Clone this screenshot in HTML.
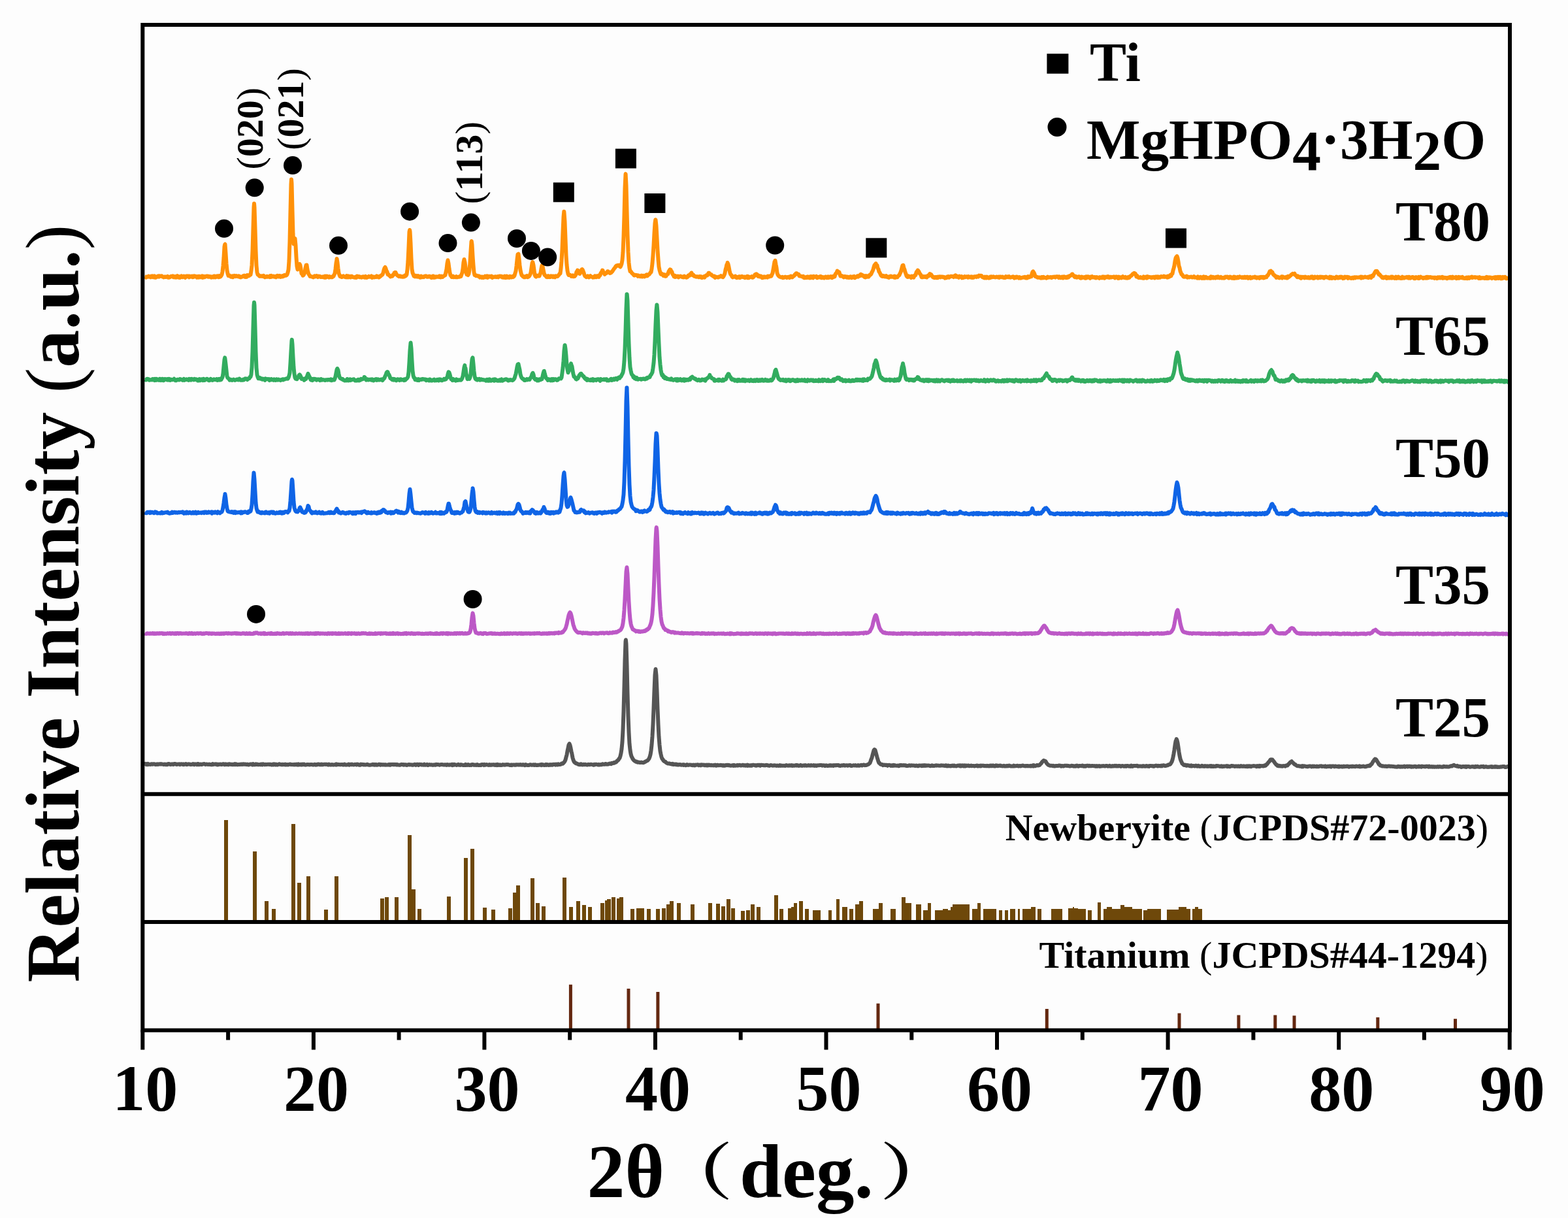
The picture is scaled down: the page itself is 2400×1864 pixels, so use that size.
<!DOCTYPE html><html><head><meta charset="utf-8"><title>XRD</title><style>
html,body{margin:0;padding:0;background:#fdfdfd;}svg{display:block;}
text{font-family:"Liberation Serif","Noto Serif CJK SC",serif;font-weight:bold;fill:#000;}
</style></head><body>
<svg width="2400" height="1864" viewBox="0 0 2400 1864">
<rect width="2400" height="1864" fill="#fdfdfd"/>
<g fill="#6E480A">
<rect x="343" y="1255" width="6" height="154"/>
<rect x="387" y="1303" width="6" height="106"/>
<rect x="405" y="1379" width="6" height="30"/>
<rect x="416" y="1391" width="6" height="18"/>
<rect x="446" y="1261" width="6" height="148"/>
<rect x="455" y="1351" width="6" height="58"/>
<rect x="469" y="1341" width="6" height="68"/>
<rect x="496" y="1392" width="6" height="17"/>
<rect x="512" y="1341" width="6" height="68"/>
<rect x="582" y="1375" width="6" height="34"/>
<rect x="589" y="1373" width="6" height="36"/>
<rect x="604" y="1373" width="6" height="36"/>
<rect x="624" y="1278" width="6" height="131"/>
<rect x="630" y="1361" width="6" height="48"/>
<rect x="639" y="1391" width="6" height="18"/>
<rect x="684" y="1372" width="6" height="37"/>
<rect x="710" y="1313" width="6" height="96"/>
<rect x="720" y="1299" width="6" height="110"/>
<rect x="739" y="1389" width="6" height="20"/>
<rect x="752" y="1392" width="6" height="17"/>
<rect x="778" y="1390" width="6" height="19"/>
<rect x="785" y="1366" width="6" height="43"/>
<rect x="790" y="1355" width="6" height="54"/>
<rect x="812" y="1344" width="6" height="65"/>
<rect x="820" y="1382" width="6" height="27"/>
<rect x="829" y="1387" width="6" height="22"/>
<rect x="861" y="1343" width="6" height="66"/>
<rect x="871" y="1388" width="6" height="21"/>
<rect x="882" y="1379" width="6" height="30"/>
<rect x="891" y="1385" width="6" height="24"/>
<rect x="900" y="1388" width="6" height="21"/>
<rect x="919" y="1382" width="6" height="27"/>
<rect x="926" y="1378" width="6" height="31"/>
<rect x="929" y="1376" width="6" height="33"/>
<rect x="936" y="1373" width="6" height="36"/>
<rect x="944" y="1375" width="6" height="34"/>
<rect x="948" y="1373" width="6" height="36"/>
<rect x="965" y="1391" width="6" height="18"/>
<rect x="974" y="1390" width="6" height="19"/>
<rect x="980" y="1390" width="6" height="19"/>
<rect x="990" y="1391" width="6" height="18"/>
<rect x="1004" y="1391" width="6" height="18"/>
<rect x="1013" y="1390" width="6" height="19"/>
<rect x="1020" y="1384" width="6" height="25"/>
<rect x="1025" y="1379" width="6" height="30"/>
<rect x="1036" y="1382" width="6" height="27"/>
<rect x="1057" y="1384" width="6" height="25"/>
<rect x="1084" y="1382" width="6" height="27"/>
<rect x="1096" y="1383" width="6" height="26"/>
<rect x="1104" y="1387" width="6" height="22"/>
<rect x="1112" y="1376" width="6" height="33"/>
<rect x="1119" y="1390" width="6" height="19"/>
<rect x="1134" y="1394" width="6" height="15"/>
<rect x="1142" y="1393" width="6" height="16"/>
<rect x="1149" y="1384" width="6" height="25"/>
<rect x="1158" y="1388" width="6" height="21"/>
<rect x="1185" y="1370" width="6" height="40"/>
<rect x="1193" y="1391" width="6" height="18"/>
<rect x="1194" y="1393" width="5" height="16"/>
<rect x="1206" y="1390" width="5" height="19"/>
<rect x="1211" y="1388" width="4" height="21"/>
<rect x="1215" y="1382" width="5" height="27"/>
<rect x="1223" y="1379" width="6" height="30"/>
<rect x="1232" y="1391" width="6" height="18"/>
<rect x="1244" y="1393" width="12" height="16"/>
<rect x="1268" y="1393" width="5" height="16"/>
<rect x="1280" y="1376" width="5" height="33"/>
<rect x="1289" y="1388" width="8" height="21"/>
<rect x="1300" y="1391" width="6" height="18"/>
<rect x="1309" y="1384" width="6" height="25"/>
<rect x="1315" y="1379" width="6" height="30"/>
<rect x="1336" y="1391" width="9" height="18"/>
<rect x="1345" y="1382" width="6" height="27"/>
<rect x="1363" y="1391" width="8" height="18"/>
<rect x="1380" y="1373" width="6" height="36"/>
<rect x="1386" y="1382" width="9" height="27"/>
<rect x="1402" y="1384" width="8" height="25"/>
<rect x="1413" y="1393" width="7" height="16"/>
<rect x="1420" y="1382" width="5" height="27"/>
<rect x="1431" y="1393" width="12" height="16"/>
<rect x="1443" y="1391" width="8" height="18"/>
<rect x="1451" y="1393" width="4" height="16"/>
<rect x="1455" y="1388" width="3" height="21"/>
<rect x="1458" y="1384" width="26" height="25"/>
<rect x="1488" y="1391" width="8" height="18"/>
<rect x="1496" y="1382" width="5" height="27"/>
<rect x="1505" y="1391" width="20" height="18"/>
<rect x="1529" y="1393" width="5" height="16"/>
<rect x="1538" y="1393" width="5" height="16"/>
<rect x="1546" y="1391" width="8" height="18"/>
<rect x="1558" y="1391" width="3" height="18"/>
<rect x="1565" y="1391" width="13" height="18"/>
<rect x="1578" y="1388" width="7" height="21"/>
<rect x="1580" y="1388" width="5" height="21"/>
<rect x="1588" y="1391" width="6" height="18"/>
<rect x="1609" y="1391" width="17" height="18"/>
<rect x="1635" y="1390" width="7" height="19"/>
<rect x="1642" y="1388" width="2" height="21"/>
<rect x="1644" y="1390" width="6" height="19"/>
<rect x="1650" y="1391" width="12" height="18"/>
<rect x="1665" y="1393" width="6" height="16"/>
<rect x="1680" y="1381" width="5" height="28"/>
<rect x="1689" y="1391" width="5" height="18"/>
<rect x="1694" y="1388" width="8" height="21"/>
<rect x="1702" y="1391" width="13" height="18"/>
<rect x="1715" y="1385" width="6" height="24"/>
<rect x="1721" y="1388" width="12" height="21"/>
<rect x="1733" y="1391" width="15" height="18"/>
<rect x="1750" y="1393" width="6" height="16"/>
<rect x="1756" y="1391" width="21" height="18"/>
<rect x="1786" y="1392" width="18" height="17"/>
<rect x="1804" y="1388" width="12" height="21"/>
<rect x="1816" y="1391" width="6" height="18"/>
<rect x="1825" y="1391" width="4" height="18"/>
<rect x="1829" y="1388" width="5" height="21"/>
<rect x="1834" y="1391" width="6" height="18"/>
</g>
<g fill="#642810">
<rect x="870.9" y="1506.8" width="5" height="67.7"/>
<rect x="959.5" y="1513.0" width="5" height="61.5"/>
<rect x="1004.4" y="1518.0" width="5" height="56.5"/>
<rect x="1341.5" y="1535.7" width="5" height="38.8"/>
<rect x="1599.8" y="1544.0" width="5" height="30.5"/>
<rect x="1802.5" y="1550.6" width="5" height="23.9"/>
<rect x="1893.4" y="1553.5" width="5" height="21.0"/>
<rect x="1949.3" y="1553.5" width="5" height="21.0"/>
<rect x="1978.5" y="1554.3" width="5" height="20.2"/>
<rect x="2106.3" y="1556.9" width="5" height="17.6"/>
<rect x="2225.0" y="1559.2" width="5" height="15.3"/>
</g>
<g fill="none" stroke-width="6" stroke-linejoin="round" stroke-linecap="butt">
<path stroke="#FF9108" d="M221.5,423.4 222.5,423.7 223.5,424.6 224.5,423.4 225.5,423.5 226.5,423.7 227.5,422.7 228.5,423.5 229.5,423.8 230.5,424.3 231.5,422.5 232.5,423.0 233.5,422.4 234.5,424.3 235.5,424.0 236.5,422.3 237.5,424.8 238.5,424.7 239.5,423.9 240.5,423.8 241.5,422.6 242.5,422.3 243.5,423.6 244.5,422.4 245.5,422.7 246.5,422.8 247.5,422.3 248.5,423.4 249.5,423.4 250.5,424.4 251.5,423.6 252.5,423.9 253.5,423.5 254.5,423.9 255.5,423.4 256.5,422.9 257.5,424.8 258.5,424.8 259.5,424.4 260.5,424.1 261.5,423.0 262.5,422.8 263.5,423.0 264.5,422.4 265.5,424.2 266.5,423.3 267.5,424.4 268.5,423.2 269.5,424.7 270.5,424.4 271.5,422.2 272.5,422.8 273.5,424.6 274.5,423.5 275.5,424.8 276.5,423.3 277.5,422.4 278.5,423.9 279.5,424.3 280.5,422.9 281.5,422.5 282.5,423.1 283.5,424.8 284.5,424.2 285.5,422.6 286.5,422.9 287.5,422.5 288.5,422.4 289.5,424.3 290.5,422.7 291.5,423.7 292.5,423.4 293.5,422.7 294.5,424.2 295.5,422.6 296.5,423.9 297.5,422.5 298.5,423.3 299.5,422.8 300.5,422.9 301.5,424.7 302.5,424.3 303.5,423.0 304.5,424.5 305.5,422.8 306.5,423.2 307.5,424.4 308.5,423.9 309.5,422.5 310.5,424.8 311.5,422.8 312.5,422.9 313.5,424.2 314.5,423.1 315.5,423.0 316.5,422.4 317.5,422.4 318.5,423.7 319.5,422.8 320.5,423.7 321.5,423.1 322.5,423.3 323.5,424.6 324.5,423.4 325.5,423.6 326.5,424.3 327.5,422.5 328.5,422.4 329.5,424.4 330.5,424.1 331.5,422.6 332.5,422.3 333.5,423.7 334.5,424.1 335.5,422.0 336.5,423.8 337.5,423.3 338.5,422.1 339.5,420.3 340.5,415.9 341.5,407.1 342.5,394.8 343.5,377.3 344.2,374.1 344.5,373.8 345.5,387.7 346.5,403.3 347.5,413.6 348.5,418.6 349.5,421.9 350.5,421.0 351.5,421.7 352.5,422.8 353.5,423.7 354.5,423.2 355.5,422.4 356.5,424.2 357.5,422.4 358.5,421.9 359.5,422.6 360.5,423.1 361.5,422.1 362.5,422.4 363.5,422.9 364.5,423.4 365.5,422.3 366.5,422.9 367.5,424.2 368.5,424.4 369.5,423.6 370.5,423.6 371.5,423.3 372.5,422.1 373.5,421.8 374.5,421.7 375.5,423.9 376.5,423.2 377.5,423.8 378.5,421.1 379.5,422.5 380.5,421.8 381.5,421.9 382.5,420.1 383.5,420.5 384.5,414.6 385.5,406.0 386.5,384.4 387.5,349.7 388.5,317.0 389.0,311.6 389.5,317.2 390.5,349.7 391.5,383.4 392.5,406.4 393.5,416.7 394.5,420.2 395.5,420.4 396.5,422.1 397.5,422.8 398.5,422.3 399.5,422.7 400.5,422.2 401.5,422.9 402.5,423.1 403.5,421.8 404.5,423.3 405.5,424.3 406.5,424.0 407.5,423.7 408.5,422.8 409.5,423.8 410.5,423.4 411.5,423.0 412.5,424.1 413.5,422.1 414.5,423.8 415.5,422.0 416.5,423.5 417.5,423.1 418.5,422.5 419.5,423.7 420.5,423.2 421.5,423.4 422.5,424.2 423.5,422.4 424.5,421.8 425.5,422.5 426.5,423.4 427.5,422.1 428.5,422.0 429.5,423.8 430.5,423.1 431.5,422.4 432.5,423.4 433.5,421.8 434.5,422.5 435.5,421.0 436.5,421.2 437.5,421.7 438.5,421.3 439.5,420.2 440.5,417.0 441.5,412.8 442.5,399.0 443.5,369.3 444.5,323.8 445.5,281.8 446.0,274.4 446.5,280.4 447.5,320.7 448.5,358.0 449.5,373.2 450.5,369.7 451.5,364.9 452.5,375.3 453.5,393.6 454.5,407.5 455.5,412.5 456.5,410.9 457.5,407.9 458.5,405.5 458.6,404.1 459.5,405.9 460.5,411.6 461.5,418.6 462.5,419.0 463.5,421.6 464.5,421.2 465.5,419.3 466.5,417.4 467.5,410.2 468.5,405.8 469.0,405.8 469.5,405.6 470.5,412.6 471.5,416.4 472.5,419.6 473.5,420.8 474.5,422.9 475.5,422.7 476.5,423.3 477.5,423.5 478.5,423.9 479.5,424.4 480.5,423.7 481.5,422.5 482.5,423.3 483.5,422.5 484.5,422.1 485.5,423.3 486.5,424.0 487.5,422.6 488.5,422.8 489.5,423.0 490.5,424.0 491.5,423.5 492.5,423.8 493.5,424.1 494.5,423.3 495.5,424.3 496.5,424.6 497.5,422.5 498.5,424.7 499.5,424.1 500.5,422.6 501.5,423.4 502.5,423.8 503.5,424.5 504.5,423.1 505.5,423.6 506.5,424.3 507.5,424.0 508.5,424.2 509.5,422.8 510.5,422.8 511.5,420.3 512.5,418.3 513.5,411.9 514.5,402.5 515.5,397.3 515.6,396.0 516.5,401.6 517.5,410.6 518.5,417.9 519.5,420.8 520.5,423.0 521.5,422.4 522.5,424.1 523.5,424.1 524.5,422.9 525.5,422.3 526.5,423.3 527.5,423.6 528.5,424.2 529.5,423.5 530.5,422.3 531.5,424.4 532.5,422.5 533.5,424.4 534.5,422.8 535.5,423.2 536.5,424.4 537.5,422.7 538.5,422.7 539.5,423.7 540.5,424.2 541.5,424.5 542.5,424.2 543.5,424.8 544.5,423.7 545.5,424.8 546.5,422.6 547.5,423.0 548.5,423.7 549.5,423.1 550.5,424.3 551.5,424.0 552.5,423.7 553.5,424.6 554.5,423.8 555.5,423.2 556.5,423.4 557.5,424.6 558.5,424.7 559.5,422.9 560.5,424.6 561.5,424.9 562.5,423.7 563.5,423.9 564.5,422.9 565.5,423.8 566.5,423.7 567.5,423.9 568.5,422.4 569.5,424.9 570.5,423.7 571.5,423.4 572.5,424.4 573.5,423.8 574.5,423.6 575.5,424.1 576.5,422.4 577.5,423.6 578.5,423.2 579.5,424.5 580.5,424.4 581.5,422.5 582.5,422.7 583.5,421.3 584.5,421.0 585.5,420.1 586.5,417.7 587.5,413.5 588.5,410.3 589.5,408.9 590.5,411.1 591.5,414.6 592.5,415.7 593.5,420.0 594.5,419.8 595.5,421.3 596.5,421.9 597.5,423.4 598.5,422.5 599.5,422.4 600.5,422.7 601.5,420.5 602.5,420.7 603.5,417.6 604.5,417.5 604.8,416.8 605.5,417.0 606.5,419.2 607.5,420.6 608.5,421.6 609.5,422.4 610.5,423.1 611.5,422.2 612.5,422.4 613.5,423.5 614.5,423.4 615.5,423.1 616.5,423.8 617.5,423.0 618.5,423.5 619.5,421.6 620.5,422.5 621.5,421.8 622.5,420.0 623.5,412.7 624.5,399.3 625.5,378.7 626.5,354.9 627.1,352.0 627.5,354.0 628.5,371.7 629.5,395.3 630.5,411.8 631.5,417.6 632.5,419.7 633.5,422.6 634.5,422.1 635.5,423.3 636.5,421.8 637.5,422.7 638.5,423.6 639.5,422.0 640.5,422.5 641.5,423.8 642.5,424.5 643.5,424.7 644.5,422.5 645.5,423.5 646.5,424.2 647.5,423.6 648.5,424.1 649.5,422.8 650.5,422.5 651.5,422.6 652.5,422.4 653.5,423.8 654.5,423.7 655.5,423.8 656.5,422.7 657.5,422.8 658.5,422.9 659.5,424.6 660.5,425.0 661.5,424.8 662.5,422.6 663.5,422.5 664.5,424.8 665.5,423.6 666.5,424.4 667.5,423.2 668.5,423.6 669.5,423.7 670.5,423.4 671.5,423.9 672.5,422.3 673.5,424.1 674.5,424.4 675.5,422.6 676.5,423.3 677.5,423.9 678.5,422.9 679.5,422.2 680.5,421.6 681.5,421.1 682.5,416.3 683.5,411.8 684.5,403.0 685.5,398.3 686.5,403.1 687.5,411.1 688.5,417.2 689.5,421.3 690.5,422.4 691.5,424.1 692.5,423.9 693.5,422.6 694.5,424.3 695.5,423.9 696.5,424.1 697.5,424.2 698.5,423.1 699.5,424.3 700.5,424.3 701.5,423.7 702.5,423.8 703.5,423.7 704.5,422.5 705.5,422.9 706.5,419.9 707.5,417.3 708.5,411.2 709.5,401.4 710.5,397.0 710.6,397.7 711.5,401.2 712.5,408.5 713.5,417.3 714.5,420.2 715.5,420.5 716.5,421.0 717.5,418.9 718.5,413.2 719.5,400.7 720.5,384.5 721.5,369.9 721.8,369.1 722.5,374.2 723.5,392.0 724.5,405.7 725.5,416.7 726.5,421.0 727.5,421.2 728.5,422.1 729.5,421.5 730.5,422.2 731.5,422.8 732.5,422.2 733.5,422.7 734.5,424.5 735.5,423.6 736.5,423.5 737.5,424.8 738.5,423.8 739.5,424.9 740.5,424.0 741.5,424.5 742.5,422.6 743.5,423.9 744.5,424.4 745.5,422.5 746.5,424.8 747.5,422.8 748.5,423.7 749.5,422.9 750.5,423.7 751.5,424.0 752.5,422.6 753.5,424.9 754.5,423.6 755.5,423.8 756.5,424.0 757.5,423.4 758.5,423.2 759.5,424.2 760.5,423.9 761.5,423.2 762.5,424.3 763.5,423.2 764.5,422.5 765.5,423.1 766.5,422.6 767.5,422.9 768.5,424.4 769.5,423.4 770.5,424.8 771.5,424.4 772.5,422.6 773.5,425.0 774.5,424.9 775.5,422.6 776.5,424.7 777.5,423.4 778.5,423.5 779.5,424.8 780.5,422.8 781.5,423.5 782.5,424.5 783.5,423.8 784.5,423.0 785.5,424.0 786.5,423.2 787.5,421.6 788.5,418.1 789.5,414.9 790.5,407.1 791.5,397.2 792.5,389.2 793.1,388.9 793.5,388.6 794.5,396.0 795.5,405.9 796.5,413.2 797.5,417.8 798.5,421.2 799.5,421.9 800.5,423.4 801.5,423.0 802.5,424.3 803.5,424.2 804.5,423.7 805.5,422.5 806.5,422.1 807.5,424.1 808.5,423.7 809.5,423.1 810.5,421.8 811.5,419.9 812.5,417.1 813.5,410.0 814.5,402.9 815.2,401.0 815.5,401.7 816.5,405.9 817.5,413.5 818.5,420.5 819.5,422.8 820.5,423.5 821.5,421.6 822.5,421.8 823.5,422.3 824.5,422.6 825.5,422.6 826.5,419.8 827.5,417.6 828.5,411.1 829.5,406.3 830.0,407.1 830.5,407.5 831.5,412.6 832.5,417.2 833.5,420.9 834.5,421.6 835.5,422.5 836.5,423.8 837.5,424.1 838.5,422.2 839.5,422.3 840.5,424.1 841.5,423.6 842.5,424.0 843.5,422.5 844.5,423.1 845.5,422.6 846.5,424.0 847.5,422.7 848.5,423.4 849.5,424.2 850.5,422.3 851.5,422.7 852.5,423.0 853.5,423.1 854.5,421.4 855.5,420.7 856.5,418.9 857.5,418.5 858.5,411.0 859.5,399.7 860.5,381.6 861.5,355.5 862.5,332.3 863.3,323.7 863.5,325.5 864.5,339.0 865.5,365.5 866.5,390.6 867.5,405.1 868.5,414.2 869.5,419.2 870.5,420.9 871.5,420.6 872.5,420.8 873.5,421.7 874.5,422.9 875.5,422.1 876.5,421.5 877.5,423.1 878.5,422.5 879.5,422.9 880.5,421.8 881.5,419.8 882.5,416.1 883.5,415.2 884.0,413.6 884.5,413.9 885.5,415.6 886.5,418.6 887.5,419.0 888.5,416.2 889.5,414.2 890.5,412.3 891.0,412.0 891.5,412.5 892.5,414.8 893.5,417.3 894.5,420.7 895.5,422.8 896.5,422.9 897.5,424.1 898.5,423.4 899.5,422.5 900.5,424.0 901.5,424.4 902.5,422.9 903.5,422.2 904.5,423.5 905.5,423.6 906.5,423.7 907.5,424.7 908.5,423.9 909.5,424.3 910.5,422.3 911.5,423.5 912.5,424.1 913.5,422.2 914.5,422.2 915.5,423.7 916.5,423.9 917.5,421.1 918.5,421.3 919.5,418.0 920.5,417.1 921.5,414.9 922.0,413.6 922.5,413.7 923.5,416.8 924.5,418.1 925.5,419.9 926.5,418.9 927.5,417.8 928.5,417.9 929.5,415.9 930.0,415.2 930.5,415.2 931.5,416.2 932.5,417.0 933.5,418.1 934.5,416.8 935.5,417.3 936.5,415.9 937.5,415.0 938.5,413.3 939.5,411.8 940.5,410.5 941.5,409.4 942.5,407.5 943.5,406.5 944.0,406.8 944.5,406.9 945.5,405.9 946.5,406.1 947.5,405.8 948.5,407.7 949.5,408.5 950.5,406.4 951.5,403.7 952.5,398.2 953.5,386.3 954.5,362.7 955.5,329.4 956.5,287.8 957.5,266.8 957.6,266.1 958.5,283.4 959.5,322.6 960.5,358.8 961.5,385.4 962.5,402.0 963.5,410.4 964.5,415.3 965.5,415.3 966.5,417.0 967.5,418.2 968.5,419.1 969.5,419.7 970.5,421.4 971.5,421.4 972.5,420.8 973.5,420.9 974.5,421.3 975.5,421.2 976.5,422.8 977.5,421.7 978.5,422.4 979.5,423.2 980.5,422.3 981.5,421.7 982.5,423.4 983.5,423.4 984.5,421.9 985.5,422.3 986.5,423.3 987.5,421.9 988.5,421.1 989.5,420.4 990.5,422.4 991.5,421.7 992.5,420.2 993.5,419.9 994.5,419.0 995.5,417.0 996.5,416.6 997.5,411.5 998.5,403.2 999.5,391.1 1000.5,376.1 1001.5,356.8 1002.5,341.6 1003.3,336.3 1003.5,336.4 1004.5,345.6 1005.5,364.0 1006.5,382.7 1007.5,397.0 1008.5,408.3 1009.5,413.2 1010.5,416.8 1011.5,419.6 1012.5,418.8 1013.5,420.3 1014.5,419.8 1015.5,421.9 1016.5,420.2 1017.5,422.5 1018.5,422.8 1019.5,422.6 1020.5,420.2 1021.5,419.7 1022.5,419.2 1023.5,415.4 1024.5,414.0 1025.5,412.4 1026.0,413.5 1026.5,412.8 1027.5,415.2 1028.5,416.2 1029.5,419.8 1030.5,420.7 1031.5,423.1 1032.5,421.7 1033.5,423.9 1034.5,422.5 1035.5,423.5 1036.5,423.5 1037.5,422.6 1038.5,424.4 1039.5,423.1 1040.5,423.1 1041.5,422.5 1042.5,423.2 1043.5,423.6 1044.5,424.2 1045.5,423.3 1046.5,424.2 1047.5,422.7 1048.5,423.4 1049.5,423.6 1050.5,424.8 1051.5,424.4 1052.5,423.7 1053.5,421.6 1054.5,421.9 1055.5,421.8 1056.5,419.5 1057.5,419.4 1058.4,418.8 1058.5,417.6 1059.5,420.7 1060.5,421.2 1061.5,420.8 1062.5,422.7 1063.5,422.5 1064.5,423.1 1065.5,423.7 1066.5,423.2 1067.5,423.3 1068.5,423.5 1069.5,424.2 1070.5,423.2 1071.5,423.0 1072.5,424.4 1073.5,423.4 1074.5,425.0 1075.5,424.0 1076.5,424.4 1077.5,423.3 1078.5,424.5 1079.5,422.3 1080.5,422.0 1081.5,421.1 1082.5,421.5 1083.5,420.2 1084.5,417.7 1085.5,417.8 1086.5,419.4 1087.5,419.9 1088.5,419.9 1089.5,421.4 1090.5,422.0 1091.5,422.4 1092.5,423.4 1093.5,422.6 1094.5,424.9 1095.5,423.6 1096.5,423.8 1097.5,424.2 1098.5,424.5 1099.5,424.6 1100.5,423.4 1101.5,423.3 1102.5,423.4 1103.5,422.3 1104.5,423.2 1105.5,423.8 1106.5,424.1 1107.5,422.8 1108.5,420.9 1109.5,418.2 1110.5,412.8 1111.5,409.0 1112.5,404.8 1113.5,403.5 1113.6,402.1 1114.5,404.2 1115.5,408.5 1116.5,413.9 1117.5,418.1 1118.5,420.4 1119.5,420.9 1120.5,423.4 1121.5,424.3 1122.5,423.6 1123.5,423.2 1124.5,423.7 1125.5,422.8 1126.5,424.3 1127.5,425.1 1128.5,423.9 1129.5,424.5 1130.5,424.8 1131.5,423.2 1132.5,425.1 1133.5,424.3 1134.5,423.2 1135.5,422.9 1136.5,423.3 1137.5,424.2 1138.5,424.5 1139.5,423.6 1140.5,425.1 1141.5,423.7 1142.5,423.9 1143.5,423.0 1144.5,425.2 1145.5,423.1 1146.5,425.0 1147.5,424.1 1148.5,424.1 1149.5,424.1 1150.5,423.2 1151.5,424.8 1152.5,424.7 1153.5,423.7 1154.5,422.4 1155.5,420.3 1156.5,421.3 1157.5,419.5 1157.6,421.1 1158.5,419.7 1159.5,421.3 1160.5,422.8 1161.5,421.9 1162.5,423.4 1163.5,422.5 1164.5,422.6 1165.5,423.0 1166.5,425.2 1167.5,425.1 1168.5,424.3 1169.5,423.4 1170.5,424.4 1171.5,424.5 1172.5,423.6 1173.5,424.1 1174.5,424.6 1175.5,422.5 1176.5,422.9 1177.5,423.5 1178.5,422.5 1179.5,422.8 1180.5,422.7 1181.5,420.2 1182.5,418.1 1183.5,412.5 1184.5,406.9 1185.5,400.7 1186.2,400.0 1186.5,398.7 1187.5,404.6 1188.5,409.7 1189.5,417.5 1190.5,420.4 1191.5,422.0 1192.5,422.7 1193.5,423.7 1194.5,424.0 1195.5,424.3 1196.5,424.4 1197.5,423.8 1198.5,425.1 1199.5,424.8 1200.5,424.8 1201.5,423.7 1202.5,423.8 1203.5,424.1 1204.5,425.0 1205.5,424.0 1206.5,424.0 1207.5,423.8 1208.5,425.0 1209.5,423.4 1210.5,422.6 1211.5,424.2 1212.5,424.4 1213.5,423.5 1214.5,422.6 1215.5,422.2 1216.5,420.2 1217.5,420.2 1218.5,418.2 1219.4,418.2 1219.5,419.0 1220.5,419.5 1221.5,419.8 1222.5,419.8 1223.5,422.3 1224.5,422.5 1225.5,422.4 1226.5,422.9 1227.5,423.4 1228.5,423.2 1229.5,422.8 1230.5,425.1 1231.5,425.3 1232.5,424.5 1233.5,425.0 1234.5,423.9 1235.5,424.9 1236.5,423.4 1237.5,424.8 1238.5,424.3 1239.5,425.2 1240.5,423.1 1241.5,424.9 1242.5,423.2 1243.5,424.2 1244.5,425.3 1245.5,422.8 1246.5,423.5 1247.5,423.6 1248.5,423.7 1249.5,423.0 1250.5,425.2 1251.5,425.0 1252.5,423.9 1253.5,423.8 1254.5,424.4 1255.5,423.0 1256.5,422.9 1257.5,425.2 1258.5,423.7 1259.5,424.1 1260.5,425.3 1261.5,425.4 1262.5,424.1 1263.5,423.4 1264.5,423.6 1265.5,425.2 1266.5,425.1 1267.5,423.3 1268.5,424.9 1269.5,423.7 1270.5,424.0 1271.5,423.1 1272.5,424.9 1273.5,425.2 1274.5,423.0 1275.5,423.9 1276.5,422.3 1277.5,423.3 1278.5,419.9 1279.5,418.2 1280.5,417.6 1281.5,414.7 1282.4,415.6 1282.5,415.6 1283.5,416.1 1284.5,416.5 1285.5,420.1 1286.5,422.5 1287.5,422.4 1288.5,422.1 1289.5,422.9 1290.5,423.3 1291.5,424.4 1292.5,423.1 1293.5,423.1 1294.5,423.3 1295.5,424.4 1296.5,424.8 1297.5,423.7 1298.5,424.5 1299.5,425.0 1300.5,424.3 1301.5,423.3 1302.5,423.5 1303.5,425.1 1304.5,424.5 1305.5,423.4 1306.5,424.4 1307.5,422.9 1308.5,425.2 1309.5,423.8 1310.5,423.9 1311.5,423.8 1312.5,422.4 1313.5,423.5 1314.5,422.1 1315.5,421.4 1316.5,422.1 1317.5,419.8 1317.9,420.3 1318.5,421.6 1319.5,420.7 1320.5,421.4 1321.5,422.7 1322.5,422.1 1323.5,424.2 1324.5,424.5 1325.5,422.0 1326.5,423.0 1327.5,423.6 1328.5,422.5 1329.5,423.6 1330.5,422.0 1331.5,420.5 1332.5,420.4 1333.5,419.3 1334.5,416.6 1335.5,415.0 1336.5,412.4 1337.5,408.7 1338.5,405.8 1339.5,404.7 1340.3,403.7 1340.5,403.3 1341.5,405.6 1342.5,406.0 1343.5,410.6 1344.5,412.0 1345.5,415.9 1346.5,417.1 1347.5,419.4 1348.5,421.5 1349.5,422.4 1350.5,423.0 1351.5,421.9 1352.5,422.9 1353.5,422.4 1354.5,423.5 1355.5,423.4 1356.5,422.3 1357.5,423.8 1358.5,424.2 1359.5,423.8 1360.5,424.7 1361.5,422.9 1362.5,422.9 1363.5,422.5 1364.5,423.8 1365.5,423.6 1366.5,423.7 1367.5,423.2 1368.5,424.6 1369.5,422.7 1370.5,424.8 1371.5,423.9 1372.5,423.7 1373.5,424.2 1374.5,422.5 1375.5,421.8 1376.5,421.2 1377.5,418.7 1378.5,416.6 1379.5,413.7 1380.5,409.6 1381.5,406.2 1382.0,406.7 1382.5,405.8 1383.5,410.3 1384.5,412.5 1385.5,416.4 1386.5,419.0 1387.5,422.2 1388.5,423.6 1389.5,424.0 1390.5,422.3 1391.5,423.4 1392.5,423.3 1393.5,423.0 1394.5,425.0 1395.5,422.5 1396.5,423.7 1397.5,424.2 1398.5,424.6 1399.5,421.8 1400.5,421.6 1401.5,420.8 1402.5,416.9 1403.5,415.3 1404.5,415.7 1404.9,413.6 1405.5,414.6 1406.5,415.9 1407.5,418.4 1408.5,419.4 1409.5,420.8 1410.5,424.2 1411.5,424.1 1412.5,424.3 1413.5,423.1 1414.5,423.2 1415.5,424.0 1416.5,423.1 1417.5,423.5 1418.5,424.4 1419.5,422.4 1420.5,421.5 1421.5,422.3 1422.5,420.7 1423.2,419.0 1423.5,420.0 1424.5,421.2 1425.5,420.5 1426.5,422.1 1427.5,423.7 1428.5,424.6 1429.5,424.1 1430.5,425.1 1431.5,424.0 1432.5,423.9 1433.5,425.1 1434.5,423.9 1435.5,425.0 1436.5,423.5 1437.5,423.8 1438.5,423.4 1439.5,424.4 1440.5,423.4 1441.5,423.5 1442.5,423.5 1443.5,424.2 1444.5,423.8 1445.5,424.1 1446.5,425.6 1447.5,424.7 1448.5,425.2 1449.5,423.5 1450.5,424.0 1451.5,423.1 1452.5,424.7 1453.5,423.8 1454.5,423.5 1455.5,422.7 1456.5,423.0 1457.5,422.9 1458.5,422.9 1459.5,424.0 1460.5,423.1 1461.5,421.8 1462.0,422.0 1462.5,421.5 1463.5,423.7 1464.5,422.5 1465.5,423.9 1466.5,424.1 1467.5,424.8 1468.5,422.7 1469.5,423.7 1470.5,423.9 1471.5,423.2 1472.5,425.3 1473.5,423.9 1474.5,425.0 1475.5,424.4 1476.5,423.2 1477.5,424.1 1478.5,423.7 1479.5,423.2 1480.5,423.4 1481.5,424.6 1482.5,423.1 1483.5,423.9 1484.5,424.1 1485.5,424.5 1486.5,423.4 1487.5,424.9 1488.5,423.7 1489.5,424.9 1490.5,424.6 1491.5,423.2 1492.5,423.2 1493.5,423.2 1494.5,424.0 1495.5,422.9 1496.5,422.5 1497.5,423.5 1498.5,421.7 1498.7,421.9 1499.5,422.1 1500.5,422.0 1501.5,421.8 1502.5,422.1 1503.5,424.0 1504.5,424.1 1505.5,424.9 1506.5,425.4 1507.5,423.7 1508.5,424.8 1509.5,425.4 1510.5,423.6 1511.5,424.9 1512.5,424.8 1513.5,425.6 1514.5,425.3 1515.5,423.7 1516.5,424.7 1517.5,423.3 1518.5,424.2 1519.5,424.1 1520.5,423.3 1521.5,424.1 1522.5,424.0 1523.5,424.4 1524.5,423.8 1525.5,423.5 1526.5,424.2 1527.5,424.4 1528.5,423.6 1529.5,424.9 1530.5,423.8 1531.5,423.4 1532.5,424.0 1533.5,424.2 1534.5,423.5 1535.5,424.6 1536.5,425.0 1537.5,424.6 1538.5,425.0 1539.5,423.2 1540.5,424.2 1541.5,424.1 1542.5,423.3 1543.5,424.2 1544.5,423.3 1545.5,424.4 1546.5,424.7 1547.5,424.4 1548.5,424.0 1549.5,423.8 1550.5,423.2 1551.5,424.0 1552.5,425.5 1553.5,424.6 1554.5,423.8 1555.5,424.9 1556.5,423.6 1557.5,424.4 1558.5,424.7 1559.5,425.6 1560.5,424.1 1561.5,424.6 1562.5,425.6 1563.5,425.1 1564.5,424.8 1565.5,424.7 1566.5,424.2 1567.5,424.2 1568.5,423.8 1569.5,425.3 1570.5,425.4 1571.5,424.1 1572.5,425.4 1573.5,423.1 1574.5,423.3 1575.5,424.2 1576.5,423.5 1577.5,423.1 1578.5,423.3 1579.5,418.8 1580.5,416.2 1581.3,415.4 1581.5,416.6 1582.5,417.3 1583.5,419.5 1584.5,422.9 1585.5,423.5 1586.5,423.4 1587.5,424.2 1588.5,424.7 1589.5,424.5 1590.5,424.7 1591.5,424.5 1592.5,425.3 1593.5,425.6 1594.5,424.0 1595.5,424.0 1596.5,425.4 1597.5,424.0 1598.5,425.0 1599.5,425.0 1600.5,424.9 1601.5,425.7 1602.5,425.3 1603.5,423.6 1604.5,424.8 1605.5,424.4 1606.5,424.6 1607.5,424.1 1608.5,423.9 1609.5,425.1 1610.5,424.6 1611.5,423.8 1612.5,423.8 1613.5,424.0 1614.5,423.6 1615.5,424.5 1616.5,423.5 1617.5,423.3 1618.5,423.3 1619.5,423.4 1620.5,425.0 1621.5,423.5 1622.5,424.3 1623.5,425.2 1624.5,424.4 1625.5,423.6 1626.5,425.4 1627.5,425.4 1628.5,423.3 1629.5,423.8 1630.5,424.4 1631.5,425.1 1632.5,424.0 1633.5,424.8 1634.5,423.4 1635.5,424.3 1636.5,422.7 1637.5,421.9 1638.5,421.9 1639.5,421.1 1640.5,420.4 1640.8,419.7 1641.5,419.5 1642.5,421.1 1643.5,422.0 1644.5,423.6 1645.5,424.2 1646.5,422.9 1647.5,423.8 1648.5,424.7 1649.5,423.7 1650.5,423.6 1651.5,423.2 1652.5,424.7 1653.5,425.6 1654.5,425.7 1655.5,423.5 1656.5,425.0 1657.5,424.3 1658.5,424.8 1659.5,424.2 1660.5,425.6 1661.5,425.8 1662.5,423.3 1663.5,425.1 1664.5,423.5 1665.5,423.3 1666.5,424.0 1667.5,425.1 1668.5,425.8 1669.5,423.5 1670.5,424.1 1671.5,423.3 1672.5,424.6 1673.5,424.5 1674.5,424.2 1675.5,424.0 1676.5,425.3 1677.5,425.4 1678.5,424.0 1679.5,424.3 1680.5,424.8 1681.5,425.2 1682.5,425.8 1683.5,424.2 1684.5,425.0 1685.5,424.7 1686.5,425.3 1687.5,423.6 1688.5,423.7 1689.5,423.5 1690.5,425.7 1691.5,423.9 1692.5,424.5 1693.5,423.6 1694.5,424.1 1695.5,423.3 1696.5,424.7 1697.5,423.6 1698.5,424.9 1699.5,424.0 1700.5,423.8 1701.5,424.5 1702.5,424.2 1703.5,423.9 1704.5,423.4 1705.5,423.4 1706.5,425.5 1707.5,424.0 1708.5,423.4 1709.5,423.7 1710.5,424.5 1711.5,425.8 1712.5,423.7 1713.5,425.5 1714.5,424.5 1715.5,424.3 1716.5,425.3 1717.5,424.2 1718.5,423.3 1719.5,424.6 1720.5,424.9 1721.5,424.8 1722.5,423.9 1723.5,425.6 1724.5,425.4 1725.5,425.7 1726.5,424.2 1727.5,425.2 1728.5,424.8 1729.5,423.2 1730.5,422.4 1731.5,422.1 1732.5,420.9 1733.5,419.5 1734.5,419.0 1735.5,419.2 1735.8,418.0 1736.5,418.8 1737.5,418.5 1738.5,420.4 1739.5,423.5 1740.5,422.0 1741.5,423.9 1742.5,424.9 1743.5,425.0 1744.5,424.9 1745.5,424.1 1746.5,425.2 1747.5,425.2 1748.5,425.1 1749.5,425.7 1750.5,423.4 1751.5,425.6 1752.5,424.2 1753.5,425.0 1754.5,423.8 1755.5,425.5 1756.5,423.2 1757.5,424.6 1758.5,423.7 1759.5,424.1 1760.5,424.1 1761.5,424.8 1762.5,425.2 1763.5,424.1 1764.5,424.8 1765.5,424.0 1766.5,423.8 1767.5,425.4 1768.5,423.9 1769.5,423.3 1770.5,423.9 1771.5,424.9 1772.5,423.5 1773.5,424.9 1774.5,424.4 1775.5,424.7 1776.5,423.3 1777.5,423.1 1778.5,423.2 1779.5,423.7 1780.5,423.8 1781.5,422.7 1782.5,423.9 1783.5,423.6 1784.5,423.3 1785.5,423.7 1786.5,424.6 1787.5,422.5 1788.5,424.1 1789.5,422.3 1790.5,423.1 1791.5,420.8 1792.5,422.2 1793.5,419.4 1794.5,418.8 1795.5,413.9 1796.5,410.5 1797.5,406.4 1798.5,399.7 1799.5,395.1 1800.5,393.0 1801.0,393.3 1801.5,392.1 1802.5,394.8 1803.5,400.2 1804.5,407.1 1805.5,409.8 1806.5,415.0 1807.5,417.3 1808.5,420.0 1809.5,420.2 1810.5,422.2 1811.5,423.5 1812.5,423.8 1813.5,423.5 1814.5,423.3 1815.5,423.7 1816.5,422.6 1817.5,424.6 1818.5,424.3 1819.5,423.8 1820.5,424.4 1821.5,423.8 1822.5,423.8 1823.5,423.5 1824.5,424.5 1825.5,424.4 1826.5,424.3 1827.5,423.1 1828.5,424.6 1829.5,424.2 1830.5,424.6 1831.5,424.6 1832.5,425.5 1833.5,423.5 1834.5,424.3 1835.5,425.7 1836.5,425.1 1837.5,424.0 1838.5,425.1 1839.5,425.8 1840.5,424.2 1841.5,425.5 1842.5,423.5 1843.5,425.8 1844.5,424.5 1845.5,423.8 1846.5,425.4 1847.5,424.9 1848.5,425.7 1849.5,425.4 1850.5,425.3 1851.5,424.6 1852.5,425.9 1853.5,423.4 1854.5,425.5 1855.5,425.1 1856.5,423.9 1857.5,425.4 1858.5,424.5 1859.5,424.7 1860.5,425.5 1861.5,423.8 1862.5,424.0 1863.5,425.0 1864.5,423.5 1865.5,424.8 1866.5,425.4 1867.5,424.6 1868.5,423.9 1869.5,425.4 1870.5,425.5 1871.5,425.3 1872.5,424.8 1873.5,425.7 1874.5,425.4 1875.5,423.7 1876.5,424.3 1877.5,423.6 1878.5,423.4 1879.5,424.2 1880.5,425.6 1881.5,425.5 1882.5,423.6 1883.5,423.8 1884.5,424.4 1885.5,425.6 1886.5,424.9 1887.5,425.7 1888.5,423.5 1889.5,425.9 1890.5,423.9 1891.5,425.0 1892.5,425.6 1893.5,425.2 1894.5,423.9 1895.5,425.1 1896.5,424.5 1897.5,423.4 1898.5,424.3 1899.5,424.2 1900.5,425.0 1901.5,424.1 1902.5,424.9 1903.5,425.2 1904.5,423.8 1905.5,423.7 1906.5,425.2 1907.5,424.6 1908.5,423.7 1909.5,423.7 1910.5,425.8 1911.5,425.0 1912.5,424.3 1913.5,423.9 1914.5,425.9 1915.5,425.2 1916.5,425.3 1917.5,424.3 1918.5,424.2 1919.5,424.4 1920.5,423.7 1921.5,425.0 1922.5,424.4 1923.5,425.5 1924.5,424.4 1925.5,424.5 1926.5,424.6 1927.5,425.7 1928.5,424.2 1929.5,425.1 1930.5,423.8 1931.5,424.7 1932.5,423.9 1933.5,425.4 1934.5,423.8 1935.5,425.1 1936.5,424.4 1937.5,423.5 1938.5,424.1 1939.5,421.9 1940.5,421.6 1941.5,419.8 1942.5,417.8 1943.5,415.3 1944.5,415.2 1945.2,414.6 1945.5,415.1 1946.5,417.1 1947.5,416.7 1948.5,419.4 1949.5,420.8 1950.5,421.0 1951.5,422.5 1952.5,422.4 1953.5,424.9 1954.5,423.4 1955.5,424.0 1956.5,423.9 1957.5,425.2 1958.5,425.4 1959.5,424.7 1960.5,424.6 1961.5,423.5 1962.5,425.5 1963.5,423.4 1964.5,424.2 1965.5,424.2 1966.5,425.1 1967.5,424.9 1968.5,424.0 1969.5,425.4 1970.5,425.4 1971.5,422.8 1972.5,424.1 1973.5,423.2 1974.5,422.3 1975.5,421.6 1976.5,420.2 1977.5,420.0 1978.5,418.9 1979.5,419.4 1979.8,419.4 1980.5,419.6 1981.5,418.7 1982.5,420.9 1983.5,421.5 1984.5,422.7 1985.5,424.2 1986.5,422.4 1987.5,423.9 1988.5,424.0 1989.5,424.8 1990.5,423.7 1991.5,425.8 1992.5,423.8 1993.5,424.3 1994.5,423.7 1995.5,424.4 1996.5,425.3 1997.5,423.6 1998.5,423.8 1999.5,425.1 2000.5,425.0 2001.5,425.3 2002.5,424.1 2003.5,425.5 2004.5,425.3 2005.5,425.4 2006.5,423.7 2007.5,424.7 2008.5,423.5 2009.5,425.7 2010.5,425.9 2011.5,425.8 2012.5,423.5 2013.5,424.4 2014.5,424.8 2015.5,424.8 2016.5,423.7 2017.5,425.5 2018.5,424.2 2019.5,424.8 2020.5,423.8 2021.5,424.9 2022.5,423.8 2023.5,423.7 2024.5,424.8 2025.5,424.2 2026.5,425.5 2027.5,424.1 2028.5,424.5 2029.5,423.6 2030.5,424.0 2031.5,424.6 2032.5,424.9 2033.5,424.7 2034.5,425.7 2035.5,423.7 2036.5,425.7 2037.5,423.9 2038.5,426.0 2039.5,424.8 2040.5,424.5 2041.5,425.1 2042.5,425.7 2043.5,426.0 2044.5,424.6 2045.5,423.5 2046.5,423.9 2047.5,425.6 2048.5,425.4 2049.5,425.3 2050.5,423.9 2051.5,424.9 2052.5,423.6 2053.5,423.8 2054.5,424.3 2055.5,426.0 2056.5,425.2 2057.5,425.7 2058.5,423.6 2059.5,424.6 2060.5,423.7 2061.5,424.2 2062.5,423.8 2063.5,425.9 2064.5,424.3 2065.5,424.8 2066.5,425.2 2067.5,425.8 2068.5,426.0 2069.5,425.0 2070.5,424.8 2071.5,425.8 2072.5,424.5 2073.5,424.3 2074.5,425.4 2075.5,424.2 2076.5,424.4 2077.5,424.6 2078.5,424.7 2079.5,424.4 2080.5,424.6 2081.5,424.6 2082.5,423.6 2083.5,425.6 2084.5,423.6 2085.5,424.8 2086.5,424.9 2087.5,424.5 2088.5,424.0 2089.5,423.6 2090.5,424.3 2091.5,424.2 2092.5,424.6 2093.5,423.9 2094.5,425.2 2095.5,424.4 2096.5,423.1 2097.5,424.0 2098.5,425.1 2099.5,422.1 2100.5,422.9 2101.5,422.8 2102.5,419.9 2103.5,418.8 2104.5,416.6 2105.5,415.1 2106.5,415.3 2106.7,415.2 2107.5,414.8 2108.5,416.4 2109.5,418.0 2110.5,420.2 2111.5,419.9 2112.5,421.2 2113.5,422.5 2114.5,423.1 2115.5,424.9 2116.5,424.1 2117.5,425.4 2118.5,424.3 2119.5,424.0 2120.5,425.1 2121.5,423.6 2122.5,425.9 2123.5,425.6 2124.5,424.3 2125.5,424.3 2126.5,425.6 2127.5,425.5 2128.5,425.1 2129.5,423.6 2130.5,425.5 2131.5,423.6 2132.5,425.1 2133.5,424.9 2134.5,425.9 2135.5,425.2 2136.5,423.6 2137.5,426.0 2138.5,425.5 2139.5,425.0 2140.5,423.6 2141.5,425.5 2142.5,424.6 2143.5,425.3 2144.5,426.1 2145.5,425.9 2146.5,423.7 2147.5,425.6 2148.5,424.7 2149.5,425.5 2150.5,424.5 2151.5,424.7 2152.5,424.7 2153.5,423.9 2154.5,424.4 2155.5,425.5 2156.5,423.8 2157.5,423.9 2158.5,425.7 2159.5,425.3 2160.5,425.0 2161.5,423.9 2162.5,423.9 2163.5,424.4 2164.5,426.1 2165.5,425.0 2166.5,426.0 2167.5,424.1 2168.5,424.7 2169.5,425.0 2170.5,425.8 2171.5,423.9 2172.5,425.9 2173.5,424.8 2174.5,423.7 2175.5,424.7 2176.5,424.6 2177.5,425.3 2178.5,426.0 2179.5,424.9 2180.5,425.4 2181.5,424.6 2182.5,425.6 2183.5,423.9 2184.5,425.5 2185.5,424.0 2186.5,425.1 2187.5,424.1 2188.5,424.5 2189.5,424.0 2190.5,424.5 2191.5,425.1 2192.5,425.0 2193.5,424.6 2194.5,425.1 2195.5,425.8 2196.5,424.5 2197.5,425.1 2198.5,424.9 2199.5,426.2 2200.5,424.5 2201.5,425.4 2202.5,424.2 2203.5,424.3 2204.5,425.5 2205.5,425.1 2206.5,424.3 2207.5,423.8 2208.5,425.8 2209.5,424.6 2210.5,425.5 2211.5,424.8 2212.5,425.2 2213.5,425.1 2214.5,426.2 2215.5,426.0 2216.5,424.8 2217.5,424.9 2218.5,424.2 2219.5,425.6 2220.5,423.9 2221.5,424.4 2222.5,425.8 2223.5,423.7 2224.5,425.5 2225.5,425.1 2226.5,425.1 2227.5,424.5 2228.5,424.0 2229.5,426.1 2230.5,425.6 2231.5,425.7 2232.5,423.9 2233.5,425.7 2234.5,424.2 2235.5,424.2 2236.5,425.0 2237.5,425.2 2238.5,424.0 2239.5,425.6 2240.5,425.2 2241.5,426.0 2242.5,426.1 2243.5,425.4 2244.5,424.6 2245.5,426.1 2246.5,425.5 2247.5,424.4 2248.5,425.9 2249.5,425.5 2250.5,424.3 2251.5,424.3 2252.5,423.7 2253.5,425.1 2254.5,424.3 2255.5,424.4 2256.5,424.3 2257.5,424.0 2258.5,424.9 2259.5,424.4 2260.5,424.4 2261.5,424.4 2262.5,425.0 2263.5,425.9 2264.5,424.1 2265.5,425.9 2266.5,425.9 2267.5,425.3 2268.5,425.1 2269.5,425.6 2270.5,425.1 2271.5,425.4 2272.5,426.1 2273.5,425.7 2274.5,424.4 2275.5,423.8 2276.5,426.1 2277.5,424.6 2278.5,425.7 2279.5,424.3 2280.5,424.9 2281.5,424.6 2282.5,425.6 2283.5,426.1 2284.5,425.0 2285.5,425.2 2286.5,424.6 2287.5,424.3 2288.5,426.2 2289.5,424.0 2290.5,426.1 2291.5,425.4 2292.5,423.9 2293.5,426.0 2294.5,424.0 2295.5,425.2 2296.5,424.0 2297.5,426.3 2298.5,424.5 2299.5,426.0 2300.5,423.9 2301.5,425.4 2302.5,423.9 2303.5,423.8 2304.5,425.2 2305.5,426.3 2306.5,425.5 2307.5,425.9 2308.5,425.7"/>
<path stroke="#32AC5F" d="M221.5,580.9 222.5,581.4 223.5,581.4 224.5,580.1 225.5,579.7 226.5,580.7 227.5,580.4 228.5,581.8 229.5,581.5 230.5,581.3 231.5,581.2 232.5,581.4 233.5,580.1 234.5,580.9 235.5,580.1 236.5,582.1 237.5,579.9 238.5,581.8 239.5,579.9 240.5,581.5 241.5,580.6 242.5,580.8 243.5,581.9 244.5,579.8 245.5,579.9 246.5,582.1 247.5,581.1 248.5,580.0 249.5,582.3 250.5,582.2 251.5,580.0 252.5,580.8 253.5,580.1 254.5,580.6 255.5,581.4 256.5,580.2 257.5,581.6 258.5,579.9 259.5,580.2 260.5,581.9 261.5,580.8 262.5,580.8 263.5,581.3 264.5,581.0 265.5,580.8 266.5,579.8 267.5,581.6 268.5,582.3 269.5,582.3 270.5,581.5 271.5,580.7 272.5,580.7 273.5,581.6 274.5,581.5 275.5,580.1 276.5,580.4 277.5,580.7 278.5,581.1 279.5,581.9 280.5,581.1 281.5,579.8 282.5,581.9 283.5,580.9 284.5,581.1 285.5,580.4 286.5,580.9 287.5,580.8 288.5,581.8 289.5,580.0 290.5,581.2 291.5,580.2 292.5,581.6 293.5,579.9 294.5,580.5 295.5,580.7 296.5,581.4 297.5,579.9 298.5,581.0 299.5,580.3 300.5,580.5 301.5,581.0 302.5,582.3 303.5,581.0 304.5,582.3 305.5,580.2 306.5,582.2 307.5,580.7 308.5,580.3 309.5,581.7 310.5,582.1 311.5,579.8 312.5,580.5 313.5,581.8 314.5,580.7 315.5,580.4 316.5,579.8 317.5,579.9 318.5,581.4 319.5,582.3 320.5,582.3 321.5,581.1 322.5,579.8 323.5,580.6 324.5,581.8 325.5,581.9 326.5,581.4 327.5,580.3 328.5,581.0 329.5,580.9 330.5,581.3 331.5,580.3 332.5,582.0 333.5,581.8 334.5,579.9 335.5,580.1 336.5,581.5 337.5,579.7 338.5,581.1 339.5,579.2 340.5,577.3 341.5,571.6 342.5,560.6 343.5,550.5 344.2,547.4 344.5,549.1 345.5,557.4 346.5,566.6 347.5,575.9 348.5,578.2 349.5,579.0 350.5,580.0 351.5,581.6 352.5,580.7 353.5,580.9 354.5,581.8 355.5,581.9 356.5,581.4 357.5,580.6 358.5,581.1 359.5,581.9 360.5,581.6 361.5,581.1 362.5,580.5 363.5,580.5 364.5,581.5 365.5,581.0 366.5,579.6 367.5,581.3 368.5,581.8 369.5,581.5 370.5,581.7 371.5,581.7 372.5,580.7 373.5,581.3 374.5,580.2 375.5,579.3 376.5,579.9 377.5,579.6 378.5,581.0 379.5,580.1 380.5,579.4 381.5,579.1 382.5,577.0 383.5,576.6 384.5,573.3 385.5,562.1 386.5,538.4 387.5,501.7 388.5,467.4 389.0,462.7 389.5,466.9 390.5,500.9 391.5,538.6 392.5,563.0 393.5,573.5 394.5,577.0 395.5,579.2 396.5,578.5 397.5,578.1 398.5,579.7 399.5,579.8 400.5,579.3 401.5,580.7 402.5,580.0 403.5,579.8 404.5,580.1 405.5,581.8 406.5,579.4 407.5,580.4 408.5,580.2 409.5,580.1 410.5,580.7 411.5,580.2 412.5,582.0 413.5,580.9 414.5,581.5 415.5,580.1 416.5,580.9 417.5,581.2 418.5,581.9 419.5,580.3 420.5,580.9 421.5,581.9 422.5,581.8 423.5,580.3 424.5,581.1 425.5,581.6 426.5,580.7 427.5,581.4 428.5,581.4 429.5,582.1 430.5,581.0 431.5,581.3 432.5,580.4 433.5,581.4 434.5,580.2 435.5,580.6 436.5,580.1 437.5,579.9 438.5,579.3 439.5,579.2 440.5,579.6 441.5,578.0 442.5,575.1 443.5,570.6 444.5,555.7 445.5,537.6 446.5,521.5 446.8,519.9 447.5,526.6 448.5,545.7 449.5,562.1 450.5,572.0 451.5,577.7 452.5,579.8 453.5,579.7 454.5,580.2 455.5,578.5 456.5,577.5 457.5,574.4 458.5,573.5 458.6,573.4 459.5,574.5 460.5,576.8 461.5,579.8 462.5,579.2 463.5,579.7 464.5,580.0 465.5,581.9 466.5,580.6 467.5,578.9 468.5,579.8 469.5,577.5 470.5,574.5 471.5,571.8 472.5,574.3 473.5,576.1 474.5,578.1 475.5,581.2 476.5,581.6 477.5,580.2 478.5,582.0 479.5,579.8 480.5,580.6 481.5,579.8 482.5,580.3 483.5,580.3 484.5,581.7 485.5,580.7 486.5,580.4 487.5,580.4 488.5,580.7 489.5,582.2 490.5,581.5 491.5,580.2 492.5,581.7 493.5,581.3 494.5,581.1 495.5,581.3 496.5,581.6 497.5,582.0 498.5,581.3 499.5,581.6 500.5,581.1 501.5,581.6 502.5,580.9 503.5,581.0 504.5,581.2 505.5,581.7 506.5,580.5 507.5,582.2 508.5,581.0 509.5,581.8 510.5,581.2 511.5,581.5 512.5,579.6 513.5,576.1 514.5,570.9 515.5,565.7 516.3,564.0 516.5,564.4 517.5,566.6 518.5,572.3 519.5,576.7 520.5,578.7 521.5,579.4 522.5,579.5 523.5,580.3 524.5,580.0 525.5,581.6 526.5,581.5 527.5,582.4 528.5,582.4 529.5,581.9 530.5,582.4 531.5,580.0 532.5,580.6 533.5,582.4 534.5,581.2 535.5,580.5 536.5,582.0 537.5,581.1 538.5,581.4 539.5,580.8 540.5,580.6 541.5,580.2 542.5,581.6 543.5,582.5 544.5,582.6 545.5,582.0 546.5,582.4 547.5,580.9 548.5,580.8 549.5,582.4 550.5,581.5 551.5,581.7 552.5,579.9 553.5,580.3 554.5,580.4 555.5,580.1 556.5,579.0 557.5,578.0 557.6,576.9 558.5,577.6 559.5,580.2 560.5,581.6 561.5,580.9 562.5,580.4 563.5,581.6 564.5,581.4 565.5,580.9 566.5,580.6 567.5,581.0 568.5,581.6 569.5,580.4 570.5,581.4 571.5,582.5 572.5,582.0 573.5,580.7 574.5,581.1 575.5,580.3 576.5,581.9 577.5,581.6 578.5,580.4 579.5,581.4 580.5,581.5 581.5,581.4 582.5,580.8 583.5,580.6 584.5,580.6 585.5,582.1 586.5,580.0 587.5,579.8 588.5,578.4 589.5,575.7 590.5,573.8 591.5,570.7 592.5,569.2 593.0,569.0 593.5,569.3 594.5,572.6 595.5,573.5 596.5,576.1 597.5,578.9 598.5,579.5 599.5,580.5 600.5,581.1 601.5,579.8 602.5,581.5 603.5,580.0 604.5,580.5 605.5,581.9 606.5,582.4 607.5,581.6 608.5,580.3 609.5,581.0 610.5,580.6 611.5,582.0 612.5,580.4 613.5,580.3 614.5,581.4 615.5,581.4 616.5,581.2 617.5,580.8 618.5,582.0 619.5,580.5 620.5,581.6 621.5,579.9 622.5,579.6 623.5,578.4 624.5,576.6 625.5,569.5 626.5,554.1 627.5,536.0 628.5,525.2 628.6,524.5 629.5,533.0 630.5,551.4 631.5,567.2 632.5,574.7 633.5,577.9 634.5,578.4 635.5,581.2 636.5,581.2 637.5,580.4 638.5,582.0 639.5,582.0 640.5,580.1 641.5,582.0 642.5,580.9 643.5,580.7 644.5,580.6 645.5,581.0 646.5,580.1 647.5,580.1 648.5,580.3 649.5,580.8 650.5,580.5 651.5,580.4 652.5,582.2 653.5,581.1 654.5,581.4 655.5,581.7 656.5,582.5 657.5,580.5 658.5,580.7 659.5,582.4 660.5,582.5 661.5,582.6 662.5,581.5 663.5,581.1 664.5,580.6 665.5,582.5 666.5,582.1 667.5,581.6 668.5,582.2 669.5,580.8 670.5,581.5 671.5,582.5 672.5,580.4 673.5,581.7 674.5,580.6 675.5,582.2 676.5,582.2 677.5,581.7 678.5,581.1 679.5,580.0 680.5,581.1 681.5,580.6 682.5,580.3 683.5,578.3 684.5,578.0 685.5,572.9 686.5,569.3 687.0,569.4 687.5,570.1 688.5,572.9 689.5,577.0 690.5,580.3 691.5,580.2 692.5,582.0 693.5,579.9 694.5,581.9 695.5,581.3 696.5,581.6 697.5,582.5 698.5,580.5 699.5,581.0 700.5,582.0 701.5,581.8 702.5,581.2 703.5,581.8 704.5,581.4 705.5,581.7 706.5,580.7 707.5,578.7 708.5,575.4 709.5,569.1 710.5,562.3 711.4,559.1 711.5,561.5 712.5,563.5 713.5,571.6 714.5,575.5 715.5,580.1 716.5,579.8 717.5,578.9 718.5,579.9 719.5,577.6 720.5,572.2 721.5,560.3 722.5,550.2 723.2,547.8 723.5,547.4 724.5,556.7 725.5,568.1 726.5,575.8 727.5,579.5 728.5,580.7 729.5,580.0 730.5,581.5 731.5,580.8 732.5,580.2 733.5,579.9 734.5,581.6 735.5,580.9 736.5,580.3 737.5,581.3 738.5,581.2 739.5,581.0 740.5,581.6 741.5,581.6 742.5,581.5 743.5,582.7 744.5,582.5 745.5,581.0 746.5,582.5 747.5,581.0 748.5,582.7 749.5,580.4 750.5,581.1 751.5,582.7 752.5,582.0 753.5,582.1 754.5,580.8 755.5,580.6 756.5,582.7 757.5,580.4 758.5,580.7 759.5,581.4 760.5,582.4 761.5,582.0 762.5,582.8 763.5,582.3 764.5,581.4 765.5,582.6 766.5,581.1 767.5,580.4 768.5,582.7 769.5,582.5 770.5,581.9 771.5,581.5 772.5,580.7 773.5,580.8 774.5,580.3 775.5,580.4 776.5,581.4 777.5,582.4 778.5,582.5 779.5,581.4 780.5,581.7 781.5,581.1 782.5,581.8 783.5,581.5 784.5,582.1 785.5,581.4 786.5,580.3 787.5,578.8 788.5,575.4 789.5,572.4 790.5,567.4 791.5,561.4 792.5,557.6 793.1,557.4 793.5,557.1 794.5,561.6 795.5,566.0 796.5,572.9 797.5,576.0 798.5,578.2 799.5,579.4 800.5,580.1 801.5,579.9 802.5,582.1 803.5,582.1 804.5,581.5 805.5,581.5 806.5,580.2 807.5,581.2 808.5,580.2 809.5,580.6 810.5,581.0 811.5,579.2 812.5,577.7 813.5,576.1 814.5,572.3 815.2,572.5 815.5,570.8 816.5,573.1 817.5,578.5 818.5,579.9 819.5,581.1 820.5,581.2 821.5,580.2 822.5,582.5 823.5,581.2 824.5,582.3 825.5,580.3 826.5,580.5 827.5,581.1 828.5,579.9 829.5,580.2 830.5,575.9 831.5,571.3 832.5,568.0 832.9,567.9 833.5,570.5 834.5,574.3 835.5,577.7 836.5,579.4 837.5,579.4 838.5,581.9 839.5,580.2 840.5,580.4 841.5,581.1 842.5,582.2 843.5,580.4 844.5,580.1 845.5,582.3 846.5,580.0 847.5,581.8 848.5,580.2 849.5,580.6 850.5,580.3 851.5,580.8 852.5,582.0 853.5,581.7 854.5,580.7 855.5,579.3 856.5,579.3 857.5,579.1 858.5,579.5 859.5,577.7 860.5,570.9 861.5,563.2 862.5,552.3 863.5,536.5 864.5,528.2 864.7,528.4 865.5,533.8 866.5,544.2 867.5,558.2 868.5,565.3 869.5,570.2 870.5,567.9 871.5,565.2 872.5,560.9 873.5,557.9 874.0,556.4 874.5,558.4 875.5,560.7 876.5,567.4 877.5,572.4 878.5,576.5 879.5,576.6 880.5,578.4 881.5,580.0 882.5,580.5 883.5,578.5 884.5,579.1 885.5,577.2 886.5,574.7 887.5,573.4 888.5,572.0 889.5,571.8 890.0,573.5 890.5,573.0 891.5,574.3 892.5,575.8 893.5,576.0 894.5,578.2 895.5,579.3 896.5,580.3 897.5,579.4 898.5,581.9 899.5,580.2 900.5,581.0 901.5,581.7 902.5,581.9 903.5,582.2 904.5,580.8 905.5,580.8 906.5,582.0 907.5,580.2 908.5,582.4 909.5,580.9 910.5,581.1 911.5,580.9 912.5,582.0 913.5,580.6 914.5,580.5 915.5,580.3 916.5,580.5 917.5,581.8 918.5,582.7 919.5,580.1 920.5,581.3 921.5,581.0 922.5,580.9 923.5,581.0 924.5,580.3 925.5,581.2 926.5,580.7 927.5,580.2 928.5,580.3 929.5,582.4 930.5,581.8 931.5,582.4 932.5,582.0 933.5,581.6 934.5,580.2 935.5,579.8 936.5,582.0 937.5,581.2 938.5,581.2 939.5,579.6 940.5,581.1 941.5,580.3 942.5,579.0 943.5,579.1 944.5,580.8 945.5,579.6 946.5,577.9 947.5,577.4 948.5,578.6 949.5,576.8 950.5,576.2 951.5,574.0 952.5,572.2 953.5,569.9 954.5,564.1 955.5,552.8 956.5,534.1 957.5,506.5 958.5,472.0 959.5,450.2 959.7,450.5 960.5,460.3 961.5,493.8 962.5,525.4 963.5,547.8 964.5,561.8 965.5,567.1 966.5,571.6 967.5,573.9 968.5,574.4 969.5,577.5 970.5,576.2 971.5,579.2 972.5,578.9 973.5,580.1 974.5,577.9 975.5,580.3 976.5,580.7 977.5,580.3 978.5,579.9 979.5,580.1 980.5,579.8 981.5,580.7 982.5,580.0 983.5,579.9 984.5,579.5 985.5,580.0 986.5,579.8 987.5,580.5 988.5,579.9 989.5,578.6 990.5,579.3 991.5,577.7 992.5,577.9 993.5,577.4 994.5,577.2 995.5,574.6 996.5,573.5 997.5,571.7 998.5,569.8 999.5,563.4 1000.5,555.7 1001.5,542.7 1002.5,521.7 1003.5,496.9 1004.5,475.4 1005.4,466.5 1005.5,466.6 1006.5,478.1 1007.5,503.1 1008.5,526.0 1009.5,546.3 1010.5,557.8 1011.5,566.2 1012.5,571.5 1013.5,574.4 1014.5,573.7 1015.5,577.3 1016.5,576.1 1017.5,579.0 1018.5,579.1 1019.5,578.2 1020.5,579.9 1021.5,579.8 1022.5,579.8 1023.5,580.4 1024.5,580.2 1025.5,580.9 1026.5,581.1 1027.5,579.4 1028.5,581.2 1029.5,581.4 1030.5,581.9 1031.5,581.1 1032.5,581.2 1033.5,580.2 1034.5,580.4 1035.5,582.3 1036.5,580.2 1037.5,582.4 1038.5,580.4 1039.5,581.1 1040.5,581.8 1041.5,580.2 1042.5,581.3 1043.5,582.3 1044.5,581.2 1045.5,580.7 1046.5,580.4 1047.5,582.7 1048.5,580.5 1049.5,582.0 1050.5,581.9 1051.5,580.9 1052.5,581.6 1053.5,581.8 1054.5,580.2 1055.5,579.8 1056.5,580.7 1057.5,577.8 1058.5,577.5 1059.5,576.7 1059.9,577.5 1060.5,577.8 1061.5,578.4 1062.5,579.2 1063.5,580.0 1064.5,579.6 1065.5,581.3 1066.5,581.2 1067.5,582.2 1068.5,581.3 1069.5,580.7 1070.5,581.4 1071.5,582.5 1072.5,581.7 1073.5,582.1 1074.5,580.5 1075.5,581.0 1076.5,581.0 1077.5,581.7 1078.5,580.7 1079.5,582.7 1080.5,580.8 1081.5,579.3 1082.5,579.0 1083.5,578.3 1084.5,577.1 1085.5,576.3 1086.4,573.9 1086.5,576.2 1087.5,576.6 1088.5,577.1 1089.5,579.0 1090.5,579.4 1091.5,579.9 1092.5,580.0 1093.5,582.8 1094.5,582.7 1095.5,581.6 1096.5,582.1 1097.5,581.8 1098.5,582.3 1099.5,580.8 1100.5,582.5 1101.5,581.0 1102.5,582.1 1103.5,582.1 1104.5,582.7 1105.5,582.0 1106.5,580.8 1107.5,582.4 1108.5,581.0 1109.5,581.0 1110.5,580.7 1111.5,579.8 1112.5,575.6 1113.5,574.4 1114.5,572.4 1115.2,573.3 1115.5,572.3 1116.5,574.8 1117.5,576.5 1118.5,577.6 1119.5,580.2 1120.5,581.1 1121.5,580.2 1122.5,581.0 1123.5,580.8 1124.5,582.6 1125.5,581.6 1126.5,581.4 1127.5,582.5 1128.5,583.2 1129.5,581.0 1130.5,582.5 1131.5,581.3 1132.5,582.7 1133.5,582.6 1134.5,582.7 1135.5,582.2 1136.5,581.0 1137.5,582.9 1138.5,581.0 1139.5,582.2 1140.5,583.2 1141.5,581.4 1142.5,582.0 1143.5,582.5 1144.5,582.4 1145.5,581.6 1146.5,581.8 1147.5,583.1 1148.5,582.6 1149.5,581.2 1150.5,582.5 1151.5,583.0 1152.5,582.3 1153.5,583.1 1154.5,581.5 1155.5,581.5 1156.5,583.0 1157.5,581.4 1158.5,581.1 1159.5,581.2 1160.5,583.1 1161.5,582.9 1162.5,581.3 1163.5,582.7 1164.5,581.3 1165.5,582.4 1166.5,580.8 1167.5,582.2 1168.5,582.7 1169.5,582.0 1170.5,582.4 1171.5,581.0 1172.5,581.9 1173.5,582.7 1174.5,581.6 1175.5,582.6 1176.5,582.2 1177.5,582.7 1178.5,582.4 1179.5,581.2 1180.5,582.4 1181.5,582.0 1182.5,580.2 1183.5,579.2 1184.5,575.5 1185.5,571.8 1186.5,567.2 1187.4,566.1 1187.5,565.7 1188.5,569.4 1189.5,572.8 1190.5,576.7 1191.5,579.2 1192.5,580.5 1193.5,580.4 1194.5,582.0 1195.5,581.6 1196.5,581.4 1197.5,581.9 1198.5,581.0 1199.5,582.4 1200.5,582.7 1201.5,581.7 1202.5,581.2 1203.5,583.3 1204.5,582.4 1205.5,581.6 1206.5,581.0 1207.5,582.3 1208.5,581.4 1209.5,583.2 1210.5,582.7 1211.5,581.6 1212.5,581.9 1213.5,581.1 1214.5,581.4 1215.5,582.3 1216.5,583.1 1217.5,582.0 1218.5,583.4 1219.5,581.5 1220.5,581.1 1221.5,583.1 1222.5,581.9 1223.5,581.6 1224.5,582.0 1225.5,582.5 1226.5,581.5 1227.5,581.2 1228.5,582.4 1229.5,582.6 1230.5,582.3 1231.5,581.3 1232.5,583.1 1233.5,582.0 1234.5,582.3 1235.5,583.2 1236.5,581.2 1237.5,582.2 1238.5,582.0 1239.5,582.6 1240.5,581.5 1241.5,581.5 1242.5,581.5 1243.5,582.4 1244.5,581.7 1245.5,583.3 1246.5,583.1 1247.5,582.8 1248.5,581.9 1249.5,583.0 1250.5,582.4 1251.5,582.9 1252.5,583.4 1253.5,581.2 1254.5,582.9 1255.5,583.2 1256.5,581.9 1257.5,581.8 1258.5,581.0 1259.5,583.2 1260.5,581.4 1261.5,580.9 1262.5,581.1 1263.5,582.2 1264.5,582.6 1265.5,583.2 1266.5,582.6 1267.5,581.1 1268.5,583.3 1269.5,583.1 1270.5,582.9 1271.5,583.2 1272.5,583.0 1273.5,582.6 1274.5,582.7 1275.5,580.7 1276.5,583.0 1277.5,580.1 1278.5,580.7 1279.5,580.3 1280.5,579.3 1281.5,578.1 1282.4,578.2 1282.5,577.7 1283.5,579.0 1284.5,578.2 1285.5,579.9 1286.5,581.4 1287.5,581.4 1288.5,580.5 1289.5,581.8 1290.5,583.1 1291.5,582.1 1292.5,582.7 1293.5,581.8 1294.5,583.4 1295.5,582.2 1296.5,582.9 1297.5,582.4 1298.5,582.9 1299.5,581.8 1300.5,583.2 1301.5,583.4 1302.5,583.1 1303.5,583.2 1304.5,581.7 1305.5,581.7 1306.5,583.1 1307.5,582.9 1308.5,582.3 1309.5,582.2 1310.5,580.8 1311.5,582.2 1312.5,580.8 1313.5,582.0 1314.5,581.2 1315.5,582.2 1316.5,581.0 1317.5,581.4 1318.5,582.5 1319.5,582.0 1320.5,580.8 1321.5,582.9 1322.5,580.4 1323.5,581.3 1324.5,582.0 1325.5,581.5 1326.5,581.6 1327.5,582.1 1328.5,579.7 1329.5,580.5 1330.5,579.5 1331.5,579.7 1332.5,578.4 1333.5,577.4 1334.5,575.7 1335.5,571.9 1336.5,567.7 1337.5,563.3 1338.5,557.3 1339.5,555.0 1340.5,551.5 1340.7,551.7 1341.5,553.6 1342.5,557.2 1343.5,562.4 1344.5,566.6 1345.5,570.5 1346.5,573.6 1347.5,577.0 1348.5,578.3 1349.5,577.9 1350.5,580.0 1351.5,580.8 1352.5,580.3 1353.5,581.8 1354.5,581.7 1355.5,582.2 1356.5,580.8 1357.5,581.9 1358.5,581.7 1359.5,581.2 1360.5,581.1 1361.5,580.6 1362.5,582.6 1363.5,581.2 1364.5,581.4 1365.5,581.2 1366.5,582.0 1367.5,581.8 1368.5,582.8 1369.5,580.7 1370.5,581.4 1371.5,582.6 1372.5,582.4 1373.5,580.4 1374.5,581.2 1375.5,582.3 1376.5,581.5 1377.5,578.1 1378.5,575.8 1379.5,569.3 1380.5,561.9 1381.5,559.0 1382.0,556.3 1382.5,559.3 1383.5,563.0 1384.5,570.7 1385.5,575.2 1386.5,579.7 1387.5,581.0 1388.5,580.3 1389.5,580.2 1390.5,580.8 1391.5,582.0 1392.5,580.8 1393.5,580.8 1394.5,581.6 1395.5,580.8 1396.5,581.5 1397.5,582.3 1398.5,581.1 1399.5,582.4 1400.5,580.6 1401.5,580.2 1402.5,579.5 1403.5,579.8 1404.5,577.1 1404.9,579.1 1405.5,577.3 1406.5,580.3 1407.5,580.1 1408.5,581.4 1409.5,581.4 1410.5,582.2 1411.5,582.5 1412.5,581.2 1413.5,581.4 1414.5,583.3 1415.5,581.5 1416.5,581.6 1417.5,581.1 1418.5,582.9 1419.5,583.1 1420.5,581.1 1421.5,583.3 1422.5,581.3 1423.5,582.3 1424.5,582.4 1425.5,581.7 1426.5,581.9 1427.5,582.3 1428.5,583.1 1429.5,581.7 1430.5,581.7 1431.5,583.6 1432.5,581.8 1433.5,581.4 1434.5,583.5 1435.5,583.5 1436.5,581.7 1437.5,582.5 1438.5,583.4 1439.5,582.0 1440.5,582.0 1441.5,581.2 1442.5,581.5 1443.5,582.7 1444.5,582.4 1445.5,583.4 1446.5,582.3 1447.5,581.9 1448.5,582.2 1449.5,581.5 1450.5,582.4 1451.5,583.0 1452.5,581.6 1453.5,582.7 1454.5,583.8 1455.5,583.0 1456.5,582.0 1457.5,582.9 1458.5,581.5 1459.5,581.5 1460.5,583.3 1461.5,583.0 1462.5,582.8 1463.5,582.6 1464.5,582.1 1465.5,583.4 1466.5,582.5 1467.5,583.3 1468.5,583.1 1469.5,582.1 1470.5,583.3 1471.5,582.1 1472.5,582.8 1473.5,583.4 1474.5,583.7 1475.5,582.8 1476.5,581.7 1477.5,581.6 1478.5,583.4 1479.5,582.0 1480.5,581.6 1481.5,582.7 1482.5,582.3 1483.5,583.1 1484.5,581.7 1485.5,582.5 1486.5,583.7 1487.5,581.7 1488.5,582.2 1489.5,582.2 1490.5,581.6 1491.5,581.6 1492.5,582.0 1493.5,582.7 1494.5,581.6 1495.5,582.9 1496.5,582.2 1497.5,582.0 1498.5,583.4 1499.5,583.2 1500.5,582.4 1501.5,581.9 1502.5,582.6 1503.5,582.9 1504.5,583.2 1505.5,583.0 1506.5,581.2 1507.5,581.6 1508.5,583.8 1509.5,582.7 1510.5,582.6 1511.5,581.5 1512.5,583.3 1513.5,583.4 1514.5,582.0 1515.5,581.9 1516.5,581.4 1517.5,582.0 1518.5,582.6 1519.5,582.4 1520.5,581.3 1521.5,581.5 1522.5,581.9 1523.5,583.4 1524.5,583.8 1525.5,583.5 1526.5,582.5 1527.5,582.2 1528.5,583.6 1529.5,583.2 1530.5,582.9 1531.5,583.1 1532.5,583.7 1533.5,582.6 1534.5,581.9 1535.5,583.2 1536.5,583.7 1537.5,581.9 1538.5,582.3 1539.5,583.2 1540.5,583.3 1541.5,581.4 1542.5,583.4 1543.5,581.9 1544.5,581.6 1545.5,581.4 1546.5,582.5 1547.5,582.5 1548.5,581.8 1549.5,583.1 1550.5,581.8 1551.5,583.7 1552.5,583.9 1553.5,582.1 1554.5,581.3 1555.5,581.5 1556.5,582.7 1557.5,582.2 1558.5,583.3 1559.5,582.3 1560.5,581.9 1561.5,581.7 1562.5,583.9 1563.5,583.3 1564.5,583.0 1565.5,581.8 1566.5,582.4 1567.5,583.2 1568.5,583.0 1569.5,582.0 1570.5,582.2 1571.5,583.4 1572.5,581.4 1573.5,582.9 1574.5,583.1 1575.5,582.6 1576.5,582.7 1577.5,583.6 1578.5,582.1 1579.5,583.2 1580.5,583.1 1581.5,583.1 1582.5,581.4 1583.5,583.0 1584.5,582.2 1585.5,581.5 1586.5,583.5 1587.5,581.8 1588.5,582.3 1589.5,581.8 1590.5,581.3 1591.5,581.6 1592.5,582.3 1593.5,582.1 1594.5,582.0 1595.5,579.7 1596.5,579.0 1597.5,579.1 1598.5,576.7 1599.5,575.6 1600.5,573.4 1601.5,572.5 1601.9,571.4 1602.5,573.7 1603.5,574.8 1604.5,575.9 1605.5,576.3 1606.5,578.9 1607.5,580.3 1608.5,580.2 1609.5,581.1 1610.5,582.8 1611.5,581.5 1612.5,582.5 1613.5,581.1 1614.5,581.1 1615.5,581.2 1616.5,581.9 1617.5,583.6 1618.5,582.7 1619.5,582.5 1620.5,581.6 1621.5,582.7 1622.5,581.6 1623.5,581.4 1624.5,582.1 1625.5,581.9 1626.5,583.3 1627.5,582.7 1628.5,582.9 1629.5,582.0 1630.5,582.3 1631.5,581.5 1632.5,581.9 1633.5,583.7 1634.5,582.7 1635.5,581.6 1636.5,581.9 1637.5,582.0 1638.5,580.9 1639.5,579.3 1640.5,577.8 1640.8,577.5 1641.5,577.7 1642.5,580.4 1643.5,581.1 1644.5,581.7 1645.5,582.4 1646.5,581.3 1647.5,582.6 1648.5,581.2 1649.5,581.3 1650.5,582.9 1651.5,581.3 1652.5,582.4 1653.5,582.3 1654.5,583.6 1655.5,582.3 1656.5,581.9 1657.5,583.1 1658.5,581.8 1659.5,583.9 1660.5,583.8 1661.5,584.0 1662.5,583.0 1663.5,581.9 1664.5,581.9 1665.5,583.3 1666.5,582.5 1667.5,583.2 1668.5,582.0 1669.5,582.9 1670.5,583.6 1671.5,582.2 1672.5,583.6 1673.5,581.8 1674.5,583.2 1675.5,581.5 1676.5,582.1 1677.5,581.6 1678.5,581.9 1679.5,582.8 1680.5,583.5 1681.5,583.5 1682.5,583.8 1683.5,582.1 1684.5,583.9 1685.5,582.5 1686.5,583.2 1687.5,583.3 1688.5,582.2 1689.5,582.2 1690.5,582.6 1691.5,582.3 1692.5,583.3 1693.5,583.7 1694.5,583.2 1695.5,581.6 1696.5,583.5 1697.5,583.5 1698.5,584.0 1699.5,582.0 1700.5,583.9 1701.5,582.5 1702.5,582.9 1703.5,582.0 1704.5,582.1 1705.5,582.6 1706.5,582.9 1707.5,582.1 1708.5,582.9 1709.5,582.5 1710.5,582.0 1711.5,583.1 1712.5,582.3 1713.5,581.5 1714.5,582.1 1715.5,582.5 1716.5,583.0 1717.5,581.6 1718.5,583.8 1719.5,581.7 1720.5,583.9 1721.5,581.5 1722.5,582.2 1723.5,582.3 1724.5,583.2 1725.5,581.7 1726.5,582.0 1727.5,583.6 1728.5,583.8 1729.5,581.6 1730.5,581.7 1731.5,582.3 1732.5,582.4 1733.5,583.2 1734.5,583.9 1735.5,583.1 1736.5,582.3 1737.5,582.0 1738.5,581.6 1739.5,581.6 1740.5,583.7 1741.5,583.7 1742.5,582.4 1743.5,582.0 1744.5,583.7 1745.5,582.0 1746.5,582.5 1747.5,583.7 1748.5,581.5 1749.5,582.3 1750.5,581.9 1751.5,582.6 1752.5,583.8 1753.5,583.9 1754.5,583.3 1755.5,583.6 1756.5,582.4 1757.5,583.3 1758.5,583.3 1759.5,583.7 1760.5,582.3 1761.5,583.5 1762.5,581.8 1763.5,582.8 1764.5,583.8 1765.5,583.2 1766.5,583.3 1767.5,581.7 1768.5,582.2 1769.5,582.7 1770.5,583.3 1771.5,581.8 1772.5,582.6 1773.5,583.1 1774.5,582.9 1775.5,581.8 1776.5,581.3 1777.5,582.0 1778.5,581.5 1779.5,582.4 1780.5,582.2 1781.5,580.9 1782.5,583.2 1783.5,583.0 1784.5,581.0 1785.5,581.1 1786.5,582.8 1787.5,580.2 1788.5,580.3 1789.5,580.6 1790.5,581.5 1791.5,579.0 1792.5,579.5 1793.5,579.1 1794.5,577.1 1795.5,574.2 1796.5,571.1 1797.5,566.4 1798.5,559.8 1799.5,552.3 1800.5,546.7 1801.5,542.5 1802.2,539.5 1802.5,541.2 1803.5,543.9 1804.5,549.3 1805.5,556.7 1806.5,562.5 1807.5,569.8 1808.5,573.2 1809.5,575.7 1810.5,578.8 1811.5,580.0 1812.5,579.7 1813.5,579.3 1814.5,581.1 1815.5,580.5 1816.5,581.6 1817.5,580.5 1818.5,582.5 1819.5,582.8 1820.5,581.1 1821.5,582.9 1822.5,581.1 1823.5,581.3 1824.5,582.4 1825.5,581.6 1826.5,582.1 1827.5,582.1 1828.5,583.1 1829.5,583.2 1830.5,583.5 1831.5,581.9 1832.5,581.9 1833.5,583.5 1834.5,582.4 1835.5,581.6 1836.5,582.7 1837.5,582.0 1838.5,583.0 1839.5,582.4 1840.5,581.8 1841.5,583.4 1842.5,583.8 1843.5,581.8 1844.5,582.0 1845.5,582.8 1846.5,581.9 1847.5,584.0 1848.5,582.6 1849.5,581.7 1850.5,582.0 1851.5,582.1 1852.5,582.2 1853.5,583.1 1854.5,583.8 1855.5,582.6 1856.5,583.0 1857.5,584.0 1858.5,582.8 1859.5,582.5 1860.5,583.8 1861.5,583.3 1862.5,582.6 1863.5,583.7 1864.5,582.2 1865.5,581.8 1866.5,582.2 1867.5,582.4 1868.5,583.8 1869.5,582.2 1870.5,581.8 1871.5,581.9 1872.5,583.7 1873.5,582.9 1874.5,584.1 1875.5,582.5 1876.5,582.0 1877.5,582.1 1878.5,583.6 1879.5,582.9 1880.5,583.8 1881.5,584.1 1882.5,582.9 1883.5,581.9 1884.5,583.8 1885.5,583.9 1886.5,583.1 1887.5,583.0 1888.5,583.7 1889.5,582.6 1890.5,581.7 1891.5,584.1 1892.5,582.8 1893.5,582.5 1894.5,583.9 1895.5,584.0 1896.5,582.8 1897.5,583.6 1898.5,584.3 1899.5,583.0 1900.5,583.0 1901.5,584.1 1902.5,582.0 1903.5,583.5 1904.5,582.2 1905.5,582.5 1906.5,583.7 1907.5,581.9 1908.5,584.0 1909.5,583.5 1910.5,584.1 1911.5,583.9 1912.5,583.2 1913.5,582.7 1914.5,581.9 1915.5,584.0 1916.5,583.7 1917.5,582.5 1918.5,582.4 1919.5,584.1 1920.5,582.5 1921.5,582.0 1922.5,582.2 1923.5,583.4 1924.5,583.7 1925.5,582.2 1926.5,583.3 1927.5,583.1 1928.5,583.2 1929.5,581.9 1930.5,583.4 1931.5,581.6 1932.5,581.6 1933.5,582.8 1934.5,583.5 1935.5,582.8 1936.5,583.0 1937.5,582.5 1938.5,581.4 1939.5,580.9 1940.5,579.4 1941.5,576.9 1942.5,572.5 1943.5,570.0 1944.5,568.0 1945.5,566.8 1946.0,566.3 1946.5,567.6 1947.5,568.5 1948.5,571.7 1949.5,574.6 1950.5,574.8 1951.5,577.6 1952.5,581.0 1953.5,579.9 1954.5,581.3 1955.5,581.2 1956.5,582.7 1957.5,582.3 1958.5,583.5 1959.5,583.8 1960.5,583.6 1961.5,582.2 1962.5,583.0 1963.5,584.0 1964.5,582.5 1965.5,582.5 1966.5,583.9 1967.5,582.8 1968.5,581.3 1969.5,582.6 1970.5,581.3 1971.5,580.7 1972.5,582.3 1973.5,581.1 1974.5,579.1 1975.5,579.2 1976.5,576.0 1977.5,574.5 1978.5,573.9 1978.8,575.0 1979.5,574.6 1980.5,576.5 1981.5,578.5 1982.5,578.6 1983.5,580.8 1984.5,579.9 1985.5,582.2 1986.5,581.4 1987.5,583.4 1988.5,582.7 1989.5,582.4 1990.5,582.5 1991.5,582.2 1992.5,583.5 1993.5,582.9 1994.5,582.0 1995.5,582.4 1996.5,582.7 1997.5,582.4 1998.5,582.1 1999.5,583.1 2000.5,583.6 2001.5,581.7 2002.5,583.5 2003.5,582.3 2004.5,583.1 2005.5,583.9 2006.5,582.5 2007.5,584.0 2008.5,582.0 2009.5,582.6 2010.5,581.8 2011.5,582.2 2012.5,583.6 2013.5,584.2 2014.5,583.8 2015.5,582.4 2016.5,583.4 2017.5,583.5 2018.5,582.5 2019.5,582.0 2020.5,584.1 2021.5,584.2 2022.5,582.7 2023.5,582.1 2024.5,583.9 2025.5,582.3 2026.5,582.0 2027.5,584.4 2028.5,582.4 2029.5,582.5 2030.5,583.5 2031.5,583.7 2032.5,583.5 2033.5,582.3 2034.5,584.2 2035.5,582.8 2036.5,582.4 2037.5,583.9 2038.5,582.4 2039.5,582.9 2040.5,582.5 2041.5,583.1 2042.5,583.8 2043.5,582.2 2044.5,584.5 2045.5,583.2 2046.5,584.1 2047.5,583.0 2048.5,582.8 2049.5,583.3 2050.5,582.1 2051.5,582.4 2052.5,582.2 2053.5,582.3 2054.5,582.6 2055.5,582.3 2056.5,584.3 2057.5,582.0 2058.5,582.5 2059.5,582.0 2060.5,583.4 2061.5,584.2 2062.5,583.3 2063.5,582.9 2064.5,583.9 2065.5,583.4 2066.5,583.7 2067.5,583.8 2068.5,582.5 2069.5,582.1 2070.5,582.7 2071.5,582.4 2072.5,583.8 2073.5,584.1 2074.5,582.0 2075.5,583.4 2076.5,583.3 2077.5,583.0 2078.5,582.5 2079.5,584.4 2080.5,583.9 2081.5,583.9 2082.5,584.0 2083.5,584.2 2084.5,584.1 2085.5,583.9 2086.5,583.6 2087.5,581.9 2088.5,582.6 2089.5,582.6 2090.5,583.8 2091.5,581.8 2092.5,583.6 2093.5,582.8 2094.5,581.9 2095.5,582.6 2096.5,582.2 2097.5,583.1 2098.5,581.8 2099.5,581.3 2100.5,582.2 2101.5,580.1 2102.5,579.8 2103.5,576.5 2104.5,575.2 2105.5,573.0 2106.5,571.9 2107.3,572.3 2107.5,573.2 2108.5,573.0 2109.5,575.5 2110.5,575.9 2111.5,577.0 2112.5,580.5 2113.5,580.3 2114.5,581.1 2115.5,582.7 2116.5,583.8 2117.5,582.8 2118.5,582.9 2119.5,582.2 2120.5,581.9 2121.5,582.7 2122.5,582.3 2123.5,583.2 2124.5,582.2 2125.5,582.5 2126.5,582.6 2127.5,581.9 2128.5,583.9 2129.5,582.8 2130.5,583.7 2131.5,583.8 2132.5,583.8 2133.5,583.3 2134.5,582.4 2135.5,583.5 2136.5,582.8 2137.5,582.6 2138.5,584.1 2139.5,584.2 2140.5,584.2 2141.5,584.3 2142.5,583.5 2143.5,584.1 2144.5,583.6 2145.5,584.3 2146.5,582.5 2147.5,582.5 2148.5,582.2 2149.5,583.0 2150.5,584.5 2151.5,583.5 2152.5,582.7 2153.5,583.7 2154.5,582.8 2155.5,583.6 2156.5,583.9 2157.5,583.9 2158.5,583.5 2159.5,583.1 2160.5,582.5 2161.5,582.2 2162.5,582.3 2163.5,582.9 2164.5,584.2 2165.5,584.3 2166.5,582.5 2167.5,583.9 2168.5,583.0 2169.5,583.0 2170.5,584.4 2171.5,583.5 2172.5,583.5 2173.5,584.4 2174.5,582.8 2175.5,582.8 2176.5,582.3 2177.5,582.8 2178.5,583.9 2179.5,582.2 2180.5,583.3 2181.5,582.4 2182.5,583.4 2183.5,582.2 2184.5,583.8 2185.5,583.3 2186.5,584.3 2187.5,582.7 2188.5,582.4 2189.5,583.6 2190.5,582.9 2191.5,584.5 2192.5,583.7 2193.5,584.3 2194.5,583.6 2195.5,583.9 2196.5,582.7 2197.5,583.4 2198.5,582.6 2199.5,583.8 2200.5,583.2 2201.5,584.5 2202.5,583.6 2203.5,584.0 2204.5,582.4 2205.5,584.6 2206.5,584.1 2207.5,582.7 2208.5,583.9 2209.5,583.9 2210.5,583.0 2211.5,582.8 2212.5,582.3 2213.5,582.4 2214.5,583.0 2215.5,582.8 2216.5,582.6 2217.5,584.4 2218.5,582.6 2219.5,583.1 2220.5,582.4 2221.5,583.2 2222.5,582.3 2223.5,582.6 2224.5,584.3 2225.5,583.6 2226.5,583.7 2227.5,583.5 2228.5,583.7 2229.5,582.5 2230.5,582.2 2231.5,583.6 2232.5,582.7 2233.5,582.2 2234.5,584.3 2235.5,583.7 2236.5,584.1 2237.5,582.9 2238.5,582.6 2239.5,584.1 2240.5,582.6 2241.5,582.9 2242.5,584.6 2243.5,583.9 2244.5,584.2 2245.5,584.3 2246.5,582.4 2247.5,582.4 2248.5,582.8 2249.5,584.5 2250.5,584.5 2251.5,582.4 2252.5,583.5 2253.5,582.3 2254.5,583.4 2255.5,584.3 2256.5,583.3 2257.5,582.8 2258.5,582.6 2259.5,584.2 2260.5,583.5 2261.5,582.2 2262.5,582.7 2263.5,582.4 2264.5,583.3 2265.5,582.5 2266.5,583.2 2267.5,582.5 2268.5,584.7 2269.5,584.1 2270.5,582.3 2271.5,584.0 2272.5,582.4 2273.5,584.2 2274.5,583.6 2275.5,584.1 2276.5,583.3 2277.5,584.1 2278.5,583.1 2279.5,583.9 2280.5,582.9 2281.5,582.5 2282.5,584.0 2283.5,584.6 2284.5,583.8 2285.5,582.8 2286.5,582.7 2287.5,582.7 2288.5,583.3 2289.5,583.2 2290.5,583.0 2291.5,583.7 2292.5,583.3 2293.5,582.7 2294.5,582.4 2295.5,583.8 2296.5,582.6 2297.5,583.8 2298.5,582.5 2299.5,583.2 2300.5,583.0 2301.5,584.4 2302.5,582.6 2303.5,584.5 2304.5,583.0 2305.5,582.7 2306.5,583.5 2307.5,584.5 2308.5,583.7"/>
<path stroke="#0F64E6" d="M221.5,783.9 222.5,784.9 223.5,784.9 224.5,785.3 225.5,783.8 226.5,783.9 227.5,783.7 228.5,783.8 229.5,785.1 230.5,783.6 231.5,784.6 232.5,783.8 233.5,784.0 234.5,784.4 235.5,785.3 236.5,784.8 237.5,783.4 238.5,784.0 239.5,783.7 240.5,785.4 241.5,785.3 242.5,785.3 243.5,785.3 244.5,785.1 245.5,785.6 246.5,785.2 247.5,783.9 248.5,785.4 249.5,784.5 250.5,785.1 251.5,784.7 252.5,784.4 253.5,784.2 254.5,784.4 255.5,784.1 256.5,783.6 257.5,785.3 258.5,785.3 259.5,785.7 260.5,785.0 261.5,784.7 262.5,785.1 263.5,783.7 264.5,785.0 265.5,784.4 266.5,783.8 267.5,783.8 268.5,784.6 269.5,784.0 270.5,784.5 271.5,784.8 272.5,784.3 273.5,783.7 274.5,784.5 275.5,783.9 276.5,783.9 277.5,783.8 278.5,784.2 279.5,783.5 280.5,784.9 281.5,785.7 282.5,784.3 283.5,785.1 284.5,785.6 285.5,783.5 286.5,783.7 287.5,785.3 288.5,785.4 289.5,784.9 290.5,783.8 291.5,784.4 292.5,785.5 293.5,785.5 294.5,785.3 295.5,783.9 296.5,785.4 297.5,784.3 298.5,785.1 299.5,783.7 300.5,785.7 301.5,784.8 302.5,785.1 303.5,783.9 304.5,784.9 305.5,784.8 306.5,784.8 307.5,784.2 308.5,785.1 309.5,784.2 310.5,784.1 311.5,783.8 312.5,785.0 313.5,783.6 314.5,783.9 315.5,783.5 316.5,784.9 317.5,784.7 318.5,784.7 319.5,783.5 320.5,784.4 321.5,784.2 322.5,783.6 323.5,783.4 324.5,785.7 325.5,783.6 326.5,784.0 327.5,784.0 328.5,784.7 329.5,783.5 330.5,784.4 331.5,784.1 332.5,785.2 333.5,783.2 334.5,783.9 335.5,784.2 336.5,785.3 337.5,784.0 338.5,783.7 339.5,783.5 340.5,781.0 341.5,776.2 342.5,769.7 343.5,761.6 344.4,757.2 344.5,756.1 345.5,762.7 346.5,772.3 347.5,777.9 348.5,782.1 349.5,782.9 350.5,783.1 351.5,783.5 352.5,783.4 353.5,783.9 354.5,783.2 355.5,784.1 356.5,783.4 357.5,785.0 358.5,784.7 359.5,783.2 360.5,785.1 361.5,783.7 362.5,784.4 363.5,784.6 364.5,784.1 365.5,784.0 366.5,784.3 367.5,783.6 368.5,785.3 369.5,783.5 370.5,785.2 371.5,783.7 372.5,783.9 373.5,784.1 374.5,783.2 375.5,783.3 376.5,783.8 377.5,784.0 378.5,784.9 379.5,785.0 380.5,782.5 381.5,783.4 382.5,782.0 383.5,782.5 384.5,778.5 385.5,772.4 386.5,756.7 387.5,735.9 388.5,723.6 388.6,724.1 389.5,734.1 390.5,751.9 391.5,769.1 392.5,777.6 393.5,781.1 394.5,783.5 395.5,782.6 396.5,784.1 397.5,784.2 398.5,785.1 399.5,784.1 400.5,785.2 401.5,784.1 402.5,784.5 403.5,784.7 404.5,785.2 405.5,785.4 406.5,783.5 407.5,783.6 408.5,784.6 409.5,785.3 410.5,784.6 411.5,784.1 412.5,785.7 413.5,784.1 414.5,783.6 415.5,783.5 416.5,783.4 417.5,785.1 418.5,783.6 419.5,785.1 420.5,785.5 421.5,785.8 422.5,785.3 423.5,784.4 424.5,784.8 425.5,785.3 426.5,785.1 427.5,784.0 428.5,785.1 429.5,783.6 430.5,784.0 431.5,785.6 432.5,784.3 433.5,783.8 434.5,785.0 435.5,784.1 436.5,783.0 437.5,783.0 438.5,783.3 439.5,783.3 440.5,784.4 441.5,782.1 442.5,782.0 443.5,777.5 444.5,766.5 445.5,751.9 446.5,736.7 447.0,733.7 447.5,735.5 448.5,750.6 449.5,767.6 450.5,776.7 451.5,780.3 452.5,782.3 453.5,783.1 454.5,782.6 455.5,783.4 456.5,781.3 457.5,781.5 458.5,777.7 459.5,776.4 460.5,778.8 461.5,780.4 462.5,783.7 463.5,783.7 464.5,784.1 465.5,784.9 466.5,783.4 467.5,784.3 468.5,783.0 469.5,780.2 470.5,778.4 471.5,774.0 471.7,775.9 472.5,775.3 473.5,780.1 474.5,781.2 475.5,782.4 476.5,784.2 477.5,785.4 478.5,783.9 479.5,784.5 480.5,784.8 481.5,784.0 482.5,784.7 483.5,783.5 484.5,784.6 485.5,785.3 486.5,784.3 487.5,784.0 488.5,783.6 489.5,785.2 490.5,784.6 491.5,785.7 492.5,785.3 493.5,783.8 494.5,785.7 495.5,785.8 496.5,785.5 497.5,785.6 498.5,785.2 499.5,785.3 500.5,785.2 501.5,785.0 502.5,784.2 503.5,783.9 504.5,785.3 505.5,785.0 506.5,783.7 507.5,785.1 508.5,785.0 509.5,784.7 510.5,785.2 511.5,785.2 512.5,783.2 513.5,782.8 514.5,780.1 515.5,779.0 515.6,778.6 516.5,780.7 517.5,781.5 518.5,784.4 519.5,783.8 520.5,784.9 521.5,785.6 522.5,785.2 523.5,784.4 524.5,783.8 525.5,784.7 526.5,784.6 527.5,785.6 528.5,785.5 529.5,786.0 530.5,784.7 531.5,784.6 532.5,785.0 533.5,785.4 534.5,783.8 535.5,784.2 536.5,784.0 537.5,784.4 538.5,784.4 539.5,786.0 540.5,784.2 541.5,785.9 542.5,784.4 543.5,784.1 544.5,786.0 545.5,783.9 546.5,783.9 547.5,784.0 548.5,783.8 549.5,784.6 550.5,784.1 551.5,784.0 552.5,783.6 553.5,785.1 554.5,783.3 555.5,783.2 556.5,783.0 557.5,782.9 558.0,782.3 558.5,782.5 559.5,783.4 560.5,784.5 561.5,785.3 562.5,783.8 563.5,783.7 564.5,785.1 565.5,784.9 566.5,784.9 567.5,785.5 568.5,784.1 569.5,785.3 570.5,784.7 571.5,784.7 572.5,784.2 573.5,784.3 574.5,785.0 575.5,785.0 576.5,785.8 577.5,784.3 578.5,785.3 579.5,783.7 580.5,784.9 581.5,783.4 582.5,784.6 583.5,784.1 584.5,781.5 585.5,782.0 586.5,780.2 586.6,780.4 587.5,780.2 588.5,781.8 589.5,781.9 590.5,784.1 591.5,784.3 592.5,784.3 593.5,785.1 594.5,784.1 595.5,784.3 596.5,784.4 597.5,783.6 598.5,785.7 599.5,783.7 600.5,783.7 601.5,785.3 602.5,785.1 603.5,783.9 604.5,783.4 605.5,782.3 606.5,781.7 607.0,782.9 607.5,782.3 608.5,782.3 609.5,784.6 610.5,782.9 611.5,784.0 612.5,785.1 613.5,785.2 614.5,783.7 615.5,785.2 616.5,784.7 617.5,784.8 618.5,785.5 619.5,785.0 620.5,784.4 621.5,784.5 622.5,783.2 623.5,781.4 624.5,777.3 625.5,767.7 626.5,755.7 627.5,748.8 628.5,756.7 629.5,767.1 630.5,776.4 631.5,780.8 632.5,783.3 633.5,783.6 634.5,785.0 635.5,784.6 636.5,784.6 637.5,785.3 638.5,784.5 639.5,784.8 640.5,785.3 641.5,785.3 642.5,785.4 643.5,785.8 644.5,785.0 645.5,785.0 646.5,784.1 647.5,784.3 648.5,784.7 649.5,784.9 650.5,785.9 651.5,783.8 652.5,784.6 653.5,785.5 654.5,784.8 655.5,785.8 656.5,784.1 657.5,785.6 658.5,784.8 659.5,785.1 660.5,783.9 661.5,784.7 662.5,785.7 663.5,785.5 664.5,785.1 665.5,784.8 666.5,783.8 667.5,785.4 668.5,784.8 669.5,785.5 670.5,785.2 671.5,784.7 672.5,785.8 673.5,784.0 674.5,786.0 675.5,783.9 676.5,786.0 677.5,785.0 678.5,784.7 679.5,785.8 680.5,784.7 681.5,784.5 682.5,783.0 683.5,783.5 684.5,780.4 685.5,775.0 686.5,770.7 687.0,770.8 687.5,772.7 688.5,776.6 689.5,779.9 690.5,781.7 691.5,784.8 692.5,783.7 693.5,785.1 694.5,784.7 695.5,785.8 696.5,783.9 697.5,785.5 698.5,785.3 699.5,783.6 700.5,784.9 701.5,784.2 702.5,785.2 703.5,785.8 704.5,785.0 705.5,784.5 706.5,784.5 707.5,783.2 708.5,782.5 709.5,778.7 710.5,775.2 711.5,768.2 712.2,767.8 712.5,767.2 713.5,772.3 714.5,776.5 715.5,780.1 716.5,783.2 717.5,783.8 718.5,783.8 719.5,781.6 720.5,777.8 721.5,766.7 722.5,755.7 723.5,748.3 723.6,747.2 724.5,752.4 725.5,764.7 726.5,775.4 727.5,781.5 728.5,783.5 729.5,784.0 730.5,783.2 731.5,784.9 732.5,784.6 733.5,783.8 734.5,785.0 735.5,784.2 736.5,784.4 737.5,784.7 738.5,785.5 739.5,784.0 740.5,784.8 741.5,784.3 742.5,785.4 743.5,785.7 744.5,784.4 745.5,785.5 746.5,784.9 747.5,784.3 748.5,784.5 749.5,785.1 750.5,785.8 751.5,785.3 752.5,783.9 753.5,785.7 754.5,785.3 755.5,784.9 756.5,784.4 757.5,784.9 758.5,785.5 759.5,784.5 760.5,784.2 761.5,786.0 762.5,785.0 763.5,784.1 764.5,786.0 765.5,784.2 766.5,784.8 767.5,785.4 768.5,785.5 769.5,786.0 770.5,784.3 771.5,785.2 772.5,786.0 773.5,785.0 774.5,785.6 775.5,785.0 776.5,785.6 777.5,786.2 778.5,784.7 779.5,785.6 780.5,784.6 781.5,785.9 782.5,785.6 783.5,785.8 784.5,785.8 785.5,785.0 786.5,785.7 787.5,783.5 788.5,783.8 789.5,781.1 790.5,779.7 791.5,776.4 792.5,772.0 793.4,771.9 793.5,771.0 794.5,772.4 795.5,776.0 796.5,780.3 797.5,782.2 798.5,782.7 799.5,783.9 800.5,785.8 801.5,784.7 802.5,785.3 803.5,784.7 804.5,783.9 805.5,785.2 806.5,784.2 807.5,784.0 808.5,785.2 809.5,785.3 810.5,783.6 811.5,785.5 812.5,782.4 813.5,781.3 814.5,780.1 815.2,780.8 815.5,780.7 816.5,782.0 817.5,782.8 818.5,785.1 819.5,783.8 820.5,785.9 821.5,783.8 822.5,784.1 823.5,785.5 824.5,785.5 825.5,785.3 826.5,784.2 827.5,785.5 828.5,784.2 829.5,782.3 830.5,779.8 831.5,779.4 832.4,776.0 832.5,776.4 833.5,778.3 834.5,782.2 835.5,784.0 836.5,785.1 837.5,784.9 838.5,783.6 839.5,785.4 840.5,784.1 841.5,785.9 842.5,785.9 843.5,783.8 844.5,785.3 845.5,784.1 846.5,783.8 847.5,785.6 848.5,784.5 849.5,784.0 850.5,784.6 851.5,783.3 852.5,784.0 853.5,784.3 854.5,784.6 855.5,782.4 856.5,783.5 857.5,780.2 858.5,777.1 859.5,770.4 860.5,758.1 861.5,742.0 862.5,728.8 863.3,723.5 863.5,723.3 864.5,733.3 865.5,748.2 866.5,763.7 867.5,773.4 868.5,775.8 869.5,775.4 870.5,772.4 871.5,767.9 872.5,763.9 873.5,761.4 873.6,761.7 874.5,764.3 875.5,768.1 876.5,772.1 877.5,776.6 878.5,781.3 879.5,782.0 880.5,784.1 881.5,784.1 882.5,784.4 883.5,783.8 884.5,784.3 885.5,783.7 886.5,783.5 887.5,783.7 888.5,780.6 889.5,779.9 890.5,781.0 890.8,781.0 891.5,780.9 892.5,781.9 893.5,781.3 894.5,783.8 895.5,783.1 896.5,785.3 897.5,784.5 898.5,784.9 899.5,784.8 900.5,784.1 901.5,785.0 902.5,785.7 903.5,784.7 904.5,784.7 905.5,784.6 906.5,784.2 907.5,784.4 908.5,785.7 909.5,786.0 910.5,784.6 911.5,784.4 912.5,784.5 913.5,785.8 914.5,784.3 915.5,784.1 916.5,784.4 917.5,783.8 918.5,784.0 919.5,784.2 920.5,785.1 921.5,785.8 922.5,784.2 923.5,784.3 924.5,784.9 925.5,783.6 926.5,783.7 927.5,784.8 928.5,784.5 929.5,784.2 930.5,784.3 931.5,783.3 932.5,783.8 933.5,783.4 934.5,783.4 935.5,782.9 936.5,784.6 937.5,782.5 938.5,783.4 939.5,782.6 940.5,782.5 941.5,783.6 942.5,783.8 943.5,783.5 944.5,781.6 945.5,781.7 946.5,780.8 947.5,779.3 948.5,779.2 949.5,778.5 950.5,776.5 951.5,775.3 952.5,771.2 953.5,765.5 954.5,756.9 955.5,737.5 956.5,705.2 957.5,661.6 958.5,612.8 959.4,593.3 959.5,593.3 960.5,622.2 961.5,671.0 962.5,713.0 963.5,741.6 964.5,759.0 965.5,768.0 966.5,772.2 967.5,775.7 968.5,776.9 969.5,778.0 970.5,778.8 971.5,779.5 972.5,779.9 973.5,782.2 974.5,781.7 975.5,780.9 976.5,781.5 977.5,782.2 978.5,783.3 979.5,783.5 980.5,783.3 981.5,782.3 982.5,782.6 983.5,783.8 984.5,782.4 985.5,783.0 986.5,781.4 987.5,782.3 988.5,782.2 989.5,782.9 990.5,782.7 991.5,781.8 992.5,780.2 993.5,780.8 994.5,780.1 995.5,776.8 996.5,776.0 997.5,773.6 998.5,768.5 999.5,760.8 1000.5,749.7 1001.5,729.7 1002.5,706.0 1003.5,678.6 1004.5,663.1 1004.8,663.2 1005.5,666.5 1006.5,688.9 1007.5,717.3 1008.5,739.7 1009.5,754.8 1010.5,764.6 1011.5,770.8 1012.5,775.5 1013.5,777.4 1014.5,778.6 1015.5,780.3 1016.5,779.7 1017.5,781.1 1018.5,782.8 1019.5,783.5 1020.5,782.8 1021.5,783.8 1022.5,784.3 1023.5,783.7 1024.5,782.9 1025.5,783.0 1026.5,784.5 1027.5,783.8 1028.5,784.4 1029.5,783.3 1030.5,785.6 1031.5,784.0 1032.5,784.9 1033.5,785.0 1034.5,784.4 1035.5,784.1 1036.5,785.0 1037.5,784.4 1038.5,783.9 1039.5,784.2 1040.5,783.9 1041.5,785.9 1042.5,784.3 1043.5,786.0 1044.5,785.3 1045.5,786.2 1046.5,785.0 1047.5,784.5 1048.5,784.1 1049.5,785.4 1050.5,785.6 1051.5,785.6 1052.5,786.2 1053.5,784.2 1054.5,785.6 1055.5,785.7 1056.5,786.3 1057.5,784.7 1058.5,786.3 1059.5,784.1 1060.5,785.5 1061.5,784.9 1062.5,785.3 1063.5,784.5 1064.5,785.0 1065.5,785.0 1066.5,785.2 1067.5,785.1 1068.5,784.7 1069.5,784.6 1070.5,785.3 1071.5,786.5 1072.5,786.2 1073.5,784.5 1074.5,785.7 1075.5,784.5 1076.5,785.0 1077.5,786.7 1078.5,785.1 1079.5,784.6 1080.5,785.7 1081.5,785.7 1082.5,785.5 1083.5,786.6 1084.5,785.5 1085.5,785.2 1086.5,784.8 1087.5,785.7 1088.5,786.1 1089.5,785.5 1090.5,785.2 1091.5,784.9 1092.5,786.3 1093.5,786.7 1094.5,785.7 1095.5,786.0 1096.5,785.1 1097.5,784.6 1098.5,784.4 1099.5,785.7 1100.5,786.4 1101.5,785.9 1102.5,785.8 1103.5,786.2 1104.5,785.1 1105.5,785.1 1106.5,784.5 1107.5,785.7 1108.5,784.9 1109.5,783.6 1110.5,782.8 1111.5,781.3 1112.5,777.2 1113.5,776.2 1114.1,776.5 1114.5,777.2 1115.5,777.3 1116.5,779.7 1117.5,782.2 1118.5,782.8 1119.5,784.7 1120.5,783.8 1121.5,784.9 1122.5,785.6 1123.5,786.2 1124.5,785.4 1125.5,785.8 1126.5,785.8 1127.5,785.8 1128.5,785.4 1129.5,785.0 1130.5,784.6 1131.5,786.4 1132.5,786.2 1133.5,785.9 1134.5,786.1 1135.5,785.1 1136.5,784.8 1137.5,785.6 1138.5,785.5 1139.5,785.9 1140.5,786.5 1141.5,785.3 1142.5,785.3 1143.5,786.1 1144.5,786.5 1145.5,785.7 1146.5,785.8 1147.5,786.5 1148.5,786.6 1149.5,784.5 1150.5,786.7 1151.5,784.6 1152.5,785.7 1153.5,785.6 1154.5,786.7 1155.5,784.9 1156.5,784.5 1157.5,786.7 1158.5,785.5 1159.5,785.5 1160.5,785.4 1161.5,785.0 1162.5,784.4 1163.5,785.7 1164.5,784.9 1165.5,785.6 1166.5,786.8 1167.5,786.7 1168.5,785.1 1169.5,785.2 1170.5,784.6 1171.5,785.8 1172.5,784.8 1173.5,784.6 1174.5,786.5 1175.5,785.6 1176.5,786.4 1177.5,784.7 1178.5,784.6 1179.5,785.4 1180.5,785.5 1181.5,783.9 1182.5,783.8 1183.5,782.2 1184.5,779.3 1185.5,775.7 1186.5,773.8 1186.9,772.7 1187.5,773.2 1188.5,775.7 1189.5,780.8 1190.5,781.9 1191.5,784.5 1192.5,783.9 1193.5,786.1 1194.5,784.2 1195.5,786.1 1196.5,785.5 1197.5,786.5 1198.5,786.4 1199.5,784.4 1200.5,784.5 1201.5,785.0 1202.5,784.5 1203.5,786.5 1204.5,784.8 1205.5,786.0 1206.5,786.7 1207.5,786.1 1208.5,786.8 1209.5,786.0 1210.5,785.4 1211.5,786.8 1212.5,785.0 1213.5,785.8 1214.5,785.5 1215.5,785.8 1216.5,785.2 1217.5,786.8 1218.5,786.9 1219.5,786.2 1220.5,785.7 1221.5,786.8 1222.5,786.8 1223.5,784.6 1224.5,786.6 1225.5,784.7 1226.5,784.7 1227.5,785.1 1228.5,785.4 1229.5,785.7 1230.5,786.8 1231.5,784.9 1232.5,786.1 1233.5,785.7 1234.5,784.8 1235.5,786.9 1236.5,786.7 1237.5,785.3 1238.5,786.6 1239.5,785.6 1240.5,786.1 1241.5,786.7 1242.5,786.0 1243.5,785.4 1244.5,784.6 1245.5,785.6 1246.5,785.9 1247.5,785.2 1248.5,785.9 1249.5,784.5 1250.5,785.1 1251.5,785.7 1252.5,785.7 1253.5,786.2 1254.5,785.1 1255.5,785.2 1256.5,786.3 1257.5,785.2 1258.5,784.9 1259.5,786.0 1260.5,785.4 1261.5,785.9 1262.5,786.8 1263.5,786.8 1264.5,786.4 1265.5,786.8 1266.5,786.4 1267.5,785.4 1268.5,786.8 1269.5,784.8 1270.5,785.0 1271.5,785.7 1272.5,784.8 1273.5,786.0 1274.5,785.8 1275.5,785.0 1276.5,786.3 1277.5,784.7 1278.5,785.7 1279.5,785.2 1280.5,786.8 1281.5,784.9 1282.5,785.4 1283.5,786.2 1284.5,785.2 1285.5,786.5 1286.5,784.8 1287.5,784.7 1288.5,784.5 1289.5,785.8 1290.5,785.6 1291.5,785.8 1292.5,785.6 1293.5,786.6 1294.5,785.0 1295.5,784.8 1296.5,785.1 1297.5,786.5 1298.5,786.4 1299.5,784.7 1300.5,784.5 1301.5,786.8 1302.5,786.8 1303.5,785.1 1304.5,785.7 1305.5,784.5 1306.5,785.6 1307.5,784.8 1308.5,786.0 1309.5,784.8 1310.5,785.7 1311.5,785.1 1312.5,785.5 1313.5,786.6 1314.5,785.5 1315.5,786.6 1316.5,786.0 1317.5,784.8 1318.5,784.8 1319.5,786.1 1320.5,786.0 1321.5,784.4 1322.5,785.9 1323.5,784.6 1324.5,785.2 1325.5,785.8 1326.5,785.8 1327.5,783.8 1328.5,783.5 1329.5,783.6 1330.5,783.9 1331.5,784.2 1332.5,782.4 1333.5,781.2 1334.5,779.1 1335.5,775.3 1336.5,771.2 1337.5,767.9 1338.5,763.2 1339.5,760.6 1340.3,760.0 1340.5,758.8 1341.5,760.4 1342.5,763.6 1343.5,769.2 1344.5,772.7 1345.5,776.2 1346.5,779.3 1347.5,781.8 1348.5,783.0 1349.5,783.3 1350.5,784.3 1351.5,784.6 1352.5,785.5 1353.5,785.2 1354.5,785.7 1355.5,784.4 1356.5,785.9 1357.5,784.0 1358.5,786.0 1359.5,784.1 1360.5,785.6 1361.5,784.9 1362.5,784.6 1363.5,786.1 1364.5,784.6 1365.5,786.0 1366.5,784.6 1367.5,784.9 1368.5,785.4 1369.5,785.8 1370.5,786.0 1371.5,785.3 1372.5,786.6 1373.5,784.6 1374.5,785.0 1375.5,785.5 1376.5,786.0 1377.5,786.1 1378.5,786.7 1379.5,785.4 1380.5,786.1 1381.5,786.2 1382.5,784.9 1383.5,785.5 1384.5,785.6 1385.5,786.0 1386.5,785.9 1387.5,784.9 1388.5,785.1 1389.5,785.4 1390.5,784.8 1391.5,786.5 1392.5,786.8 1393.5,786.4 1394.5,785.1 1395.5,786.0 1396.5,784.7 1397.5,785.1 1398.5,785.2 1399.5,786.1 1400.5,786.0 1401.5,785.9 1402.5,785.0 1403.5,785.8 1404.5,786.4 1405.5,786.7 1406.5,785.5 1407.5,785.7 1408.5,786.7 1409.5,784.7 1410.5,786.1 1411.5,784.9 1412.5,786.5 1413.5,786.1 1414.5,784.6 1415.5,784.3 1416.5,786.1 1417.5,784.2 1418.5,784.4 1419.5,784.1 1420.0,783.6 1420.5,783.0 1421.5,784.8 1422.5,784.3 1423.5,784.9 1424.5,786.1 1425.5,786.7 1426.5,785.2 1427.5,785.4 1428.5,786.5 1429.5,785.7 1430.5,786.8 1431.5,785.5 1432.5,784.8 1433.5,785.3 1434.5,786.8 1435.5,786.0 1436.5,787.0 1437.5,786.6 1438.5,786.2 1439.5,784.9 1440.5,785.3 1441.5,784.0 1442.5,784.3 1443.5,783.6 1444.5,785.0 1445.0,783.1 1445.5,783.6 1446.5,783.1 1447.5,783.9 1448.5,785.6 1449.5,785.2 1450.5,785.7 1451.5,786.6 1452.5,786.3 1453.5,785.2 1454.5,786.5 1455.5,786.3 1456.5,786.1 1457.5,785.9 1458.5,786.9 1459.5,786.1 1460.5,784.8 1461.5,786.7 1462.5,786.2 1463.5,785.3 1464.5,786.4 1465.5,786.5 1466.5,785.7 1467.5,784.7 1468.5,785.1 1469.5,783.0 1470.0,782.9 1470.5,783.8 1471.5,784.4 1472.5,785.1 1473.5,785.6 1474.5,785.6 1475.5,785.4 1476.5,786.4 1477.5,786.0 1478.5,785.2 1479.5,786.1 1480.5,785.9 1481.5,786.7 1482.5,786.5 1483.5,787.1 1484.5,786.6 1485.5,786.0 1486.5,786.4 1487.5,785.5 1488.5,786.1 1489.5,787.2 1490.5,785.1 1491.5,785.8 1492.5,785.8 1493.5,786.5 1494.5,785.3 1495.5,786.5 1496.5,785.1 1497.5,787.1 1498.5,785.0 1499.5,786.4 1500.5,786.6 1501.5,786.2 1502.5,785.5 1503.5,785.7 1504.5,787.0 1505.5,785.9 1506.5,786.2 1507.5,787.1 1508.5,786.0 1509.5,786.8 1510.5,786.3 1511.5,786.8 1512.5,786.3 1513.5,785.2 1514.5,785.4 1515.5,785.5 1516.5,785.4 1517.5,786.3 1518.5,785.8 1519.5,785.7 1520.5,784.9 1521.5,787.2 1522.5,786.0 1523.5,785.4 1524.5,786.4 1525.5,785.1 1526.5,785.2 1527.5,787.1 1528.5,786.5 1529.5,785.7 1530.5,785.2 1531.5,786.6 1532.5,785.4 1533.5,785.6 1534.5,785.5 1535.5,786.4 1536.5,785.4 1537.5,785.0 1538.5,786.9 1539.5,786.1 1540.5,785.2 1541.5,785.0 1542.5,787.1 1543.5,786.1 1544.5,786.2 1545.5,787.0 1546.5,784.9 1547.5,785.1 1548.5,785.4 1549.5,786.5 1550.5,785.1 1551.5,786.2 1552.5,786.8 1553.5,785.8 1554.5,786.5 1555.5,785.0 1556.5,786.0 1557.5,785.8 1558.5,786.5 1559.5,785.8 1560.5,786.5 1561.5,787.0 1562.5,787.1 1563.5,786.8 1564.5,786.6 1565.5,787.2 1566.5,785.9 1567.5,784.9 1568.5,786.8 1569.5,785.7 1570.5,785.6 1571.5,787.1 1572.5,785.8 1573.5,785.1 1574.5,786.9 1575.5,784.7 1576.5,784.6 1577.5,785.4 1578.5,782.1 1579.5,780.6 1580.1,778.0 1580.5,779.1 1581.5,782.1 1582.5,784.9 1583.5,786.1 1584.5,786.2 1585.5,785.1 1586.5,786.7 1587.5,784.8 1588.5,785.7 1589.5,784.7 1590.5,786.3 1591.5,785.5 1592.5,785.2 1593.5,785.9 1594.5,783.6 1595.5,783.7 1596.5,782.6 1597.5,779.7 1598.5,780.0 1599.5,777.8 1600.5,778.2 1600.7,778.2 1601.5,777.5 1602.5,778.6 1603.5,780.0 1604.5,780.7 1605.5,783.1 1606.5,784.5 1607.5,785.8 1608.5,785.1 1609.5,785.6 1610.5,786.0 1611.5,786.4 1612.5,786.3 1613.5,787.0 1614.5,786.8 1615.5,787.1 1616.5,785.9 1617.5,786.1 1618.5,785.3 1619.5,786.1 1620.5,786.1 1621.5,785.7 1622.5,787.1 1623.5,787.0 1624.5,786.9 1625.5,785.6 1626.5,786.3 1627.5,787.0 1628.5,785.9 1629.5,786.3 1630.5,785.4 1631.5,787.2 1632.5,786.3 1633.5,786.0 1634.5,787.0 1635.5,785.6 1636.5,786.2 1637.5,785.9 1638.5,787.1 1639.5,786.2 1640.5,787.2 1641.5,786.9 1642.5,785.2 1643.5,786.4 1644.5,786.2 1645.5,785.4 1646.5,787.1 1647.5,787.0 1648.5,787.3 1649.5,786.2 1650.5,785.3 1651.5,786.6 1652.5,787.0 1653.5,785.7 1654.5,786.8 1655.5,786.2 1656.5,785.9 1657.5,787.4 1658.5,786.7 1659.5,787.3 1660.5,786.9 1661.5,787.0 1662.5,785.5 1663.5,786.8 1664.5,785.3 1665.5,786.9 1666.5,786.7 1667.5,786.0 1668.5,786.4 1669.5,787.3 1670.5,786.7 1671.5,785.7 1672.5,787.3 1673.5,786.9 1674.5,785.8 1675.5,786.0 1676.5,785.9 1677.5,786.1 1678.5,787.1 1679.5,786.0 1680.5,787.3 1681.5,785.8 1682.5,785.9 1683.5,785.8 1684.5,786.9 1685.5,785.3 1686.5,785.4 1687.5,787.0 1688.5,786.8 1689.5,785.4 1690.5,786.1 1691.5,785.2 1692.5,787.1 1693.5,787.2 1694.5,785.2 1695.5,786.9 1696.5,785.7 1697.5,787.4 1698.5,785.4 1699.5,787.3 1700.5,785.8 1701.5,786.4 1702.5,786.4 1703.5,787.0 1704.5,785.9 1705.5,787.0 1706.5,787.0 1707.5,786.7 1708.5,785.2 1709.5,786.2 1710.5,785.6 1711.5,787.5 1712.5,786.1 1713.5,787.2 1714.5,786.1 1715.5,785.7 1716.5,785.5 1717.5,786.8 1718.5,785.3 1719.5,786.2 1720.5,786.3 1721.5,787.3 1722.5,787.1 1723.5,785.2 1724.5,785.9 1725.5,786.1 1726.5,786.9 1727.5,785.3 1728.5,786.7 1729.5,785.7 1730.5,786.5 1731.5,785.9 1732.5,785.5 1733.5,787.1 1734.5,787.1 1735.5,785.9 1736.5,785.9 1737.5,785.6 1738.5,785.9 1739.5,786.0 1740.5,785.3 1741.5,787.2 1742.5,786.1 1743.5,785.7 1744.5,785.7 1745.5,785.4 1746.5,786.2 1747.5,786.0 1748.5,786.9 1749.5,785.8 1750.5,785.5 1751.5,785.4 1752.5,786.7 1753.5,785.4 1754.5,785.4 1755.5,785.2 1756.5,786.3 1757.5,785.8 1758.5,786.8 1759.5,785.8 1760.5,787.0 1761.5,785.5 1762.5,785.9 1763.5,786.8 1764.5,787.0 1765.5,786.9 1766.5,786.5 1767.5,786.1 1768.5,785.9 1769.5,787.1 1770.5,785.7 1771.5,785.8 1772.5,786.5 1773.5,786.1 1774.5,786.9 1775.5,785.5 1776.5,786.7 1777.5,786.5 1778.5,785.0 1779.5,786.8 1780.5,786.2 1781.5,786.7 1782.5,785.7 1783.5,786.4 1784.5,785.5 1785.5,786.3 1786.5,785.9 1787.5,784.3 1788.5,785.7 1789.5,783.7 1790.5,784.2 1791.5,783.4 1792.5,783.0 1793.5,781.6 1794.5,780.1 1795.5,778.4 1796.5,773.5 1797.5,767.7 1798.5,759.0 1799.5,750.1 1800.5,743.3 1801.5,738.3 1801.7,738.6 1802.5,741.4 1803.5,746.4 1804.5,755.8 1805.5,765.6 1806.5,772.0 1807.5,777.1 1808.5,778.8 1809.5,781.4 1810.5,783.7 1811.5,784.7 1812.5,784.6 1813.5,785.6 1814.5,784.4 1815.5,785.4 1816.5,786.2 1817.5,784.5 1818.5,785.7 1819.5,785.1 1820.5,785.7 1821.5,786.6 1822.5,785.6 1823.5,784.9 1824.5,785.9 1825.5,786.1 1826.5,785.4 1827.5,786.7 1828.5,785.5 1829.5,786.0 1830.5,786.2 1831.5,785.0 1832.5,787.1 1833.5,786.4 1834.5,785.6 1835.5,787.2 1836.5,786.8 1837.5,786.4 1838.5,786.2 1839.5,786.7 1840.5,785.6 1841.5,786.2 1842.5,785.1 1843.5,785.2 1844.5,786.5 1845.5,786.4 1846.5,787.1 1847.5,786.6 1848.5,786.9 1849.5,786.7 1850.5,786.1 1851.5,786.9 1852.5,785.6 1853.5,787.5 1854.5,786.6 1855.5,786.2 1856.5,786.8 1857.5,786.2 1858.5,785.9 1859.5,786.7 1860.5,787.5 1861.5,786.6 1862.5,787.3 1863.5,786.1 1864.5,787.5 1865.5,787.4 1866.5,787.0 1867.5,785.4 1868.5,787.4 1869.5,786.6 1870.5,786.3 1871.5,787.2 1872.5,786.6 1873.5,787.2 1874.5,786.6 1875.5,785.6 1876.5,787.5 1877.5,785.7 1878.5,786.5 1879.5,785.8 1880.5,785.4 1881.5,786.4 1882.5,786.2 1883.5,785.5 1884.5,787.2 1885.5,786.6 1886.5,786.7 1887.5,785.6 1888.5,786.1 1889.5,787.0 1890.5,786.7 1891.5,786.2 1892.5,786.1 1893.5,787.4 1894.5,786.4 1895.5,785.8 1896.5,786.9 1897.5,786.8 1898.5,787.0 1899.5,785.9 1900.5,786.4 1901.5,786.1 1902.5,785.4 1903.5,786.4 1904.5,786.8 1905.5,786.5 1906.5,787.4 1907.5,786.0 1908.5,786.9 1909.5,787.2 1910.5,787.0 1911.5,785.6 1912.5,787.6 1913.5,785.7 1914.5,785.3 1915.5,786.7 1916.5,786.0 1917.5,786.1 1918.5,785.6 1919.5,787.2 1920.5,785.3 1921.5,786.0 1922.5,787.6 1923.5,785.5 1924.5,786.9 1925.5,786.7 1926.5,786.0 1927.5,786.7 1928.5,785.5 1929.5,787.1 1930.5,787.1 1931.5,786.7 1932.5,785.1 1933.5,785.8 1934.5,785.3 1935.5,787.2 1936.5,784.8 1937.5,786.4 1938.5,786.5 1939.5,785.9 1940.5,783.4 1941.5,783.7 1942.5,780.1 1943.5,778.6 1944.5,776.9 1945.5,773.7 1946.5,771.5 1947.4,771.8 1947.5,771.3 1948.5,773.2 1949.5,775.1 1950.5,775.8 1951.5,780.0 1952.5,780.7 1953.5,782.4 1954.5,785.4 1955.5,786.1 1956.5,785.7 1957.5,786.7 1958.5,786.2 1959.5,785.5 1960.5,786.1 1961.5,786.5 1962.5,785.2 1963.5,785.8 1964.5,786.8 1965.5,786.6 1966.5,785.2 1967.5,785.3 1968.5,787.3 1969.5,785.1 1970.5,786.8 1971.5,786.1 1972.5,784.6 1973.5,783.9 1974.5,783.3 1975.5,781.7 1976.5,780.9 1977.5,782.0 1978.5,780.5 1978.6,781.3 1979.5,781.5 1980.5,780.8 1981.5,783.0 1982.5,784.2 1983.5,783.4 1984.5,784.7 1985.5,785.3 1986.5,786.1 1987.5,786.3 1988.5,786.2 1989.5,787.3 1990.5,787.5 1991.5,786.4 1992.5,787.4 1993.5,785.8 1994.5,787.5 1995.5,785.4 1996.5,787.0 1997.5,786.7 1998.5,787.0 1999.5,786.1 2000.5,786.9 2001.5,786.5 2002.5,785.9 2003.5,786.4 2004.5,787.0 2005.5,787.8 2006.5,787.5 2007.5,787.1 2008.5,786.5 2009.5,787.1 2010.5,786.0 2011.5,786.3 2012.5,787.4 2013.5,786.2 2014.5,785.5 2015.5,785.5 2016.5,785.5 2017.5,787.1 2018.5,785.5 2019.5,787.4 2020.5,786.5 2021.5,786.7 2022.5,786.3 2023.5,787.2 2024.5,787.2 2025.5,787.0 2026.5,786.7 2027.5,786.1 2028.5,786.8 2029.5,786.5 2030.5,786.7 2031.5,787.8 2032.5,786.8 2033.5,787.4 2034.5,786.6 2035.5,786.5 2036.5,787.5 2037.5,786.0 2038.5,787.3 2039.5,787.2 2040.5,786.0 2041.5,785.9 2042.5,787.5 2043.5,787.6 2044.5,786.6 2045.5,785.9 2046.5,786.0 2047.5,786.8 2048.5,786.0 2049.5,785.6 2050.5,787.0 2051.5,787.6 2052.5,785.7 2053.5,787.7 2054.5,785.6 2055.5,786.0 2056.5,785.8 2057.5,786.6 2058.5,786.2 2059.5,786.6 2060.5,786.0 2061.5,786.7 2062.5,787.2 2063.5,786.4 2064.5,786.0 2065.5,787.2 2066.5,787.2 2067.5,787.3 2068.5,787.9 2069.5,786.3 2070.5,786.9 2071.5,786.9 2072.5,786.5 2073.5,786.5 2074.5,786.5 2075.5,786.4 2076.5,786.5 2077.5,787.4 2078.5,787.0 2079.5,787.6 2080.5,787.6 2081.5,786.2 2082.5,786.0 2083.5,786.7 2084.5,787.6 2085.5,785.7 2086.5,786.3 2087.5,786.6 2088.5,785.6 2089.5,787.4 2090.5,787.4 2091.5,786.1 2092.5,787.2 2093.5,785.7 2094.5,785.4 2095.5,786.5 2096.5,785.6 2097.5,785.3 2098.5,785.7 2099.5,784.7 2100.5,783.1 2101.5,782.2 2102.5,779.2 2103.5,778.9 2104.5,777.8 2105.2,776.9 2105.5,776.2 2106.5,777.4 2107.5,779.6 2108.5,781.6 2109.5,781.8 2110.5,784.0 2111.5,785.6 2112.5,786.4 2113.5,785.0 2114.5,786.1 2115.5,785.5 2116.5,787.1 2117.5,787.1 2118.5,787.6 2119.5,786.4 2120.5,787.1 2121.5,785.5 2122.5,786.0 2123.5,786.6 2124.5,786.8 2125.5,786.7 2126.5,786.8 2127.5,786.8 2128.5,787.1 2129.5,785.6 2130.5,787.4 2131.5,785.6 2132.5,785.6 2133.5,787.0 2134.5,785.5 2135.5,787.3 2136.5,786.4 2137.5,786.9 2138.5,787.7 2139.5,787.1 2140.5,787.4 2141.5,786.1 2142.5,786.6 2143.5,786.5 2144.5,786.1 2145.5,786.6 2146.5,786.4 2147.5,786.5 2148.5,785.6 2149.5,786.8 2150.5,786.5 2151.5,786.2 2152.5,787.6 2153.5,787.2 2154.5,786.2 2155.5,787.7 2156.5,787.5 2157.5,785.7 2158.5,785.8 2159.5,785.8 2160.5,787.8 2161.5,787.3 2162.5,786.9 2163.5,787.1 2164.5,787.9 2165.5,786.9 2166.5,785.7 2167.5,786.1 2168.5,786.2 2169.5,787.1 2170.5,786.3 2171.5,787.2 2172.5,785.7 2173.5,787.4 2174.5,785.9 2175.5,786.0 2176.5,787.5 2177.5,785.7 2178.5,785.9 2179.5,787.1 2180.5,787.7 2181.5,785.6 2182.5,786.0 2183.5,787.1 2184.5,786.4 2185.5,787.5 2186.5,786.4 2187.5,786.3 2188.5,787.2 2189.5,785.7 2190.5,787.8 2191.5,786.1 2192.5,787.4 2193.5,787.7 2194.5,787.7 2195.5,787.1 2196.5,785.9 2197.5,786.6 2198.5,786.1 2199.5,787.4 2200.5,785.7 2201.5,786.1 2202.5,787.3 2203.5,787.2 2204.5,787.7 2205.5,787.5 2206.5,787.8 2207.5,786.9 2208.5,786.7 2209.5,787.7 2210.5,786.0 2211.5,785.8 2212.5,786.3 2213.5,787.9 2214.5,786.6 2215.5,786.4 2216.5,786.1 2217.5,787.5 2218.5,786.3 2219.5,786.1 2220.5,787.4 2221.5,787.4 2222.5,786.4 2223.5,787.6 2224.5,787.3 2225.5,786.8 2226.5,787.9 2227.5,787.3 2228.5,785.9 2229.5,785.8 2230.5,787.4 2231.5,787.2 2232.5,786.0 2233.5,787.8 2234.5,786.0 2235.5,786.1 2236.5,786.4 2237.5,787.2 2238.5,787.4 2239.5,787.9 2240.5,786.3 2241.5,785.8 2242.5,786.2 2243.5,786.1 2244.5,787.8 2245.5,786.7 2246.5,786.7 2247.5,786.9 2248.5,787.9 2249.5,786.0 2250.5,786.6 2251.5,786.2 2252.5,786.3 2253.5,787.9 2254.5,786.0 2255.5,786.6 2256.5,787.8 2257.5,787.9 2258.5,787.4 2259.5,786.7 2260.5,786.9 2261.5,787.4 2262.5,788.1 2263.5,787.9 2264.5,787.2 2265.5,788.0 2266.5,786.8 2267.5,786.9 2268.5,787.8 2269.5,787.8 2270.5,787.7 2271.5,787.2 2272.5,785.9 2273.5,787.0 2274.5,787.6 2275.5,786.9 2276.5,787.2 2277.5,787.7 2278.5,786.4 2279.5,787.0 2280.5,787.9 2281.5,788.1 2282.5,787.9 2283.5,785.8 2284.5,787.3 2285.5,787.4 2286.5,787.8 2287.5,787.9 2288.5,786.9 2289.5,786.8 2290.5,786.0 2291.5,787.8 2292.5,787.6 2293.5,787.8 2294.5,786.6 2295.5,786.4 2296.5,786.6 2297.5,787.4 2298.5,786.4 2299.5,785.8 2300.5,786.8 2301.5,786.6 2302.5,787.2 2303.5,787.0 2304.5,788.2 2305.5,786.1 2306.5,788.0 2307.5,788.2 2308.5,787.4"/>
<path stroke="#BC58C6" d="M221.5,969.0 222.5,969.7 223.5,969.7 224.5,970.0 225.5,969.2 226.5,969.2 227.5,969.8 228.5,969.7 229.5,969.3 230.5,969.7 231.5,969.4 232.5,969.8 233.5,969.0 234.5,969.2 235.5,970.0 236.5,969.3 237.5,969.2 238.5,969.9 239.5,969.7 240.5,969.1 241.5,969.6 242.5,969.7 243.5,969.1 244.5,969.7 245.5,969.1 246.5,969.3 247.5,969.0 248.5,969.2 249.5,970.1 250.5,969.4 251.5,970.1 252.5,969.4 253.5,969.6 254.5,970.0 255.5,969.7 256.5,969.0 257.5,969.6 258.5,969.7 259.5,969.1 260.5,969.0 261.5,970.0 262.5,969.5 263.5,969.1 264.5,969.5 265.5,969.2 266.5,969.9 267.5,969.5 268.5,969.0 269.5,969.9 270.5,969.0 271.5,969.2 272.5,968.9 273.5,969.8 274.5,969.0 275.5,969.5 276.5,969.0 277.5,969.5 278.5,969.7 279.5,969.6 280.5,969.5 281.5,969.5 282.5,969.4 283.5,969.6 284.5,969.0 285.5,969.5 286.5,969.2 287.5,970.0 288.5,970.0 289.5,969.0 290.5,969.1 291.5,969.8 292.5,969.6 293.5,968.9 294.5,969.8 295.5,970.1 296.5,969.4 297.5,969.3 298.5,969.6 299.5,970.0 300.5,969.2 301.5,969.3 302.5,969.1 303.5,969.7 304.5,969.5 305.5,969.2 306.5,969.4 307.5,969.0 308.5,969.3 309.5,970.1 310.5,969.6 311.5,969.3 312.5,970.0 313.5,969.4 314.5,969.2 315.5,969.0 316.5,969.1 317.5,969.2 318.5,969.2 319.5,970.0 320.5,969.2 321.5,969.2 322.5,969.6 323.5,970.0 324.5,969.3 325.5,969.8 326.5,969.4 327.5,969.6 328.5,969.6 329.5,970.1 330.5,969.8 331.5,969.5 332.5,969.9 333.5,969.4 334.5,969.4 335.5,970.1 336.5,969.6 337.5,969.9 338.5,969.3 339.5,970.0 340.5,969.7 341.5,969.2 342.5,970.0 343.5,969.5 344.5,969.3 345.5,969.2 346.5,969.1 347.5,969.2 348.5,969.8 349.5,969.1 350.5,969.2 351.5,969.5 352.5,969.6 353.5,969.4 354.5,969.9 355.5,969.2 356.5,969.4 357.5,969.4 358.5,969.1 359.5,969.2 360.5,969.1 361.5,969.8 362.5,969.1 363.5,969.7 364.5,969.2 365.5,969.7 366.5,969.7 367.5,969.4 368.5,970.1 369.5,969.7 370.5,969.6 371.5,969.0 372.5,969.4 373.5,969.3 374.5,969.5 375.5,970.1 376.5,970.0 377.5,969.0 378.5,969.7 379.5,970.1 380.5,969.6 381.5,969.0 382.5,970.0 383.5,969.4 384.5,970.1 385.5,970.0 386.5,969.9 387.5,970.0 388.5,968.9 389.5,969.5 390.5,968.6 391.5,968.2 392.0,968.4 392.5,968.7 393.5,968.3 394.5,969.1 395.5,969.7 396.5,969.5 397.5,969.5 398.5,969.3 399.5,970.1 400.5,969.2 401.5,969.7 402.5,969.7 403.5,968.9 404.5,970.1 405.5,969.2 406.5,970.1 407.5,970.1 408.5,970.0 409.5,970.0 410.5,969.4 411.5,969.5 412.5,969.4 413.5,970.1 414.5,969.0 415.5,969.1 416.5,970.1 417.5,969.9 418.5,969.8 419.5,970.1 420.5,969.6 421.5,969.9 422.5,969.5 423.5,970.0 424.5,969.0 425.5,969.5 426.5,969.6 427.5,969.9 428.5,969.5 429.5,969.8 430.5,970.1 431.5,969.5 432.5,969.2 433.5,969.0 434.5,970.0 435.5,969.5 436.5,969.4 437.5,969.6 438.5,969.1 439.5,969.2 440.5,969.2 441.5,969.3 442.5,970.0 443.5,969.2 444.5,969.1 445.5,970.0 446.5,969.6 447.5,969.0 448.5,969.8 449.5,969.8 450.5,969.7 451.5,969.9 452.5,969.5 453.5,969.2 454.5,969.8 455.5,969.7 456.5,969.8 457.5,969.2 458.5,969.4 459.5,969.8 460.5,969.4 461.5,969.7 462.5,969.5 463.5,969.9 464.5,969.4 465.5,969.6 466.5,970.0 467.5,969.3 468.5,969.2 469.5,969.7 470.5,969.1 471.5,970.0 472.5,969.3 473.5,970.0 474.5,969.6 475.5,969.1 476.5,969.6 477.5,969.8 478.5,969.5 479.5,969.7 480.5,969.4 481.5,970.1 482.5,969.2 483.5,969.9 484.5,969.0 485.5,969.6 486.5,969.0 487.5,969.1 488.5,969.7 489.5,970.0 490.5,969.3 491.5,969.4 492.5,969.5 493.5,969.7 494.5,969.4 495.5,969.4 496.5,970.0 497.5,969.6 498.5,969.4 499.5,969.9 500.5,970.2 501.5,969.5 502.5,969.0 503.5,969.3 504.5,970.0 505.5,969.2 506.5,969.2 507.5,969.9 508.5,969.1 509.5,970.0 510.5,969.2 511.5,969.4 512.5,969.7 513.5,969.1 514.5,969.9 515.5,969.5 516.5,969.9 517.5,969.9 518.5,969.1 519.5,970.0 520.5,970.0 521.5,969.3 522.5,969.7 523.5,969.2 524.5,969.6 525.5,969.9 526.5,969.4 527.5,969.6 528.5,969.1 529.5,970.0 530.5,969.7 531.5,970.0 532.5,969.1 533.5,969.9 534.5,969.1 535.5,969.6 536.5,969.3 537.5,970.1 538.5,969.1 539.5,969.5 540.5,969.5 541.5,969.4 542.5,969.1 543.5,969.8 544.5,970.1 545.5,969.4 546.5,970.1 547.5,969.4 548.5,969.3 549.5,969.5 550.5,970.1 551.5,969.9 552.5,969.7 553.5,969.0 554.5,969.5 555.5,969.0 556.5,969.1 557.5,969.4 558.5,969.3 559.5,969.1 560.5,969.6 561.5,969.9 562.5,970.1 563.5,970.1 564.5,969.5 565.5,969.2 566.5,970.1 567.5,969.5 568.5,969.4 569.5,970.0 570.5,969.7 571.5,970.1 572.5,969.8 573.5,970.1 574.5,969.2 575.5,970.1 576.5,969.6 577.5,969.8 578.5,969.3 579.5,969.3 580.5,969.3 581.5,969.2 582.5,970.1 583.5,969.1 584.5,969.3 585.5,969.7 586.5,969.2 587.5,969.2 588.5,969.3 589.5,969.3 590.5,969.0 591.5,969.9 592.5,969.8 593.5,969.4 594.5,970.1 595.5,969.7 596.5,969.3 597.5,970.1 598.5,969.3 599.5,970.0 600.5,970.0 601.5,969.0 602.5,970.0 603.5,969.5 604.5,969.6 605.5,970.1 606.5,969.5 607.5,969.3 608.5,969.1 609.5,970.1 610.5,969.5 611.5,969.8 612.5,969.8 613.5,970.2 614.5,970.1 615.5,970.1 616.5,969.6 617.5,970.1 618.5,969.4 619.5,969.1 620.5,969.8 621.5,969.0 622.5,970.2 623.5,969.4 624.5,969.5 625.5,969.3 626.5,969.4 627.5,969.6 628.5,970.0 629.5,969.0 630.5,969.4 631.5,969.3 632.5,970.1 633.5,969.5 634.5,969.5 635.5,970.1 636.5,969.5 637.5,969.5 638.5,969.5 639.5,969.3 640.5,969.8 641.5,969.3 642.5,969.6 643.5,969.7 644.5,969.9 645.5,969.9 646.5,969.6 647.5,970.1 648.5,970.1 649.5,970.1 650.5,969.9 651.5,969.5 652.5,969.4 653.5,970.0 654.5,969.6 655.5,969.9 656.5,969.5 657.5,969.4 658.5,969.0 659.5,969.9 660.5,969.4 661.5,969.6 662.5,969.9 663.5,970.0 664.5,970.1 665.5,969.8 666.5,969.3 667.5,970.1 668.5,969.1 669.5,969.5 670.5,970.1 671.5,970.0 672.5,969.7 673.5,970.1 674.5,969.2 675.5,969.1 676.5,969.3 677.5,970.1 678.5,969.0 679.5,969.4 680.5,969.6 681.5,969.2 682.5,970.0 683.5,969.1 684.5,969.1 685.5,970.2 686.5,969.0 687.5,969.3 688.5,969.5 689.5,970.0 690.5,969.4 691.5,969.7 692.5,969.9 693.5,969.7 694.5,970.0 695.5,969.0 696.5,969.6 697.5,969.0 698.5,970.0 699.5,969.0 700.5,969.1 701.5,969.5 702.5,969.7 703.5,968.9 704.5,969.7 705.5,969.0 706.5,969.3 707.5,968.9 708.5,969.7 709.5,969.8 710.5,969.7 711.5,969.2 712.5,969.0 713.5,969.8 714.5,969.6 715.5,969.6 716.5,968.8 717.5,969.1 718.5,968.4 719.5,967.0 720.5,962.8 721.5,955.4 722.5,944.9 723.5,938.4 723.6,938.6 724.5,942.5 725.5,953.3 726.5,961.4 727.5,965.7 728.5,968.3 729.5,968.6 730.5,968.7 731.5,969.6 732.5,969.7 733.5,969.2 734.5,969.4 735.5,968.8 736.5,969.2 737.5,970.0 738.5,969.5 739.5,970.1 740.5,968.9 741.5,968.9 742.5,969.0 743.5,969.0 744.5,969.8 745.5,970.1 746.5,969.9 747.5,969.7 748.5,969.4 749.5,969.4 750.5,969.1 751.5,969.5 752.5,969.1 753.5,970.0 754.5,969.6 755.5,969.4 756.5,970.0 757.5,969.4 758.5,970.0 759.5,969.9 760.5,969.8 761.5,969.7 762.5,969.8 763.5,970.1 764.5,970.2 765.5,969.7 766.5,970.1 767.5,969.3 768.5,970.1 769.5,970.0 770.5,969.7 771.5,969.1 772.5,970.1 773.5,969.5 774.5,969.4 775.5,970.1 776.5,969.1 777.5,969.8 778.5,969.3 779.5,970.0 780.5,969.3 781.5,969.1 782.5,969.6 783.5,969.5 784.5,969.9 785.5,969.3 786.5,969.3 787.5,969.3 788.5,969.6 789.5,969.1 790.5,969.7 791.5,970.0 792.5,969.8 793.5,969.3 794.5,969.6 795.5,969.1 796.5,969.5 797.5,969.9 798.5,969.0 799.5,969.8 800.5,970.1 801.5,969.3 802.5,969.4 803.5,969.8 804.5,969.2 805.5,969.3 806.5,969.7 807.5,969.6 808.5,969.2 809.5,969.2 810.5,969.5 811.5,970.0 812.5,969.2 813.5,969.8 814.5,969.6 815.5,969.3 816.5,969.4 817.5,969.9 818.5,969.1 819.5,969.6 820.5,969.5 821.5,969.1 822.5,969.4 823.5,969.1 824.5,969.4 825.5,968.9 826.5,969.6 827.5,969.8 828.5,969.9 829.5,970.0 830.5,969.2 831.5,969.8 832.5,969.3 833.5,969.7 834.5,969.4 835.5,969.7 836.5,969.3 837.5,969.9 838.5,969.3 839.5,969.7 840.5,968.9 841.5,969.6 842.5,968.9 843.5,969.2 844.5,969.1 845.5,969.4 846.5,969.3 847.5,968.9 848.5,969.6 849.5,968.5 850.5,969.0 851.5,968.5 852.5,968.4 853.5,968.4 854.5,969.2 855.5,968.0 856.5,968.7 857.5,968.4 858.5,968.5 859.5,968.3 860.5,967.0 861.5,967.5 862.5,965.9 863.5,964.8 864.5,963.4 865.5,961.9 866.5,958.8 867.5,955.3 868.5,950.4 869.5,946.0 870.5,941.3 871.5,938.8 872.4,937.2 872.5,937.4 873.5,938.7 874.5,941.9 875.5,946.5 876.5,951.3 877.5,956.2 878.5,959.0 879.5,962.1 880.5,963.9 881.5,965.1 882.5,966.3 883.5,967.1 884.5,968.1 885.5,968.2 886.5,968.1 887.5,968.0 888.5,968.1 889.5,968.3 890.5,968.6 891.5,969.3 892.5,968.3 893.5,968.5 894.5,968.8 895.5,969.0 896.5,968.5 897.5,968.4 898.5,969.1 899.5,968.5 900.5,969.5 901.5,969.3 902.5,969.1 903.5,969.8 904.5,969.2 905.5,969.7 906.5,968.9 907.5,968.7 908.5,969.1 909.5,969.2 910.5,969.4 911.5,968.8 912.5,969.5 913.5,969.0 914.5,969.7 915.5,969.6 916.5,969.5 917.5,968.7 918.5,968.7 919.5,968.6 920.5,969.1 921.5,968.4 922.5,968.5 923.5,968.4 924.5,969.5 925.5,968.9 926.5,968.6 927.5,968.4 928.5,968.5 929.5,968.3 930.5,969.1 931.5,969.2 932.5,969.0 933.5,968.0 934.5,968.6 935.5,968.8 936.5,968.2 937.5,968.6 938.5,967.5 939.5,968.0 940.5,968.1 941.5,967.6 942.5,967.0 943.5,967.8 944.5,967.3 945.5,966.3 946.5,966.4 947.5,965.2 948.5,965.1 949.5,964.4 950.5,963.1 951.5,961.2 952.5,958.9 953.5,953.9 954.5,945.8 955.5,933.7 956.5,916.2 957.5,895.6 958.5,875.0 959.4,868.6 959.5,868.2 960.5,878.3 961.5,900.1 962.5,921.0 963.5,936.4 964.5,948.0 965.5,954.5 966.5,958.4 967.5,960.7 968.5,963.2 969.5,963.4 970.5,964.2 971.5,964.7 972.5,965.2 973.5,966.4 974.5,965.7 975.5,965.9 976.5,965.8 977.5,966.7 978.5,966.0 979.5,966.9 980.5,967.0 981.5,966.2 982.5,966.3 983.5,966.6 984.5,966.0 985.5,965.6 986.5,966.0 987.5,965.8 988.5,964.4 989.5,964.7 990.5,963.1 991.5,963.3 992.5,961.7 993.5,961.2 994.5,958.5 995.5,956.4 996.5,953.2 997.5,948.0 998.5,939.9 999.5,926.2 1000.5,907.3 1001.5,882.6 1002.5,853.0 1003.5,825.6 1004.5,808.5 1004.8,807.1 1005.5,812.7 1006.5,835.5 1007.5,865.6 1008.5,893.5 1009.5,916.4 1010.5,932.2 1011.5,943.8 1012.5,951.1 1013.5,955.4 1014.5,957.5 1015.5,960.0 1016.5,961.9 1017.5,962.1 1018.5,964.1 1019.5,963.9 1020.5,964.5 1021.5,964.9 1022.5,966.3 1023.5,965.7 1024.5,966.6 1025.5,967.0 1026.5,967.1 1027.5,967.9 1028.5,967.6 1029.5,967.1 1030.5,967.7 1031.5,967.6 1032.5,968.6 1033.5,967.9 1034.5,968.6 1035.5,968.4 1036.5,968.4 1037.5,968.6 1038.5,968.4 1039.5,968.9 1040.5,968.9 1041.5,969.2 1042.5,969.2 1043.5,968.4 1044.5,969.3 1045.5,968.8 1046.5,969.6 1047.5,969.1 1048.5,968.7 1049.5,969.1 1050.5,969.2 1051.5,969.2 1052.5,969.0 1053.5,969.3 1054.5,969.3 1055.5,969.6 1056.5,969.1 1057.5,969.2 1058.5,968.7 1059.5,969.6 1060.5,968.8 1061.5,969.8 1062.5,969.4 1063.5,969.4 1064.5,969.2 1065.5,969.4 1066.5,968.9 1067.5,969.0 1068.5,969.5 1069.5,969.2 1070.5,969.4 1071.5,969.4 1072.5,970.0 1073.5,969.6 1074.5,968.9 1075.5,969.7 1076.5,969.3 1077.5,969.1 1078.5,969.3 1079.5,970.0 1080.5,969.8 1081.5,969.5 1082.5,969.9 1083.5,969.5 1084.5,969.1 1085.5,969.8 1086.5,970.0 1087.5,969.7 1088.5,969.3 1089.5,969.7 1090.5,969.3 1091.5,969.4 1092.5,969.2 1093.5,970.3 1094.5,970.0 1095.5,969.7 1096.5,969.9 1097.5,969.9 1098.5,969.7 1099.5,969.4 1100.5,969.7 1101.5,969.8 1102.5,969.6 1103.5,969.4 1104.5,969.8 1105.5,969.9 1106.5,969.4 1107.5,969.3 1108.5,970.0 1109.5,970.3 1110.5,970.0 1111.5,970.1 1112.5,970.0 1113.5,969.6 1114.5,969.8 1115.5,969.7 1116.5,970.3 1117.5,969.2 1118.5,970.3 1119.5,969.3 1120.5,969.5 1121.5,969.8 1122.5,970.2 1123.5,970.2 1124.5,970.0 1125.5,969.9 1126.5,970.0 1127.5,969.5 1128.5,969.2 1129.5,969.8 1130.5,969.4 1131.5,969.7 1132.5,970.0 1133.5,970.3 1134.5,969.3 1135.5,970.2 1136.5,969.4 1137.5,969.7 1138.5,970.1 1139.5,969.9 1140.5,969.6 1141.5,970.2 1142.5,969.3 1143.5,970.1 1144.5,970.3 1145.5,970.1 1146.5,969.3 1147.5,969.6 1148.5,969.2 1149.5,969.5 1150.5,969.6 1151.5,969.3 1152.5,969.7 1153.5,970.1 1154.5,969.9 1155.5,969.5 1156.5,969.3 1157.5,969.3 1158.5,970.1 1159.5,969.4 1160.5,969.8 1161.5,969.4 1162.5,970.0 1163.5,969.2 1164.5,969.7 1165.5,969.7 1166.5,969.7 1167.5,969.4 1168.5,969.9 1169.5,970.3 1170.5,969.4 1171.5,969.2 1172.5,969.5 1173.5,969.5 1174.5,970.2 1175.5,969.2 1176.5,969.2 1177.5,969.8 1178.5,969.7 1179.5,969.4 1180.5,970.0 1181.5,969.6 1182.5,970.3 1183.5,969.4 1184.5,969.8 1185.5,969.3 1186.5,969.3 1187.5,970.3 1188.5,970.2 1189.5,970.0 1190.5,969.7 1191.5,969.9 1192.5,969.4 1193.5,969.4 1194.5,969.4 1195.5,969.5 1196.5,969.6 1197.5,969.7 1198.5,969.5 1199.5,969.6 1200.5,970.1 1201.5,970.1 1202.5,969.4 1203.5,969.8 1204.5,969.3 1205.5,969.9 1206.5,969.9 1207.5,969.4 1208.5,970.1 1209.5,969.9 1210.5,970.3 1211.5,969.5 1212.5,969.3 1213.5,970.1 1214.5,970.0 1215.5,969.4 1216.5,969.7 1217.5,969.3 1218.5,969.7 1219.5,970.3 1220.5,969.5 1221.5,969.6 1222.5,970.2 1223.5,970.3 1224.5,969.8 1225.5,969.8 1226.5,969.7 1227.5,970.0 1228.5,970.2 1229.5,970.2 1230.5,969.8 1231.5,969.7 1232.5,970.1 1233.5,969.9 1234.5,970.3 1235.5,969.2 1236.5,970.0 1237.5,970.1 1238.5,969.5 1239.5,969.1 1240.5,969.5 1241.5,970.3 1242.5,970.0 1243.5,969.5 1244.5,970.1 1245.5,969.2 1246.5,970.0 1247.5,969.8 1248.5,970.3 1249.5,969.5 1250.5,969.5 1251.5,969.5 1252.5,969.6 1253.5,969.7 1254.5,969.3 1255.5,969.6 1256.5,969.2 1257.5,969.9 1258.5,970.1 1259.5,969.5 1260.5,969.6 1261.5,970.3 1262.5,970.1 1263.5,969.9 1264.5,969.8 1265.5,970.3 1266.5,969.7 1267.5,969.8 1268.5,970.2 1269.5,969.5 1270.5,969.6 1271.5,969.9 1272.5,969.9 1273.5,969.9 1274.5,969.6 1275.5,969.4 1276.5,970.0 1277.5,969.9 1278.5,969.7 1279.5,969.4 1280.5,969.2 1281.5,969.7 1282.5,970.2 1283.5,970.1 1284.5,970.0 1285.5,969.6 1286.5,970.1 1287.5,970.1 1288.5,969.4 1289.5,969.7 1290.5,969.5 1291.5,969.3 1292.5,969.6 1293.5,969.3 1294.5,970.2 1295.5,970.2 1296.5,969.3 1297.5,969.2 1298.5,969.2 1299.5,970.1 1300.5,969.4 1301.5,970.0 1302.5,970.2 1303.5,969.4 1304.5,970.0 1305.5,969.1 1306.5,969.0 1307.5,969.7 1308.5,969.3 1309.5,969.1 1310.5,969.5 1311.5,969.8 1312.5,969.3 1313.5,969.4 1314.5,969.7 1315.5,968.8 1316.5,969.3 1317.5,968.7 1318.5,968.8 1319.5,968.7 1320.5,968.7 1321.5,969.5 1322.5,968.3 1323.5,968.8 1324.5,968.2 1325.5,968.0 1326.5,968.9 1327.5,968.2 1328.5,968.3 1329.5,967.6 1330.5,966.9 1331.5,966.2 1332.5,963.9 1333.5,962.3 1334.5,960.3 1335.5,957.4 1336.5,952.7 1337.5,948.8 1338.5,945.4 1339.5,942.6 1340.3,942.0 1340.5,941.3 1341.5,943.1 1342.5,946.8 1343.5,950.9 1344.5,954.8 1345.5,958.6 1346.5,961.5 1347.5,962.9 1348.5,964.9 1349.5,965.8 1350.5,966.6 1351.5,967.9 1352.5,967.9 1353.5,968.7 1354.5,967.9 1355.5,968.6 1356.5,969.3 1357.5,968.7 1358.5,969.2 1359.5,969.5 1360.5,969.5 1361.5,969.0 1362.5,969.2 1363.5,969.6 1364.5,969.3 1365.5,969.3 1366.5,969.9 1367.5,969.1 1368.5,969.7 1369.5,969.3 1370.5,969.6 1371.5,969.8 1372.5,970.0 1373.5,969.9 1374.5,969.5 1375.5,969.6 1376.5,969.8 1377.5,969.9 1378.5,970.1 1379.5,969.0 1380.5,969.0 1381.5,970.2 1382.5,969.8 1383.5,969.1 1384.5,969.4 1385.5,969.2 1386.5,969.4 1387.5,969.2 1388.5,969.9 1389.5,969.2 1390.5,969.6 1391.5,969.1 1392.5,969.6 1393.5,969.4 1394.5,969.7 1395.5,969.4 1396.5,969.4 1397.5,969.5 1398.5,970.2 1399.5,970.3 1400.5,969.3 1401.5,970.0 1402.5,969.2 1403.5,969.5 1404.5,970.1 1405.5,970.0 1406.5,970.0 1407.5,969.7 1408.5,969.7 1409.5,969.2 1410.5,969.9 1411.5,969.9 1412.5,969.6 1413.5,969.3 1414.5,969.4 1415.5,970.1 1416.5,969.2 1417.5,969.9 1418.5,970.1 1419.5,970.0 1420.5,969.6 1421.5,970.0 1422.5,969.4 1423.5,969.5 1424.5,969.9 1425.5,969.3 1426.5,969.8 1427.5,970.0 1428.5,969.2 1429.5,969.2 1430.5,970.1 1431.5,970.1 1432.5,970.3 1433.5,969.3 1434.5,970.2 1435.5,969.8 1436.5,969.8 1437.5,969.4 1438.5,969.6 1439.5,969.4 1440.5,969.2 1441.5,970.0 1442.5,969.3 1443.5,969.3 1444.5,970.1 1445.5,970.2 1446.5,969.3 1447.5,969.7 1448.5,969.4 1449.5,969.6 1450.5,969.7 1451.5,969.5 1452.5,969.6 1453.5,969.7 1454.5,970.1 1455.5,969.4 1456.5,969.4 1457.5,969.8 1458.5,969.5 1459.5,969.5 1460.5,969.4 1461.5,970.2 1462.5,970.2 1463.5,969.3 1464.5,970.0 1465.5,969.7 1466.5,969.3 1467.5,969.3 1468.5,970.4 1469.5,969.3 1470.5,969.8 1471.5,970.0 1472.5,970.1 1473.5,970.0 1474.5,969.3 1475.5,969.7 1476.5,969.3 1477.5,970.1 1478.5,970.2 1479.5,969.5 1480.5,969.9 1481.5,969.5 1482.5,969.6 1483.5,969.4 1484.5,969.6 1485.5,969.4 1486.5,969.2 1487.5,969.7 1488.5,970.2 1489.5,970.0 1490.5,970.0 1491.5,969.8 1492.5,969.4 1493.5,969.5 1494.5,969.3 1495.5,969.9 1496.5,969.4 1497.5,970.0 1498.5,969.2 1499.5,970.1 1500.5,969.5 1501.5,969.4 1502.5,969.7 1503.5,969.5 1504.5,970.1 1505.5,970.0 1506.5,969.7 1507.5,969.8 1508.5,970.1 1509.5,970.0 1510.5,969.7 1511.5,969.9 1512.5,969.7 1513.5,970.0 1514.5,970.2 1515.5,970.1 1516.5,970.3 1517.5,969.2 1518.5,969.3 1519.5,969.3 1520.5,970.3 1521.5,969.6 1522.5,969.8 1523.5,969.7 1524.5,969.8 1525.5,970.0 1526.5,969.9 1527.5,969.4 1528.5,969.8 1529.5,970.2 1530.5,969.7 1531.5,969.7 1532.5,969.5 1533.5,969.7 1534.5,969.7 1535.5,969.4 1536.5,969.9 1537.5,969.3 1538.5,969.5 1539.5,969.2 1540.5,970.2 1541.5,969.7 1542.5,969.7 1543.5,970.2 1544.5,970.1 1545.5,969.5 1546.5,969.9 1547.5,969.5 1548.5,969.6 1549.5,969.3 1550.5,969.8 1551.5,970.0 1552.5,969.5 1553.5,969.6 1554.5,969.5 1555.5,970.0 1556.5,970.3 1557.5,970.2 1558.5,970.1 1559.5,970.1 1560.5,969.7 1561.5,969.5 1562.5,970.2 1563.5,970.3 1564.5,970.0 1565.5,969.5 1566.5,969.2 1567.5,969.9 1568.5,969.2 1569.5,970.2 1570.5,969.3 1571.5,969.5 1572.5,969.2 1573.5,970.0 1574.5,969.3 1575.5,969.3 1576.5,969.5 1577.5,969.2 1578.5,969.1 1579.5,970.1 1580.5,969.5 1581.5,969.3 1582.5,969.2 1583.5,969.8 1584.5,968.9 1585.5,969.4 1586.5,969.2 1587.5,969.2 1588.5,968.7 1589.5,969.0 1590.5,967.4 1591.5,967.4 1592.5,965.5 1593.5,964.0 1594.5,962.3 1595.5,960.7 1596.5,959.3 1597.5,957.9 1598.4,957.4 1598.5,957.4 1599.5,958.7 1600.5,960.1 1601.5,961.1 1602.5,963.5 1603.5,965.0 1604.5,966.6 1605.5,967.8 1606.5,968.2 1607.5,968.3 1608.5,968.9 1609.5,969.2 1610.5,968.8 1611.5,969.2 1612.5,969.0 1613.5,969.8 1614.5,969.3 1615.5,969.2 1616.5,969.4 1617.5,969.8 1618.5,969.9 1619.5,969.5 1620.5,969.5 1621.5,969.1 1622.5,969.7 1623.5,969.9 1624.5,969.8 1625.5,969.9 1626.5,969.8 1627.5,970.1 1628.5,970.2 1629.5,969.8 1630.5,970.2 1631.5,969.4 1632.5,969.4 1633.5,970.3 1634.5,969.6 1635.5,969.6 1636.5,969.3 1637.5,969.9 1638.5,970.1 1639.5,969.3 1640.5,969.5 1641.5,969.3 1642.5,969.7 1643.5,969.5 1644.5,969.9 1645.5,970.0 1646.5,969.7 1647.5,969.8 1648.5,970.4 1649.5,970.0 1650.5,969.3 1651.5,970.1 1652.5,969.8 1653.5,970.3 1654.5,969.4 1655.5,969.8 1656.5,970.4 1657.5,970.2 1658.5,970.2 1659.5,970.3 1660.5,970.3 1661.5,970.0 1662.5,969.3 1663.5,970.1 1664.5,969.8 1665.5,969.3 1666.5,969.4 1667.5,970.3 1668.5,969.2 1669.5,969.5 1670.5,970.2 1671.5,970.4 1672.5,969.5 1673.5,970.4 1674.5,970.0 1675.5,969.8 1676.5,969.8 1677.5,969.8 1678.5,969.9 1679.5,969.4 1680.5,970.2 1681.5,969.7 1682.5,969.7 1683.5,969.5 1684.5,969.5 1685.5,969.9 1686.5,970.3 1687.5,969.5 1688.5,970.1 1689.5,970.3 1690.5,969.9 1691.5,970.3 1692.5,970.3 1693.5,970.0 1694.5,970.2 1695.5,969.8 1696.5,969.4 1697.5,969.8 1698.5,969.8 1699.5,969.5 1700.5,969.5 1701.5,969.8 1702.5,970.4 1703.5,970.4 1704.5,969.4 1705.5,970.3 1706.5,969.6 1707.5,969.7 1708.5,970.3 1709.5,970.0 1710.5,970.3 1711.5,969.3 1712.5,969.8 1713.5,969.5 1714.5,970.1 1715.5,969.3 1716.5,969.7 1717.5,970.1 1718.5,970.0 1719.5,969.9 1720.5,970.4 1721.5,969.4 1722.5,969.9 1723.5,969.4 1724.5,969.5 1725.5,970.0 1726.5,969.9 1727.5,969.7 1728.5,969.3 1729.5,969.8 1730.5,969.9 1731.5,970.0 1732.5,970.0 1733.5,969.5 1734.5,969.9 1735.5,970.0 1736.5,969.6 1737.5,970.2 1738.5,969.4 1739.5,970.4 1740.5,970.3 1741.5,970.4 1742.5,969.2 1743.5,969.7 1744.5,969.3 1745.5,970.0 1746.5,969.9 1747.5,970.0 1748.5,970.0 1749.5,969.2 1750.5,970.2 1751.5,970.3 1752.5,969.9 1753.5,969.5 1754.5,970.3 1755.5,969.8 1756.5,970.2 1757.5,969.9 1758.5,970.3 1759.5,969.8 1760.5,969.4 1761.5,969.1 1762.5,969.2 1763.5,969.4 1764.5,969.4 1765.5,970.2 1766.5,969.2 1767.5,969.4 1768.5,969.7 1769.5,969.6 1770.5,969.5 1771.5,969.0 1772.5,969.1 1773.5,969.3 1774.5,969.9 1775.5,969.6 1776.5,969.8 1777.5,969.0 1778.5,969.9 1779.5,969.7 1780.5,969.2 1781.5,969.8 1782.5,969.1 1783.5,968.9 1784.5,969.3 1785.5,968.5 1786.5,969.0 1787.5,968.2 1788.5,969.0 1789.5,968.4 1790.5,968.4 1791.5,968.0 1792.5,967.2 1793.5,966.2 1794.5,964.3 1795.5,962.9 1796.5,959.9 1797.5,955.3 1798.5,949.7 1799.5,944.1 1800.5,938.9 1801.5,935.0 1802.2,934.3 1802.5,933.5 1803.5,937.1 1804.5,941.8 1805.5,947.7 1806.5,953.7 1807.5,957.9 1808.5,961.4 1809.5,964.1 1810.5,966.0 1811.5,967.2 1812.5,967.1 1813.5,967.8 1814.5,967.7 1815.5,968.1 1816.5,968.7 1817.5,968.7 1818.5,968.6 1819.5,969.2 1820.5,969.5 1821.5,968.9 1822.5,969.1 1823.5,969.4 1824.5,969.9 1825.5,969.5 1826.5,969.0 1827.5,969.3 1828.5,969.2 1829.5,969.4 1830.5,969.6 1831.5,969.4 1832.5,969.3 1833.5,969.2 1834.5,969.3 1835.5,969.6 1836.5,969.2 1837.5,969.3 1838.5,970.1 1839.5,969.3 1840.5,970.1 1841.5,969.8 1842.5,969.5 1843.5,969.6 1844.5,969.3 1845.5,970.1 1846.5,969.5 1847.5,969.8 1848.5,970.1 1849.5,969.9 1850.5,969.6 1851.5,970.0 1852.5,970.2 1853.5,969.8 1854.5,969.7 1855.5,969.9 1856.5,969.4 1857.5,970.1 1858.5,969.9 1859.5,969.4 1860.5,969.4 1861.5,970.2 1862.5,970.3 1863.5,969.7 1864.5,969.2 1865.5,970.4 1866.5,969.3 1867.5,970.4 1868.5,969.8 1869.5,970.3 1870.5,969.5 1871.5,969.9 1872.5,969.9 1873.5,970.3 1874.5,970.4 1875.5,969.4 1876.5,970.1 1877.5,969.3 1878.5,970.3 1879.5,970.4 1880.5,969.8 1881.5,969.8 1882.5,969.7 1883.5,969.9 1884.5,969.6 1885.5,969.6 1886.5,969.4 1887.5,970.1 1888.5,969.3 1889.5,969.4 1890.5,969.3 1891.5,969.9 1892.5,969.3 1893.5,969.4 1894.5,969.9 1895.5,970.2 1896.5,970.2 1897.5,970.2 1898.5,970.2 1899.5,970.3 1900.5,969.9 1901.5,970.0 1902.5,969.4 1903.5,969.3 1904.5,970.2 1905.5,969.8 1906.5,970.1 1907.5,970.2 1908.5,969.6 1909.5,970.1 1910.5,969.4 1911.5,970.4 1912.5,970.1 1913.5,969.3 1914.5,969.4 1915.5,970.0 1916.5,969.6 1917.5,970.1 1918.5,970.0 1919.5,970.3 1920.5,969.4 1921.5,969.2 1922.5,970.2 1923.5,969.9 1924.5,969.4 1925.5,969.4 1926.5,969.2 1927.5,969.8 1928.5,969.5 1929.5,969.3 1930.5,969.6 1931.5,969.6 1932.5,969.3 1933.5,969.0 1934.5,969.4 1935.5,968.7 1936.5,968.3 1937.5,967.5 1938.5,965.7 1939.5,965.5 1940.5,963.3 1941.5,962.0 1942.5,960.6 1943.5,959.6 1944.5,958.4 1945.3,958.0 1945.5,957.5 1946.5,958.1 1947.5,959.6 1948.5,961.1 1949.5,963.0 1950.5,964.5 1951.5,966.1 1952.5,966.9 1953.5,968.1 1954.5,968.6 1955.5,968.5 1956.5,969.1 1957.5,969.3 1958.5,969.5 1959.5,969.4 1960.5,969.0 1961.5,969.5 1962.5,969.1 1963.5,969.0 1964.5,969.7 1965.5,969.1 1966.5,969.7 1967.5,969.5 1968.5,969.0 1969.5,967.9 1970.5,967.3 1971.5,966.2 1972.5,966.2 1973.5,964.6 1974.5,962.8 1975.5,962.0 1976.5,961.4 1977.3,961.2 1977.5,961.1 1978.5,961.6 1979.5,961.9 1980.5,963.1 1981.5,964.5 1982.5,966.2 1983.5,966.9 1984.5,968.1 1985.5,968.9 1986.5,968.7 1987.5,969.2 1988.5,969.8 1989.5,969.1 1990.5,969.5 1991.5,970.0 1992.5,969.1 1993.5,969.7 1994.5,969.2 1995.5,969.8 1996.5,969.2 1997.5,969.7 1998.5,969.2 1999.5,969.9 2000.5,970.1 2001.5,969.5 2002.5,969.6 2003.5,969.8 2004.5,969.7 2005.5,969.5 2006.5,969.4 2007.5,969.7 2008.5,970.4 2009.5,969.6 2010.5,969.8 2011.5,969.5 2012.5,970.0 2013.5,970.2 2014.5,970.4 2015.5,969.5 2016.5,969.5 2017.5,969.5 2018.5,969.4 2019.5,970.1 2020.5,969.9 2021.5,970.4 2022.5,969.5 2023.5,969.7 2024.5,969.5 2025.5,969.8 2026.5,969.4 2027.5,969.7 2028.5,969.9 2029.5,969.3 2030.5,969.8 2031.5,969.6 2032.5,969.4 2033.5,969.7 2034.5,969.6 2035.5,970.4 2036.5,970.0 2037.5,970.4 2038.5,969.6 2039.5,969.3 2040.5,969.9 2041.5,970.0 2042.5,969.7 2043.5,969.5 2044.5,969.3 2045.5,970.1 2046.5,970.2 2047.5,969.4 2048.5,970.1 2049.5,970.4 2050.5,969.7 2051.5,970.5 2052.5,970.4 2053.5,970.3 2054.5,969.6 2055.5,969.4 2056.5,969.8 2057.5,969.4 2058.5,970.4 2059.5,969.9 2060.5,969.8 2061.5,969.9 2062.5,969.4 2063.5,970.3 2064.5,970.2 2065.5,969.4 2066.5,969.7 2067.5,970.3 2068.5,970.5 2069.5,970.4 2070.5,970.1 2071.5,969.8 2072.5,970.5 2073.5,969.8 2074.5,969.8 2075.5,969.4 2076.5,970.4 2077.5,969.8 2078.5,970.4 2079.5,970.3 2080.5,969.7 2081.5,970.0 2082.5,970.0 2083.5,969.5 2084.5,969.8 2085.5,969.6 2086.5,970.2 2087.5,969.6 2088.5,969.5 2089.5,970.3 2090.5,970.4 2091.5,970.2 2092.5,969.4 2093.5,969.4 2094.5,969.2 2095.5,969.4 2096.5,969.9 2097.5,969.5 2098.5,968.6 2099.5,968.6 2100.5,967.9 2101.5,966.0 2102.5,964.9 2103.5,965.1 2104.5,964.3 2105.0,964.5 2105.5,963.7 2106.5,964.9 2107.5,965.8 2108.5,966.5 2109.5,967.7 2110.5,967.7 2111.5,968.4 2112.5,969.3 2113.5,969.9 2114.5,969.2 2115.5,969.3 2116.5,970.0 2117.5,969.6 2118.5,970.2 2119.5,970.2 2120.5,969.5 2121.5,969.8 2122.5,969.4 2123.5,969.5 2124.5,969.6 2125.5,970.1 2126.5,969.3 2127.5,970.2 2128.5,969.5 2129.5,970.3 2130.5,970.0 2131.5,970.4 2132.5,970.5 2133.5,970.3 2134.5,970.1 2135.5,970.4 2136.5,969.8 2137.5,969.8 2138.5,970.0 2139.5,970.3 2140.5,969.7 2141.5,970.0 2142.5,969.9 2143.5,969.4 2144.5,970.1 2145.5,969.5 2146.5,970.2 2147.5,969.5 2148.5,970.3 2149.5,969.4 2150.5,969.5 2151.5,969.5 2152.5,970.2 2153.5,970.0 2154.5,969.6 2155.5,970.3 2156.5,969.6 2157.5,969.8 2158.5,970.1 2159.5,969.8 2160.5,970.1 2161.5,970.1 2162.5,970.4 2163.5,969.5 2164.5,969.9 2165.5,969.9 2166.5,970.5 2167.5,969.8 2168.5,969.4 2169.5,969.6 2170.5,969.5 2171.5,970.4 2172.5,970.4 2173.5,970.3 2174.5,969.8 2175.5,969.8 2176.5,969.7 2177.5,970.4 2178.5,969.8 2179.5,970.5 2180.5,969.5 2181.5,969.9 2182.5,970.3 2183.5,970.0 2184.5,969.9 2185.5,969.4 2186.5,970.0 2187.5,970.2 2188.5,969.9 2189.5,969.8 2190.5,970.0 2191.5,970.5 2192.5,969.5 2193.5,970.6 2194.5,969.6 2195.5,970.5 2196.5,969.8 2197.5,969.9 2198.5,970.5 2199.5,970.1 2200.5,969.5 2201.5,970.3 2202.5,969.6 2203.5,969.4 2204.5,969.8 2205.5,969.7 2206.5,970.4 2207.5,970.2 2208.5,970.6 2209.5,969.9 2210.5,970.5 2211.5,970.1 2212.5,969.4 2213.5,969.5 2214.5,970.4 2215.5,970.5 2216.5,969.4 2217.5,969.5 2218.5,970.3 2219.5,970.0 2220.5,969.7 2221.5,969.4 2222.5,970.1 2223.5,970.0 2224.5,970.1 2225.5,969.6 2226.5,970.6 2227.5,970.2 2228.5,969.4 2229.5,969.7 2230.5,969.6 2231.5,969.4 2232.5,970.0 2233.5,970.3 2234.5,969.9 2235.5,969.9 2236.5,969.9 2237.5,970.5 2238.5,969.8 2239.5,970.0 2240.5,970.2 2241.5,969.9 2242.5,970.4 2243.5,969.9 2244.5,970.2 2245.5,969.6 2246.5,969.8 2247.5,970.3 2248.5,970.5 2249.5,970.4 2250.5,969.4 2251.5,970.1 2252.5,969.8 2253.5,969.5 2254.5,970.1 2255.5,970.3 2256.5,970.0 2257.5,969.8 2258.5,970.1 2259.5,969.6 2260.5,969.7 2261.5,970.3 2262.5,970.4 2263.5,969.8 2264.5,970.3 2265.5,969.8 2266.5,969.7 2267.5,969.8 2268.5,969.9 2269.5,970.5 2270.5,970.0 2271.5,969.9 2272.5,969.4 2273.5,969.6 2274.5,969.5 2275.5,970.2 2276.5,970.5 2277.5,969.9 2278.5,970.4 2279.5,970.1 2280.5,970.0 2281.5,970.3 2282.5,969.9 2283.5,969.7 2284.5,970.1 2285.5,969.4 2286.5,970.0 2287.5,970.4 2288.5,969.4 2289.5,970.1 2290.5,969.7 2291.5,969.6 2292.5,970.4 2293.5,969.7 2294.5,970.2 2295.5,970.0 2296.5,970.2 2297.5,970.1 2298.5,969.6 2299.5,969.4 2300.5,970.5 2301.5,969.6 2302.5,970.1 2303.5,970.0 2304.5,970.5 2305.5,969.6 2306.5,970.3 2307.5,970.5 2308.5,970.5"/>
<path stroke="#555555" d="M221.5,1170.1 222.5,1168.9 223.5,1169.8 224.5,1169.1 225.5,1170.1 226.5,1168.9 227.5,1170.0 228.5,1169.7 229.5,1169.9 230.5,1170.1 231.5,1169.2 232.5,1169.3 233.5,1169.8 234.5,1169.3 235.5,1169.2 236.5,1169.2 237.5,1170.0 238.5,1170.0 239.5,1169.9 240.5,1169.2 241.5,1170.0 242.5,1169.6 243.5,1169.2 244.5,1169.5 245.5,1169.4 246.5,1169.0 247.5,1169.6 248.5,1169.4 249.5,1169.6 250.5,1170.1 251.5,1169.7 252.5,1169.4 253.5,1170.0 254.5,1170.2 255.5,1169.6 256.5,1170.1 257.5,1169.0 258.5,1169.1 259.5,1169.2 260.5,1170.1 261.5,1169.8 262.5,1169.8 263.5,1169.3 264.5,1169.6 265.5,1170.0 266.5,1169.1 267.5,1169.1 268.5,1169.0 269.5,1169.6 270.5,1170.0 271.5,1169.7 272.5,1169.5 273.5,1169.6 274.5,1169.2 275.5,1170.1 276.5,1169.4 277.5,1169.3 278.5,1169.4 279.5,1170.0 280.5,1169.4 281.5,1170.1 282.5,1169.4 283.5,1169.5 284.5,1169.1 285.5,1170.1 286.5,1170.0 287.5,1169.6 288.5,1169.2 289.5,1169.6 290.5,1169.5 291.5,1170.0 292.5,1170.1 293.5,1169.9 294.5,1169.4 295.5,1169.1 296.5,1170.1 297.5,1170.2 298.5,1169.2 299.5,1169.6 300.5,1169.6 301.5,1170.2 302.5,1169.1 303.5,1169.1 304.5,1170.1 305.5,1169.7 306.5,1169.6 307.5,1170.0 308.5,1169.8 309.5,1169.9 310.5,1169.4 311.5,1169.2 312.5,1169.1 313.5,1169.5 314.5,1169.9 315.5,1169.5 316.5,1169.5 317.5,1169.8 318.5,1169.9 319.5,1169.8 320.5,1169.5 321.5,1170.1 322.5,1170.1 323.5,1170.2 324.5,1170.2 325.5,1169.1 326.5,1169.9 327.5,1169.5 328.5,1169.6 329.5,1169.7 330.5,1169.3 331.5,1169.4 332.5,1170.3 333.5,1169.5 334.5,1170.2 335.5,1169.9 336.5,1169.5 337.5,1169.5 338.5,1169.9 339.5,1170.0 340.5,1169.5 341.5,1169.2 342.5,1169.3 343.5,1170.2 344.5,1170.0 345.5,1169.3 346.5,1170.1 347.5,1169.8 348.5,1169.5 349.5,1170.2 350.5,1169.3 351.5,1169.3 352.5,1169.6 353.5,1170.0 354.5,1169.8 355.5,1169.7 356.5,1170.2 357.5,1169.6 358.5,1170.1 359.5,1169.2 360.5,1170.1 361.5,1169.4 362.5,1170.0 363.5,1170.2 364.5,1170.0 365.5,1169.9 366.5,1169.8 367.5,1170.1 368.5,1169.6 369.5,1169.5 370.5,1169.9 371.5,1169.8 372.5,1169.3 373.5,1169.8 374.5,1169.8 375.5,1169.4 376.5,1170.0 377.5,1170.1 378.5,1169.6 379.5,1170.2 380.5,1170.4 381.5,1170.0 382.5,1169.7 383.5,1169.5 384.5,1169.4 385.5,1169.5 386.5,1170.4 387.5,1169.3 388.5,1170.3 389.5,1170.1 390.5,1170.2 391.5,1169.3 392.5,1170.0 393.5,1169.5 394.5,1170.0 395.5,1170.2 396.5,1170.1 397.5,1169.9 398.5,1170.3 399.5,1169.5 400.5,1169.4 401.5,1170.3 402.5,1169.3 403.5,1169.8 404.5,1169.8 405.5,1170.3 406.5,1169.7 407.5,1169.9 408.5,1169.9 409.5,1169.8 410.5,1169.8 411.5,1169.8 412.5,1170.0 413.5,1169.8 414.5,1169.8 415.5,1170.4 416.5,1170.4 417.5,1169.6 418.5,1170.4 419.5,1169.3 420.5,1169.7 421.5,1170.4 422.5,1169.5 423.5,1170.1 424.5,1170.5 425.5,1170.0 426.5,1169.8 427.5,1169.3 428.5,1169.8 429.5,1169.9 430.5,1170.2 431.5,1169.8 432.5,1170.3 433.5,1169.8 434.5,1170.1 435.5,1170.2 436.5,1169.5 437.5,1170.5 438.5,1169.9 439.5,1169.9 440.5,1170.5 441.5,1170.0 442.5,1169.9 443.5,1169.6 444.5,1169.6 445.5,1170.2 446.5,1169.9 447.5,1170.1 448.5,1170.2 449.5,1170.2 450.5,1169.7 451.5,1170.4 452.5,1169.9 453.5,1169.6 454.5,1170.4 455.5,1170.4 456.5,1169.5 457.5,1170.4 458.5,1170.2 459.5,1169.7 460.5,1170.0 461.5,1170.5 462.5,1169.5 463.5,1170.2 464.5,1169.7 465.5,1169.5 466.5,1170.5 467.5,1170.6 468.5,1170.2 469.5,1170.3 470.5,1169.9 471.5,1169.9 472.5,1170.1 473.5,1170.4 474.5,1170.2 475.5,1170.0 476.5,1170.1 477.5,1169.9 478.5,1170.4 479.5,1170.4 480.5,1170.3 481.5,1169.8 482.5,1169.9 483.5,1170.6 484.5,1169.9 485.5,1170.2 486.5,1169.5 487.5,1169.6 488.5,1169.7 489.5,1170.2 490.5,1169.7 491.5,1170.2 492.5,1169.5 493.5,1170.3 494.5,1170.3 495.5,1169.7 496.5,1169.7 497.5,1169.7 498.5,1170.0 499.5,1169.7 500.5,1169.7 501.5,1170.4 502.5,1170.6 503.5,1169.6 504.5,1170.1 505.5,1170.2 506.5,1170.6 507.5,1170.1 508.5,1170.1 509.5,1170.4 510.5,1170.4 511.5,1170.3 512.5,1170.2 513.5,1170.4 514.5,1169.5 515.5,1170.4 516.5,1169.7 517.5,1169.9 518.5,1169.9 519.5,1170.1 520.5,1170.2 521.5,1170.2 522.5,1169.9 523.5,1169.9 524.5,1170.3 525.5,1170.6 526.5,1169.9 527.5,1169.5 528.5,1170.5 529.5,1170.6 530.5,1170.5 531.5,1170.3 532.5,1170.0 533.5,1169.6 534.5,1170.6 535.5,1170.0 536.5,1169.7 537.5,1170.3 538.5,1169.6 539.5,1170.0 540.5,1170.2 541.5,1170.5 542.5,1169.9 543.5,1169.8 544.5,1169.9 545.5,1170.5 546.5,1169.6 547.5,1169.7 548.5,1169.9 549.5,1170.7 550.5,1170.6 551.5,1170.7 552.5,1169.6 553.5,1170.1 554.5,1169.7 555.5,1170.2 556.5,1170.5 557.5,1170.1 558.5,1170.4 559.5,1170.4 560.5,1170.2 561.5,1170.0 562.5,1169.8 563.5,1170.4 564.5,1170.7 565.5,1170.7 566.5,1170.7 567.5,1170.6 568.5,1170.4 569.5,1170.2 570.5,1169.7 571.5,1170.5 572.5,1169.8 573.5,1170.7 574.5,1170.6 575.5,1169.9 576.5,1170.7 577.5,1170.5 578.5,1170.6 579.5,1169.7 580.5,1169.9 581.5,1169.8 582.5,1170.7 583.5,1169.9 584.5,1170.1 585.5,1170.5 586.5,1170.1 587.5,1170.4 588.5,1170.4 589.5,1170.1 590.5,1170.7 591.5,1170.4 592.5,1170.5 593.5,1170.5 594.5,1170.4 595.5,1169.8 596.5,1170.7 597.5,1170.8 598.5,1169.7 599.5,1170.1 600.5,1169.9 601.5,1169.8 602.5,1170.3 603.5,1170.2 604.5,1169.8 605.5,1170.2 606.5,1170.5 607.5,1169.8 608.5,1170.4 609.5,1170.4 610.5,1170.6 611.5,1170.8 612.5,1170.7 613.5,1170.1 614.5,1169.8 615.5,1170.1 616.5,1169.9 617.5,1170.7 618.5,1170.1 619.5,1170.3 620.5,1170.5 621.5,1170.2 622.5,1170.9 623.5,1170.5 624.5,1170.4 625.5,1169.9 626.5,1170.0 627.5,1170.5 628.5,1170.2 629.5,1170.4 630.5,1170.7 631.5,1170.5 632.5,1170.7 633.5,1170.1 634.5,1169.8 635.5,1170.0 636.5,1170.8 637.5,1170.0 638.5,1169.8 639.5,1169.8 640.5,1170.9 641.5,1170.0 642.5,1169.8 643.5,1170.1 644.5,1169.8 645.5,1170.6 646.5,1170.5 647.5,1170.2 648.5,1170.6 649.5,1169.7 650.5,1170.7 651.5,1170.5 652.5,1170.6 653.5,1169.9 654.5,1170.9 655.5,1170.9 656.5,1170.3 657.5,1170.1 658.5,1170.4 659.5,1170.6 660.5,1170.3 661.5,1170.4 662.5,1170.9 663.5,1170.6 664.5,1170.2 665.5,1170.8 666.5,1170.7 667.5,1169.8 668.5,1170.3 669.5,1170.1 670.5,1170.1 671.5,1170.2 672.5,1170.8 673.5,1170.5 674.5,1170.1 675.5,1169.9 676.5,1170.0 677.5,1170.2 678.5,1170.4 679.5,1170.4 680.5,1170.3 681.5,1170.4 682.5,1170.2 683.5,1170.9 684.5,1170.1 685.5,1170.2 686.5,1170.6 687.5,1170.8 688.5,1170.3 689.5,1170.6 690.5,1170.1 691.5,1169.8 692.5,1171.0 693.5,1169.9 694.5,1170.7 695.5,1169.8 696.5,1170.2 697.5,1170.4 698.5,1170.9 699.5,1170.8 700.5,1170.2 701.5,1169.8 702.5,1170.7 703.5,1170.7 704.5,1170.9 705.5,1170.0 706.5,1170.6 707.5,1170.6 708.5,1170.9 709.5,1170.9 710.5,1170.8 711.5,1170.9 712.5,1169.9 713.5,1171.0 714.5,1170.6 715.5,1170.9 716.5,1170.0 717.5,1170.5 718.5,1170.9 719.5,1171.0 720.5,1170.6 721.5,1170.9 722.5,1169.9 723.5,1170.0 724.5,1170.2 725.5,1170.9 726.5,1170.7 727.5,1170.4 728.5,1171.0 729.5,1170.5 730.5,1170.0 731.5,1171.0 732.5,1170.8 733.5,1171.1 734.5,1170.8 735.5,1170.5 736.5,1171.0 737.5,1170.0 738.5,1169.9 739.5,1170.2 740.5,1171.0 741.5,1170.0 742.5,1170.8 743.5,1170.5 744.5,1170.1 745.5,1170.2 746.5,1170.8 747.5,1170.4 748.5,1171.0 749.5,1170.0 750.5,1170.6 751.5,1170.9 752.5,1170.2 753.5,1170.3 754.5,1170.6 755.5,1170.1 756.5,1170.7 757.5,1171.0 758.5,1170.3 759.5,1170.1 760.5,1171.0 761.5,1170.0 762.5,1171.0 763.5,1170.4 764.5,1170.9 765.5,1170.4 766.5,1171.1 767.5,1170.7 768.5,1170.7 769.5,1170.0 770.5,1170.6 771.5,1170.2 772.5,1170.8 773.5,1170.3 774.5,1170.2 775.5,1170.1 776.5,1170.2 777.5,1170.1 778.5,1170.3 779.5,1170.6 780.5,1171.0 781.5,1170.9 782.5,1170.4 783.5,1171.1 784.5,1170.4 785.5,1170.5 786.5,1170.6 787.5,1170.7 788.5,1170.5 789.5,1170.7 790.5,1170.2 791.5,1170.2 792.5,1170.4 793.5,1170.5 794.5,1170.3 795.5,1170.6 796.5,1170.0 797.5,1170.5 798.5,1170.5 799.5,1170.7 800.5,1170.1 801.5,1170.7 802.5,1170.5 803.5,1171.1 804.5,1170.1 805.5,1170.4 806.5,1170.9 807.5,1171.1 808.5,1170.9 809.5,1171.0 810.5,1170.5 811.5,1170.2 812.5,1170.3 813.5,1170.7 814.5,1170.8 815.5,1170.5 816.5,1170.2 817.5,1171.0 818.5,1170.3 819.5,1170.2 820.5,1170.9 821.5,1170.9 822.5,1170.8 823.5,1170.9 824.5,1170.7 825.5,1170.7 826.5,1170.4 827.5,1170.1 828.5,1171.0 829.5,1170.0 830.5,1170.8 831.5,1170.3 832.5,1170.8 833.5,1171.0 834.5,1170.8 835.5,1169.9 836.5,1170.9 837.5,1170.1 838.5,1170.2 839.5,1171.0 840.5,1170.8 841.5,1170.0 842.5,1170.8 843.5,1170.1 844.5,1170.5 845.5,1170.7 846.5,1169.8 847.5,1169.9 848.5,1169.8 849.5,1169.8 850.5,1170.6 851.5,1169.5 852.5,1169.8 853.5,1170.4 854.5,1169.3 855.5,1169.7 856.5,1170.1 857.5,1170.0 858.5,1169.7 859.5,1168.6 860.5,1168.2 861.5,1168.6 862.5,1167.6 863.5,1166.5 864.5,1165.1 865.5,1162.8 866.5,1158.8 867.5,1155.3 868.5,1149.4 869.5,1144.9 870.5,1139.9 871.5,1138.2 872.5,1140.5 873.5,1144.8 874.5,1149.8 875.5,1154.2 876.5,1159.6 877.5,1163.0 878.5,1165.4 879.5,1166.8 880.5,1167.1 881.5,1168.3 882.5,1168.4 883.5,1168.8 884.5,1169.4 885.5,1170.0 886.5,1169.7 887.5,1170.2 888.5,1169.5 889.5,1169.3 890.5,1170.2 891.5,1170.4 892.5,1170.0 893.5,1169.7 894.5,1170.2 895.5,1169.8 896.5,1170.0 897.5,1170.3 898.5,1170.4 899.5,1170.5 900.5,1169.7 901.5,1170.1 902.5,1170.2 903.5,1170.0 904.5,1169.7 905.5,1169.9 906.5,1170.1 907.5,1170.4 908.5,1170.8 909.5,1169.8 910.5,1170.3 911.5,1169.8 912.5,1169.7 913.5,1169.9 914.5,1170.1 915.5,1170.5 916.5,1169.9 917.5,1170.6 918.5,1170.4 919.5,1169.9 920.5,1170.3 921.5,1169.5 922.5,1169.2 923.5,1169.7 924.5,1169.8 925.5,1169.8 926.5,1169.0 927.5,1168.9 928.5,1169.6 929.5,1169.8 930.5,1169.2 931.5,1169.4 932.5,1168.6 933.5,1168.4 934.5,1168.7 935.5,1169.1 936.5,1167.9 937.5,1168.2 938.5,1168.1 939.5,1167.0 940.5,1167.6 941.5,1166.5 942.5,1166.7 943.5,1165.9 944.5,1164.5 945.5,1163.8 946.5,1163.0 947.5,1161.1 948.5,1160.1 949.5,1157.1 950.5,1152.7 951.5,1146.2 952.5,1135.6 953.5,1116.8 954.5,1088.9 955.5,1051.1 956.5,1010.3 957.5,982.0 957.9,979.3 958.5,985.4 959.5,1017.8 960.5,1060.0 961.5,1095.7 962.5,1120.5 963.5,1138.3 964.5,1147.7 965.5,1153.9 966.5,1157.4 967.5,1159.3 968.5,1161.4 969.5,1162.7 970.5,1163.9 971.5,1164.6 972.5,1165.0 973.5,1165.7 974.5,1165.6 975.5,1166.6 976.5,1166.7 977.5,1166.4 978.5,1166.8 979.5,1167.0 980.5,1167.0 981.5,1166.6 982.5,1166.9 983.5,1166.9 984.5,1167.2 985.5,1166.8 986.5,1166.5 987.5,1165.6 988.5,1165.3 989.5,1164.5 990.5,1164.2 991.5,1163.5 992.5,1162.3 993.5,1160.9 994.5,1158.3 995.5,1154.9 996.5,1148.9 997.5,1139.9 998.5,1126.9 999.5,1108.4 1000.5,1084.2 1001.5,1057.1 1002.5,1032.8 1003.5,1024.1 1004.5,1033.3 1005.5,1057.0 1006.5,1084.8 1007.5,1108.4 1008.5,1127.6 1009.5,1140.1 1010.5,1149.4 1011.5,1154.4 1012.5,1158.5 1013.5,1161.2 1014.5,1162.2 1015.5,1164.0 1016.5,1165.0 1017.5,1165.4 1018.5,1165.8 1019.5,1167.0 1020.5,1167.6 1021.5,1168.1 1022.5,1168.5 1023.5,1168.6 1024.5,1168.3 1025.5,1168.9 1026.5,1169.2 1027.5,1168.9 1028.5,1169.6 1029.5,1168.8 1030.5,1169.9 1031.5,1169.9 1032.5,1169.5 1033.5,1169.4 1034.5,1170.2 1035.5,1169.5 1036.5,1169.8 1037.5,1170.6 1038.5,1170.5 1039.5,1170.1 1040.5,1170.2 1041.5,1170.1 1042.5,1170.7 1043.5,1170.5 1044.5,1170.6 1045.5,1170.1 1046.5,1171.0 1047.5,1170.2 1048.5,1170.8 1049.5,1171.2 1050.5,1171.1 1051.5,1170.1 1052.5,1170.7 1053.5,1170.9 1054.5,1170.6 1055.5,1170.4 1056.5,1170.4 1057.5,1170.6 1058.5,1170.9 1059.5,1170.8 1060.5,1171.2 1061.5,1170.5 1062.5,1171.0 1063.5,1171.4 1064.5,1170.6 1065.5,1170.7 1066.5,1170.6 1067.5,1170.3 1068.5,1170.5 1069.5,1171.2 1070.5,1170.7 1071.5,1170.6 1072.5,1171.3 1073.5,1170.3 1074.5,1170.7 1075.5,1170.5 1076.5,1170.8 1077.5,1170.5 1078.5,1171.2 1079.5,1170.7 1080.5,1171.2 1081.5,1170.5 1082.5,1171.4 1083.5,1170.5 1084.5,1171.3 1085.5,1170.6 1086.5,1170.9 1087.5,1171.3 1088.5,1170.7 1089.5,1171.2 1090.5,1171.3 1091.5,1171.1 1092.5,1171.5 1093.5,1171.2 1094.5,1170.6 1095.5,1171.5 1096.5,1171.7 1097.5,1170.8 1098.5,1170.8 1099.5,1171.3 1100.5,1171.3 1101.5,1171.1 1102.5,1170.8 1103.5,1171.2 1104.5,1171.0 1105.5,1171.2 1106.5,1171.7 1107.5,1171.1 1108.5,1171.8 1109.5,1171.7 1110.5,1170.9 1111.5,1171.2 1112.5,1170.8 1113.5,1170.8 1114.5,1171.3 1115.5,1170.7 1116.5,1171.5 1117.5,1171.5 1118.5,1171.8 1119.5,1171.5 1120.5,1171.6 1121.5,1171.0 1122.5,1171.8 1123.5,1170.9 1124.5,1171.7 1125.5,1171.7 1126.5,1171.5 1127.5,1171.6 1128.5,1170.9 1129.5,1171.6 1130.5,1170.9 1131.5,1170.9 1132.5,1170.8 1133.5,1171.6 1134.5,1171.6 1135.5,1171.2 1136.5,1170.7 1137.5,1170.8 1138.5,1171.6 1139.5,1171.4 1140.5,1171.0 1141.5,1171.8 1142.5,1171.3 1143.5,1170.7 1144.5,1171.9 1145.5,1171.1 1146.5,1171.2 1147.5,1171.7 1148.5,1171.8 1149.5,1171.0 1150.5,1171.7 1151.5,1171.0 1152.5,1170.7 1153.5,1170.8 1154.5,1170.9 1155.5,1171.4 1156.5,1171.0 1157.5,1171.7 1158.5,1171.2 1159.5,1170.8 1160.5,1171.3 1161.5,1170.8 1162.5,1170.7 1163.5,1171.8 1164.5,1170.8 1165.5,1170.8 1166.5,1171.0 1167.5,1170.9 1168.5,1171.2 1169.5,1171.5 1170.5,1171.2 1171.5,1171.4 1172.5,1170.8 1173.5,1170.9 1174.5,1171.0 1175.5,1171.5 1176.5,1171.6 1177.5,1171.9 1178.5,1171.3 1179.5,1171.0 1180.5,1171.2 1181.5,1171.2 1182.5,1171.8 1183.5,1171.6 1184.5,1171.3 1185.5,1171.3 1186.5,1171.6 1187.5,1171.6 1188.5,1171.9 1189.5,1171.4 1190.5,1171.7 1191.5,1171.9 1192.5,1171.8 1193.5,1171.0 1194.5,1171.9 1195.5,1171.4 1196.5,1171.8 1197.5,1171.8 1198.5,1171.8 1199.5,1171.7 1200.5,1171.7 1201.5,1172.0 1202.5,1171.5 1203.5,1171.1 1204.5,1171.5 1205.5,1171.5 1206.5,1171.8 1207.5,1171.5 1208.5,1171.3 1209.5,1171.7 1210.5,1171.4 1211.5,1171.1 1212.5,1172.0 1213.5,1171.6 1214.5,1171.5 1215.5,1171.8 1216.5,1171.5 1217.5,1171.4 1218.5,1170.9 1219.5,1171.6 1220.5,1171.1 1221.5,1171.5 1222.5,1171.9 1223.5,1171.7 1224.5,1171.7 1225.5,1170.9 1226.5,1171.6 1227.5,1171.9 1228.5,1171.5 1229.5,1171.6 1230.5,1171.2 1231.5,1171.7 1232.5,1171.1 1233.5,1171.5 1234.5,1171.8 1235.5,1171.5 1236.5,1171.6 1237.5,1171.1 1238.5,1171.5 1239.5,1171.6 1240.5,1171.7 1241.5,1171.1 1242.5,1171.5 1243.5,1171.5 1244.5,1171.5 1245.5,1171.1 1246.5,1171.9 1247.5,1171.6 1248.5,1171.2 1249.5,1172.0 1250.5,1171.6 1251.5,1171.2 1252.5,1171.3 1253.5,1171.3 1254.5,1171.1 1255.5,1171.0 1256.5,1171.0 1257.5,1170.9 1258.5,1171.7 1259.5,1171.3 1260.5,1171.3 1261.5,1171.3 1262.5,1172.0 1263.5,1172.0 1264.5,1171.2 1265.5,1171.7 1266.5,1172.0 1267.5,1171.9 1268.5,1171.4 1269.5,1171.8 1270.5,1171.1 1271.5,1171.7 1272.5,1171.2 1273.5,1171.7 1274.5,1171.2 1275.5,1171.9 1276.5,1171.0 1277.5,1171.3 1278.5,1171.1 1279.5,1171.5 1280.5,1170.9 1281.5,1171.1 1282.5,1171.2 1283.5,1170.9 1284.5,1171.7 1285.5,1171.9 1286.5,1172.0 1287.5,1171.4 1288.5,1171.3 1289.5,1171.6 1290.5,1171.3 1291.5,1170.9 1292.5,1171.3 1293.5,1171.8 1294.5,1171.2 1295.5,1171.2 1296.5,1171.3 1297.5,1171.8 1298.5,1171.3 1299.5,1171.2 1300.5,1171.1 1301.5,1171.0 1302.5,1171.9 1303.5,1171.9 1304.5,1171.8 1305.5,1171.5 1306.5,1171.2 1307.5,1171.5 1308.5,1171.4 1309.5,1171.1 1310.5,1171.6 1311.5,1171.8 1312.5,1171.5 1313.5,1171.1 1314.5,1171.8 1315.5,1171.7 1316.5,1171.4 1317.5,1170.9 1318.5,1170.8 1319.5,1171.5 1320.5,1170.8 1321.5,1170.5 1322.5,1170.6 1323.5,1171.2 1324.5,1171.1 1325.5,1171.0 1326.5,1170.8 1327.5,1170.4 1328.5,1169.9 1329.5,1169.6 1330.5,1168.5 1331.5,1167.7 1332.5,1165.0 1333.5,1162.1 1334.5,1159.6 1335.5,1155.5 1336.5,1151.9 1337.5,1148.2 1338.5,1147.1 1339.5,1147.9 1340.5,1151.4 1341.5,1155.1 1342.5,1158.8 1343.5,1162.2 1344.5,1165.5 1345.5,1167.6 1346.5,1167.9 1347.5,1169.6 1348.5,1169.9 1349.5,1170.1 1350.5,1169.9 1351.5,1171.2 1352.5,1170.9 1353.5,1170.4 1354.5,1170.9 1355.5,1170.8 1356.5,1170.9 1357.5,1170.7 1358.5,1171.8 1359.5,1171.2 1360.5,1170.8 1361.5,1171.0 1362.5,1171.2 1363.5,1172.0 1364.5,1171.5 1365.5,1171.3 1366.5,1171.9 1367.5,1170.9 1368.5,1171.7 1369.5,1171.0 1370.5,1171.6 1371.5,1171.7 1372.5,1171.8 1373.5,1171.7 1374.5,1171.5 1375.5,1172.2 1376.5,1172.0 1377.5,1171.1 1378.5,1171.0 1379.5,1171.1 1380.5,1171.5 1381.5,1171.2 1382.5,1171.4 1383.5,1171.1 1384.5,1171.4 1385.5,1171.3 1386.5,1171.3 1387.5,1172.1 1388.5,1171.9 1389.5,1172.1 1390.5,1171.6 1391.5,1171.3 1392.5,1171.3 1393.5,1171.9 1394.5,1171.4 1395.5,1171.2 1396.5,1171.6 1397.5,1171.5 1398.5,1171.4 1399.5,1171.6 1400.5,1172.0 1401.5,1171.9 1402.5,1171.4 1403.5,1171.6 1404.5,1172.3 1405.5,1172.3 1406.5,1171.5 1407.5,1171.4 1408.5,1171.4 1409.5,1171.6 1410.5,1172.2 1411.5,1171.3 1412.5,1171.8 1413.5,1172.0 1414.5,1171.2 1415.5,1172.0 1416.5,1171.3 1417.5,1171.5 1418.5,1171.7 1419.5,1171.6 1420.5,1171.5 1421.5,1171.4 1422.5,1171.6 1423.5,1172.2 1424.5,1172.2 1425.5,1171.6 1426.5,1171.3 1427.5,1172.0 1428.5,1171.8 1429.5,1172.1 1430.5,1171.8 1431.5,1171.6 1432.5,1171.3 1433.5,1171.7 1434.5,1171.4 1435.5,1171.4 1436.5,1171.6 1437.5,1171.8 1438.5,1171.7 1439.5,1171.7 1440.5,1171.3 1441.5,1171.4 1442.5,1171.4 1443.5,1171.5 1444.5,1171.7 1445.5,1171.8 1446.5,1172.1 1447.5,1171.3 1448.5,1171.5 1449.5,1172.4 1450.5,1172.0 1451.5,1171.5 1452.5,1172.3 1453.5,1172.2 1454.5,1172.0 1455.5,1172.5 1456.5,1171.7 1457.5,1171.9 1458.5,1171.6 1459.5,1172.3 1460.5,1171.5 1461.5,1172.0 1462.5,1172.2 1463.5,1172.5 1464.5,1172.0 1465.5,1171.7 1466.5,1171.6 1467.5,1171.8 1468.5,1171.4 1469.5,1172.4 1470.5,1171.5 1471.5,1172.4 1472.5,1171.8 1473.5,1171.4 1474.5,1172.4 1475.5,1172.5 1476.5,1171.4 1477.5,1172.4 1478.5,1171.5 1479.5,1172.0 1480.5,1171.8 1481.5,1171.5 1482.5,1171.6 1483.5,1172.3 1484.5,1172.0 1485.5,1171.9 1486.5,1171.5 1487.5,1172.2 1488.5,1171.9 1489.5,1172.1 1490.5,1172.1 1491.5,1172.5 1492.5,1172.1 1493.5,1172.1 1494.5,1171.7 1495.5,1171.5 1496.5,1172.5 1497.5,1171.7 1498.5,1172.4 1499.5,1172.2 1500.5,1171.5 1501.5,1172.4 1502.5,1171.6 1503.5,1171.8 1504.5,1171.6 1505.5,1171.8 1506.5,1172.2 1507.5,1171.9 1508.5,1172.3 1509.5,1172.3 1510.5,1171.7 1511.5,1172.2 1512.5,1171.9 1513.5,1172.5 1514.5,1172.3 1515.5,1171.5 1516.5,1172.2 1517.5,1171.5 1518.5,1172.2 1519.5,1171.5 1520.5,1171.6 1521.5,1172.4 1522.5,1172.0 1523.5,1172.4 1524.5,1171.4 1525.5,1172.0 1526.5,1171.5 1527.5,1172.3 1528.5,1171.9 1529.5,1171.7 1530.5,1171.9 1531.5,1171.5 1532.5,1172.1 1533.5,1172.3 1534.5,1172.4 1535.5,1172.1 1536.5,1171.8 1537.5,1172.5 1538.5,1172.5 1539.5,1172.3 1540.5,1172.5 1541.5,1171.7 1542.5,1172.4 1543.5,1172.2 1544.5,1171.5 1545.5,1171.9 1546.5,1172.2 1547.5,1172.6 1548.5,1172.5 1549.5,1172.6 1550.5,1172.6 1551.5,1171.7 1552.5,1172.5 1553.5,1172.1 1554.5,1172.3 1555.5,1172.1 1556.5,1172.0 1557.5,1171.7 1558.5,1172.6 1559.5,1172.5 1560.5,1171.9 1561.5,1172.0 1562.5,1172.5 1563.5,1171.9 1564.5,1171.7 1565.5,1171.6 1566.5,1171.7 1567.5,1172.3 1568.5,1172.2 1569.5,1172.4 1570.5,1172.0 1571.5,1172.3 1572.5,1171.9 1573.5,1172.4 1574.5,1172.2 1575.5,1172.2 1576.5,1172.5 1577.5,1171.8 1578.5,1172.5 1579.5,1172.1 1580.5,1171.4 1581.5,1172.5 1582.5,1171.3 1583.5,1172.2 1584.5,1172.3 1585.5,1171.8 1586.5,1171.2 1587.5,1171.0 1588.5,1171.5 1589.5,1171.3 1590.5,1171.2 1591.5,1170.6 1592.5,1169.1 1593.5,1168.6 1594.5,1166.9 1595.5,1165.6 1596.5,1164.8 1597.5,1163.8 1598.0,1164.1 1598.5,1164.4 1599.5,1164.4 1600.5,1165.3 1601.5,1167.1 1602.5,1168.7 1603.5,1169.7 1604.5,1170.7 1605.5,1170.9 1606.5,1171.5 1607.5,1171.8 1608.5,1171.8 1609.5,1171.8 1610.5,1171.8 1611.5,1172.2 1612.5,1171.7 1613.5,1172.4 1614.5,1172.4 1615.5,1172.3 1616.5,1171.9 1617.5,1172.1 1618.5,1171.9 1619.5,1172.1 1620.5,1171.6 1621.5,1171.5 1622.5,1171.8 1623.5,1171.8 1624.5,1172.7 1625.5,1172.1 1626.5,1172.1 1627.5,1172.6 1628.5,1172.2 1629.5,1171.7 1630.5,1171.8 1631.5,1171.7 1632.5,1171.9 1633.5,1171.8 1634.5,1171.9 1635.5,1171.9 1636.5,1172.5 1637.5,1172.5 1638.5,1172.5 1639.5,1171.9 1640.5,1171.7 1641.5,1172.2 1642.5,1171.9 1643.5,1172.7 1644.5,1172.5 1645.5,1172.2 1646.5,1172.7 1647.5,1171.8 1648.5,1171.6 1649.5,1172.3 1650.5,1172.8 1651.5,1172.0 1652.5,1172.2 1653.5,1171.9 1654.5,1172.1 1655.5,1172.3 1656.5,1171.6 1657.5,1171.7 1658.5,1172.8 1659.5,1172.7 1660.5,1172.0 1661.5,1172.7 1662.5,1172.2 1663.5,1171.7 1664.5,1171.7 1665.5,1171.8 1666.5,1172.4 1667.5,1171.8 1668.5,1172.3 1669.5,1172.3 1670.5,1172.3 1671.5,1171.9 1672.5,1171.9 1673.5,1172.1 1674.5,1172.3 1675.5,1172.1 1676.5,1172.7 1677.5,1172.8 1678.5,1172.0 1679.5,1172.8 1680.5,1172.5 1681.5,1172.3 1682.5,1172.1 1683.5,1172.9 1684.5,1172.6 1685.5,1172.6 1686.5,1172.3 1687.5,1172.3 1688.5,1172.1 1689.5,1172.2 1690.5,1172.5 1691.5,1172.6 1692.5,1171.9 1693.5,1171.9 1694.5,1171.9 1695.5,1172.7 1696.5,1172.6 1697.5,1172.3 1698.5,1171.9 1699.5,1172.8 1700.5,1172.4 1701.5,1172.8 1702.5,1172.1 1703.5,1172.3 1704.5,1172.6 1705.5,1172.2 1706.5,1171.8 1707.5,1172.4 1708.5,1171.8 1709.5,1172.5 1710.5,1172.3 1711.5,1172.5 1712.5,1172.0 1713.5,1172.0 1714.5,1172.2 1715.5,1172.9 1716.5,1172.6 1717.5,1171.9 1718.5,1172.1 1719.5,1172.4 1720.5,1172.9 1721.5,1172.4 1722.5,1172.1 1723.5,1172.9 1724.5,1171.9 1725.5,1172.0 1726.5,1172.0 1727.5,1172.6 1728.5,1172.7 1729.5,1172.2 1730.5,1172.9 1731.5,1171.8 1732.5,1172.7 1733.5,1172.9 1734.5,1171.9 1735.5,1172.0 1736.5,1171.9 1737.5,1172.1 1738.5,1171.9 1739.5,1172.0 1740.5,1171.8 1741.5,1172.7 1742.5,1172.7 1743.5,1172.4 1744.5,1172.6 1745.5,1172.4 1746.5,1172.4 1747.5,1172.8 1748.5,1172.8 1749.5,1172.1 1750.5,1172.3 1751.5,1172.5 1752.5,1172.7 1753.5,1172.8 1754.5,1171.9 1755.5,1172.1 1756.5,1172.7 1757.5,1172.3 1758.5,1172.9 1759.5,1172.0 1760.5,1172.1 1761.5,1171.9 1762.5,1172.2 1763.5,1172.3 1764.5,1172.0 1765.5,1172.8 1766.5,1172.7 1767.5,1171.9 1768.5,1171.9 1769.5,1171.6 1770.5,1171.9 1771.5,1172.5 1772.5,1171.8 1773.5,1172.3 1774.5,1171.9 1775.5,1172.2 1776.5,1172.4 1777.5,1171.6 1778.5,1172.4 1779.5,1171.4 1780.5,1171.3 1781.5,1171.2 1782.5,1172.0 1783.5,1172.0 1784.5,1171.9 1785.5,1171.6 1786.5,1171.1 1787.5,1171.2 1788.5,1170.3 1789.5,1170.1 1790.5,1170.0 1791.5,1169.2 1792.5,1167.5 1793.5,1165.9 1794.5,1163.1 1795.5,1158.9 1796.5,1153.6 1797.5,1147.5 1798.5,1140.3 1799.5,1134.4 1800.5,1132.3 1800.8,1131.1 1801.5,1132.7 1802.5,1136.7 1803.5,1143.1 1804.5,1150.4 1805.5,1156.4 1806.5,1161.0 1807.5,1164.0 1808.5,1166.1 1809.5,1168.6 1810.5,1169.1 1811.5,1170.5 1812.5,1170.9 1813.5,1170.8 1814.5,1170.5 1815.5,1171.7 1816.5,1171.8 1817.5,1171.1 1818.5,1171.2 1819.5,1171.4 1820.5,1172.2 1821.5,1171.6 1822.5,1172.4 1823.5,1171.5 1824.5,1172.4 1825.5,1172.0 1826.5,1172.0 1827.5,1171.9 1828.5,1172.6 1829.5,1172.4 1830.5,1171.6 1831.5,1172.3 1832.5,1172.7 1833.5,1172.0 1834.5,1171.8 1835.5,1172.8 1836.5,1172.9 1837.5,1172.7 1838.5,1172.7 1839.5,1171.9 1840.5,1172.3 1841.5,1172.7 1842.5,1172.4 1843.5,1172.9 1844.5,1172.1 1845.5,1172.6 1846.5,1172.7 1847.5,1172.2 1848.5,1173.0 1849.5,1172.4 1850.5,1172.8 1851.5,1172.4 1852.5,1172.0 1853.5,1172.9 1854.5,1172.0 1855.5,1172.8 1856.5,1173.1 1857.5,1172.3 1858.5,1172.9 1859.5,1172.7 1860.5,1173.0 1861.5,1172.0 1862.5,1172.4 1863.5,1172.1 1864.5,1172.3 1865.5,1172.3 1866.5,1172.6 1867.5,1173.0 1868.5,1172.5 1869.5,1172.2 1870.5,1173.2 1871.5,1173.0 1872.5,1172.6 1873.5,1173.0 1874.5,1172.7 1875.5,1172.5 1876.5,1172.6 1877.5,1172.1 1878.5,1173.2 1879.5,1172.4 1880.5,1172.9 1881.5,1172.7 1882.5,1173.2 1883.5,1172.8 1884.5,1172.1 1885.5,1172.1 1886.5,1172.5 1887.5,1172.2 1888.5,1172.4 1889.5,1173.0 1890.5,1172.8 1891.5,1172.4 1892.5,1172.8 1893.5,1172.4 1894.5,1172.9 1895.5,1172.4 1896.5,1173.0 1897.5,1173.0 1898.5,1172.5 1899.5,1172.1 1900.5,1172.8 1901.5,1172.6 1902.5,1172.9 1903.5,1172.3 1904.5,1172.7 1905.5,1173.0 1906.5,1172.8 1907.5,1172.9 1908.5,1172.3 1909.5,1173.2 1910.5,1172.4 1911.5,1173.0 1912.5,1172.3 1913.5,1172.4 1914.5,1173.2 1915.5,1172.7 1916.5,1172.4 1917.5,1172.3 1918.5,1172.1 1919.5,1172.2 1920.5,1172.3 1921.5,1172.4 1922.5,1172.7 1923.5,1173.2 1924.5,1172.0 1925.5,1172.3 1926.5,1173.0 1927.5,1172.0 1928.5,1173.0 1929.5,1171.9 1930.5,1172.1 1931.5,1172.3 1932.5,1172.0 1933.5,1172.5 1934.5,1172.3 1935.5,1171.3 1936.5,1172.0 1937.5,1171.4 1938.5,1169.9 1939.5,1169.5 1940.5,1167.9 1941.5,1166.5 1942.5,1165.7 1943.5,1164.4 1944.5,1162.6 1945.5,1162.3 1946.0,1162.5 1946.5,1162.5 1947.5,1162.4 1948.5,1164.1 1949.5,1165.0 1950.5,1166.3 1951.5,1168.0 1952.5,1169.0 1953.5,1170.3 1954.5,1170.5 1955.5,1172.0 1956.5,1171.6 1957.5,1172.4 1958.5,1171.7 1959.5,1172.3 1960.5,1172.6 1961.5,1172.3 1962.5,1172.7 1963.5,1172.2 1964.5,1172.1 1965.5,1172.3 1966.5,1172.2 1967.5,1172.6 1968.5,1171.4 1969.5,1171.6 1970.5,1171.5 1971.5,1170.3 1972.5,1169.2 1973.5,1168.3 1974.5,1167.0 1975.5,1166.1 1976.5,1165.6 1977.0,1165.2 1977.5,1166.3 1978.5,1166.9 1979.5,1167.6 1980.5,1168.8 1981.5,1169.7 1982.5,1169.9 1983.5,1170.9 1984.5,1171.6 1985.5,1172.1 1986.5,1172.3 1987.5,1172.1 1988.5,1172.4 1989.5,1172.8 1990.5,1172.7 1991.5,1172.4 1992.5,1173.3 1993.5,1172.2 1994.5,1173.2 1995.5,1172.2 1996.5,1172.4 1997.5,1172.4 1998.5,1172.9 1999.5,1172.9 2000.5,1173.2 2001.5,1173.3 2002.5,1172.8 2003.5,1172.8 2004.5,1172.4 2005.5,1172.4 2006.5,1172.6 2007.5,1173.4 2008.5,1172.8 2009.5,1172.4 2010.5,1173.1 2011.5,1172.5 2012.5,1173.0 2013.5,1172.9 2014.5,1173.2 2015.5,1172.5 2016.5,1173.0 2017.5,1173.2 2018.5,1173.1 2019.5,1172.5 2020.5,1172.6 2021.5,1172.5 2022.5,1172.3 2023.5,1173.0 2024.5,1172.8 2025.5,1172.7 2026.5,1172.9 2027.5,1173.2 2028.5,1172.4 2029.5,1173.3 2030.5,1173.4 2031.5,1172.7 2032.5,1173.0 2033.5,1172.8 2034.5,1173.0 2035.5,1172.5 2036.5,1172.6 2037.5,1173.5 2038.5,1172.5 2039.5,1172.5 2040.5,1172.4 2041.5,1172.8 2042.5,1173.3 2043.5,1172.6 2044.5,1172.6 2045.5,1173.0 2046.5,1173.1 2047.5,1172.8 2048.5,1173.5 2049.5,1172.6 2050.5,1173.4 2051.5,1173.1 2052.5,1173.1 2053.5,1172.8 2054.5,1173.6 2055.5,1173.4 2056.5,1172.6 2057.5,1173.2 2058.5,1172.7 2059.5,1173.1 2060.5,1173.0 2061.5,1172.6 2062.5,1172.9 2063.5,1172.7 2064.5,1173.6 2065.5,1173.2 2066.5,1172.9 2067.5,1172.9 2068.5,1172.7 2069.5,1173.2 2070.5,1172.6 2071.5,1172.9 2072.5,1172.9 2073.5,1173.0 2074.5,1173.3 2075.5,1172.4 2076.5,1172.7 2077.5,1172.8 2078.5,1172.9 2079.5,1173.1 2080.5,1172.4 2081.5,1173.4 2082.5,1172.7 2083.5,1173.2 2084.5,1172.9 2085.5,1172.9 2086.5,1172.4 2087.5,1172.6 2088.5,1173.2 2089.5,1173.3 2090.5,1173.3 2091.5,1172.6 2092.5,1172.2 2093.5,1172.4 2094.5,1172.0 2095.5,1171.7 2096.5,1172.2 2097.5,1171.3 2098.5,1169.7 2099.5,1169.5 2100.5,1167.5 2101.5,1165.6 2102.5,1164.6 2103.5,1162.8 2104.5,1161.8 2105.0,1162.5 2105.5,1161.8 2106.5,1162.6 2107.5,1164.3 2108.5,1166.0 2109.5,1167.5 2110.5,1169.6 2111.5,1169.7 2112.5,1171.6 2113.5,1171.7 2114.5,1172.0 2115.5,1172.4 2116.5,1172.2 2117.5,1172.6 2118.5,1172.6 2119.5,1172.8 2120.5,1172.7 2121.5,1172.4 2122.5,1173.1 2123.5,1172.8 2124.5,1172.7 2125.5,1172.4 2126.5,1172.5 2127.5,1172.7 2128.5,1172.9 2129.5,1172.7 2130.5,1172.8 2131.5,1172.9 2132.5,1173.1 2133.5,1173.0 2134.5,1173.3 2135.5,1173.5 2136.5,1173.6 2137.5,1173.5 2138.5,1173.7 2139.5,1172.9 2140.5,1172.7 2141.5,1173.4 2142.5,1173.1 2143.5,1173.6 2144.5,1173.0 2145.5,1173.4 2146.5,1173.3 2147.5,1173.4 2148.5,1172.9 2149.5,1172.6 2150.5,1173.6 2151.5,1173.0 2152.5,1173.1 2153.5,1172.6 2154.5,1173.5 2155.5,1173.1 2156.5,1172.6 2157.5,1172.8 2158.5,1173.3 2159.5,1172.8 2160.5,1173.7 2161.5,1173.1 2162.5,1173.5 2163.5,1173.4 2164.5,1172.8 2165.5,1172.9 2166.5,1172.8 2167.5,1173.7 2168.5,1173.2 2169.5,1173.2 2170.5,1173.5 2171.5,1172.7 2172.5,1173.5 2173.5,1172.7 2174.5,1173.3 2175.5,1173.7 2176.5,1172.6 2177.5,1172.9 2178.5,1173.1 2179.5,1173.0 2180.5,1173.2 2181.5,1173.5 2182.5,1172.7 2183.5,1173.0 2184.5,1172.7 2185.5,1172.9 2186.5,1173.7 2187.5,1172.7 2188.5,1173.6 2189.5,1173.5 2190.5,1173.3 2191.5,1173.1 2192.5,1173.7 2193.5,1173.3 2194.5,1173.3 2195.5,1173.8 2196.5,1173.5 2197.5,1173.4 2198.5,1173.7 2199.5,1173.6 2200.5,1173.1 2201.5,1173.7 2202.5,1173.3 2203.5,1173.1 2204.5,1173.6 2205.5,1173.4 2206.5,1173.8 2207.5,1173.8 2208.5,1173.8 2209.5,1172.7 2210.5,1173.2 2211.5,1173.1 2212.5,1173.3 2213.5,1173.4 2214.5,1173.1 2215.5,1173.5 2216.5,1173.5 2217.5,1173.5 2218.5,1173.1 2219.5,1172.7 2220.5,1172.3 2221.5,1172.5 2222.5,1172.4 2223.5,1171.5 2224.5,1171.2 2225.5,1170.8 2226.0,1171.3 2226.5,1171.5 2227.5,1171.9 2228.5,1171.9 2229.5,1172.6 2230.5,1171.9 2231.5,1172.5 2232.5,1173.3 2233.5,1172.7 2234.5,1173.0 2235.5,1172.9 2236.5,1173.9 2237.5,1173.8 2238.5,1172.9 2239.5,1173.2 2240.5,1173.0 2241.5,1173.0 2242.5,1173.6 2243.5,1172.9 2244.5,1173.8 2245.5,1173.0 2246.5,1173.0 2247.5,1173.1 2248.5,1173.0 2249.5,1173.7 2250.5,1173.8 2251.5,1173.5 2252.5,1173.2 2253.5,1173.2 2254.5,1173.1 2255.5,1173.7 2256.5,1173.6 2257.5,1173.9 2258.5,1172.9 2259.5,1173.6 2260.5,1173.2 2261.5,1172.8 2262.5,1173.5 2263.5,1173.6 2264.5,1173.8 2265.5,1173.7 2266.5,1173.0 2267.5,1173.2 2268.5,1173.1 2269.5,1173.2 2270.5,1172.8 2271.5,1173.9 2272.5,1173.6 2273.5,1173.4 2274.5,1173.1 2275.5,1173.7 2276.5,1173.7 2277.5,1174.0 2278.5,1173.7 2279.5,1173.8 2280.5,1173.4 2281.5,1173.4 2282.5,1173.0 2283.5,1174.0 2284.5,1173.3 2285.5,1173.7 2286.5,1173.7 2287.5,1173.5 2288.5,1173.0 2289.5,1173.8 2290.5,1173.3 2291.5,1173.5 2292.5,1174.0 2293.5,1173.7 2294.5,1174.0 2295.5,1173.7 2296.5,1173.8 2297.5,1173.3 2298.5,1173.6 2299.5,1173.1 2300.5,1173.1 2301.5,1173.1 2302.5,1173.0 2303.5,1173.9 2304.5,1173.8 2305.5,1174.0 2306.5,1173.4 2307.5,1173.1 2308.5,1173.5"/>
</g>
<g fill="#000">
<circle cx="343.0" cy="349.8" r="14"/>
<circle cx="389.7" cy="287.3" r="14"/>
<circle cx="448.0" cy="253.1" r="14"/>
<circle cx="518.0" cy="375.8" r="14"/>
<circle cx="627.1" cy="323.7" r="14"/>
<circle cx="685.5" cy="372.1" r="14"/>
<circle cx="720.9" cy="340.6" r="14"/>
<circle cx="791.0" cy="365.0" r="14"/>
<circle cx="812.9" cy="383.9" r="14"/>
<circle cx="838.2" cy="393.6" r="14"/>
<circle cx="1186.2" cy="375.5" r="14"/>
<circle cx="392.0" cy="939.9" r="14"/>
<circle cx="723.6" cy="917.0" r="14"/>
<rect x="846.8" y="279.3" width="32" height="30"/>
<rect x="941.9" y="227.6" width="32" height="30"/>
<rect x="986.4" y="296.0" width="32" height="30"/>
<rect x="1325.3" y="364.3" width="32" height="30"/>
<rect x="1784.0" y="349.5" width="32" height="30"/>
</g>
<g stroke="#000" stroke-width="6" fill="none">
<rect x="218.3" y="38" width="2092.7" height="1538.7"/>
<line x1="218" y1="1215.2" x2="2311" y2="1215.2"/>
<line x1="218" y1="1410.9" x2="2311" y2="1410.9"/>
<line x1="218.3" y1="1576" x2="218.3" y2="1606.5"/>
<line x1="349.1" y1="1576" x2="349.1" y2="1591.6"/>
<line x1="479.9" y1="1576" x2="479.9" y2="1606.5"/>
<line x1="610.6" y1="1576" x2="610.6" y2="1591.6"/>
<line x1="741.4" y1="1576" x2="741.4" y2="1606.5"/>
<line x1="872.2" y1="1576" x2="872.2" y2="1591.6"/>
<line x1="1003.0" y1="1576" x2="1003.0" y2="1606.5"/>
<line x1="1133.7" y1="1576" x2="1133.7" y2="1591.6"/>
<line x1="1264.5" y1="1576" x2="1264.5" y2="1606.5"/>
<line x1="1395.3" y1="1576" x2="1395.3" y2="1591.6"/>
<line x1="1526.0" y1="1576" x2="1526.0" y2="1606.5"/>
<line x1="1656.8" y1="1576" x2="1656.8" y2="1591.6"/>
<line x1="1787.6" y1="1576" x2="1787.6" y2="1606.5"/>
<line x1="1918.4" y1="1576" x2="1918.4" y2="1591.6"/>
<line x1="2049.2" y1="1576" x2="2049.2" y2="1606.5"/>
<line x1="2179.9" y1="1576" x2="2179.9" y2="1591.6"/>
<line x1="2310.7" y1="1576" x2="2310.7" y2="1606.5"/>
</g>
<text x="222.3" y="1699" font-size="100" text-anchor="middle">10</text>
<text x="483.9" y="1699" font-size="100" text-anchor="middle">20</text>
<text x="745.4" y="1699" font-size="100" text-anchor="middle">30</text>
<text x="1007.0" y="1699" font-size="100" text-anchor="middle">40</text>
<text x="1268.5" y="1699" font-size="100" text-anchor="middle">50</text>
<text x="1530.0" y="1699" font-size="100" text-anchor="middle">60</text>
<text x="1791.6" y="1699" font-size="100" text-anchor="middle">70</text>
<text x="2053.2" y="1699" font-size="100" text-anchor="middle">80</text>
<text x="2314.7" y="1699" font-size="100" text-anchor="middle">90</text>
<text transform="translate(119.6,1503.5) rotate(-90)" font-size="116" id="ylab">Relative Intensity <tspan font-weight="normal">(</tspan>a.u.<tspan font-weight="normal">)</tspan></text>
<text x="898.6" y="1832" font-size="116" id="xlab1">2θ</text>
<text x="1132" y="1832" font-size="117" id="xlab2">deg.</text>
<text transform="translate(1004.5,1828) scale(1.25,1)" font-size="94" font-weight="normal" id="xp1">（</text>
<text transform="translate(1346.5,1828) scale(1.25,1)" font-size="94" font-weight="normal" id="xp2">）</text>
<text x="2281" y="368.4" font-size="87" text-anchor="end">T80</text>
<text x="2281" y="543.0" font-size="87" text-anchor="end">T65</text>
<text x="2281" y="730.4" font-size="87" text-anchor="end">T50</text>
<text x="2281" y="923.6" font-size="87" text-anchor="end">T35</text>
<text x="2281" y="1127.0" font-size="87" text-anchor="end">T25</text>
<text x="2278" y="1286.3" font-size="58" text-anchor="end" id="nbl">Newberyite <tspan font-weight="normal">(</tspan>JCPDS#72-0023<tspan font-weight="normal">)</tspan></text>
<text x="2277.5" y="1481" font-size="58" text-anchor="end" id="til">Titanium <tspan font-weight="normal">(</tspan>JCPDS#44-1294<tspan font-weight="normal">)</tspan></text>
<rect x="1602.4" y="82.2" width="33" height="30.5" fill="#000"/>
<text x="1668" y="123.9" font-size="84" id="leg1">Ti</text>
<circle cx="1618" cy="194.4" r="14.5" fill="#000"/>
<text x="1663" y="242.5" font-size="87.3" id="leg2">MgHPO<tspan dy="17">4</tspan><tspan dy="-17">·3H</tspan><tspan dy="17">2</tspan><tspan dy="-17">O</tspan></text>
<text transform="translate(402,259.6) rotate(-90)" font-size="58"><tspan font-weight="normal">(</tspan>020<tspan font-weight="normal">)</tspan></text>
<text transform="translate(464,229.8) rotate(-90)" font-size="58"><tspan font-weight="normal">(</tspan>021<tspan font-weight="normal">)</tspan></text>
<text transform="translate(737.5,312.5) rotate(-90)" font-size="60"><tspan font-weight="normal">(</tspan>113<tspan font-weight="normal">)</tspan></text>
</svg></body></html>
